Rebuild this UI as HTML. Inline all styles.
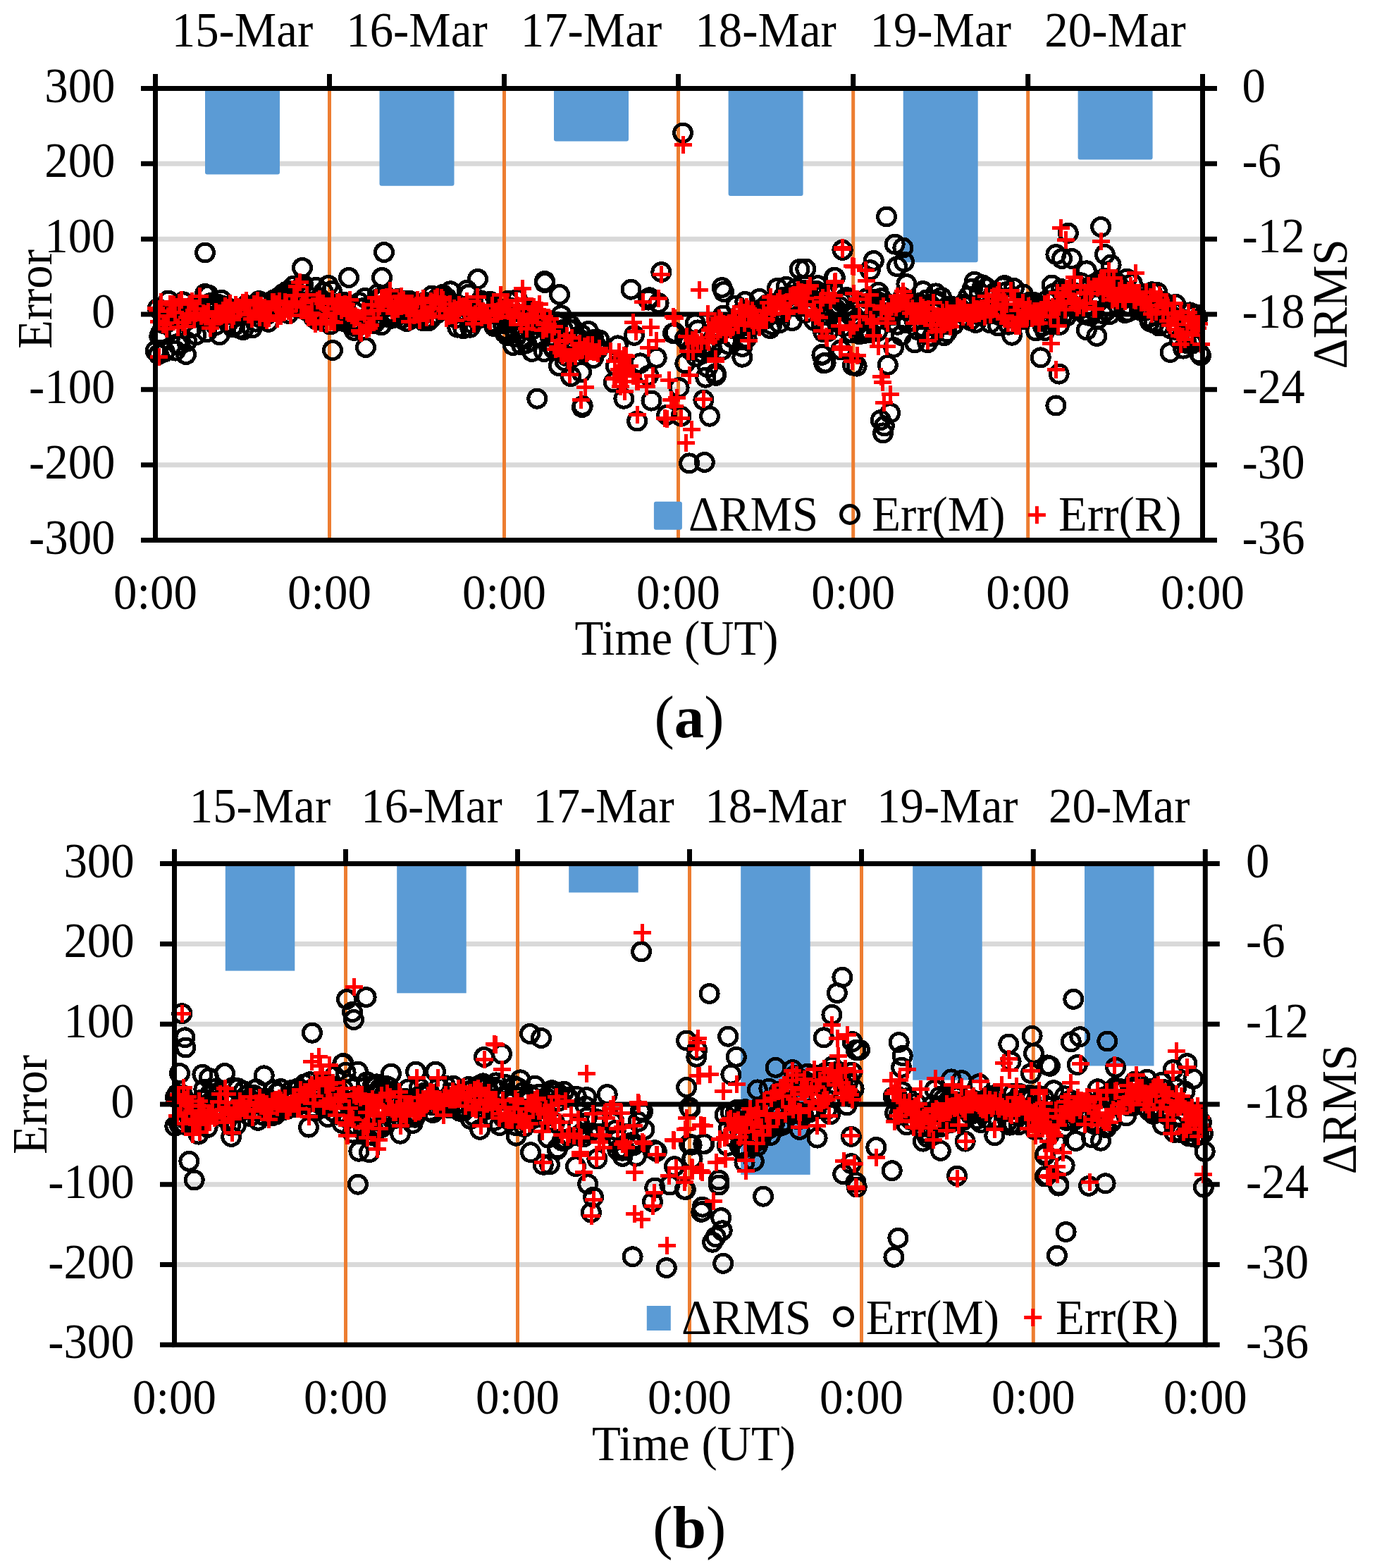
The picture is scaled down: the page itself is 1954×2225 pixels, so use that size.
<!DOCTYPE html>
<html><head><meta charset="utf-8"><title>Error and RMS charts</title>
<style>html,body{margin:0;padding:0;background:#fff;}svg{display:block;}</style></head>
<body><svg width="1954" height="2225" viewBox="0 0 1954 2225" font-family="'Liberation Serif','Times New Roman',serif" font-size="70" fill="#000">
<rect width="1954" height="2225" fill="#fff"/>
<line x1="220.5" y1="232.3" x2="1706.5" y2="232.3" stroke="#d9d9d9" stroke-width="7"/>
<line x1="220.5" y1="339.2" x2="1706.5" y2="339.2" stroke="#d9d9d9" stroke-width="7"/>
<line x1="220.5" y1="552.8" x2="1706.5" y2="552.8" stroke="#d9d9d9" stroke-width="7"/>
<line x1="220.5" y1="659.7" x2="1706.5" y2="659.7" stroke="#d9d9d9" stroke-width="7"/>
<line x1="467.5" y1="125.5" x2="467.5" y2="766.5" stroke="#ed7d31" stroke-width="5"/>
<line x1="715.5" y1="125.5" x2="715.5" y2="766.5" stroke="#ed7d31" stroke-width="5"/>
<line x1="962.5" y1="125.5" x2="962.5" y2="766.5" stroke="#ed7d31" stroke-width="5"/>
<line x1="1210.7" y1="125.5" x2="1210.7" y2="766.5" stroke="#ed7d31" stroke-width="5"/>
<line x1="1458.7" y1="125.5" x2="1458.7" y2="766.5" stroke="#ed7d31" stroke-width="5"/>
<rect x="291" y="125.5" width="106" height="122.1" fill="#5b9bd5" rx="3"/>
<rect x="538.5" y="125.5" width="106" height="138.2" fill="#5b9bd5" rx="3"/>
<rect x="786" y="125.5" width="106" height="75.1" fill="#5b9bd5" rx="3"/>
<rect x="1033.6" y="125.5" width="106" height="152.6" fill="#5b9bd5" rx="3"/>
<rect x="1281.7" y="125.5" width="106" height="246.8" fill="#5b9bd5" rx="3"/>
<rect x="1529.6" y="125.5" width="106" height="101.1" fill="#5b9bd5" rx="3"/>
<line x1="220.5" y1="446" x2="1706.5" y2="446" stroke="#000" stroke-width="7"/>
<path d="M208.1 498a12.5 12.5 0 1 0 25 0a12.5 12.5 0 1 0 -25 0M211.3 437.6a12.5 12.5 0 1 0 25 0a12.5 12.5 0 1 0 -25 0M213.8 477.3a12.5 12.5 0 1 0 25 0a12.5 12.5 0 1 0 -25 0M215.9 472.3a12.5 12.5 0 1 0 25 0a12.5 12.5 0 1 0 -25 0M219 459a12.5 12.5 0 1 0 25 0a12.5 12.5 0 1 0 -25 0M221.4 499.1a12.5 12.5 0 1 0 25 0a12.5 12.5 0 1 0 -25 0M223.5 458.4a12.5 12.5 0 1 0 25 0a12.5 12.5 0 1 0 -25 0M226.4 426.5a12.5 12.5 0 1 0 25 0a12.5 12.5 0 1 0 -25 0M229.2 451.9a12.5 12.5 0 1 0 25 0a12.5 12.5 0 1 0 -25 0M231.2 464.8a12.5 12.5 0 1 0 25 0a12.5 12.5 0 1 0 -25 0M234.3 445.9a12.5 12.5 0 1 0 25 0a12.5 12.5 0 1 0 -25 0M236.6 497.6a12.5 12.5 0 1 0 25 0a12.5 12.5 0 1 0 -25 0M239.7 489a12.5 12.5 0 1 0 25 0a12.5 12.5 0 1 0 -25 0M242.3 489.6a12.5 12.5 0 1 0 25 0a12.5 12.5 0 1 0 -25 0M245.1 444.4a12.5 12.5 0 1 0 25 0a12.5 12.5 0 1 0 -25 0M247.4 428.3a12.5 12.5 0 1 0 25 0a12.5 12.5 0 1 0 -25 0M249.8 450.6a12.5 12.5 0 1 0 25 0a12.5 12.5 0 1 0 -25 0M252.7 484.7a12.5 12.5 0 1 0 25 0a12.5 12.5 0 1 0 -25 0M255.3 440.2a12.5 12.5 0 1 0 25 0a12.5 12.5 0 1 0 -25 0M257.9 447.1a12.5 12.5 0 1 0 25 0a12.5 12.5 0 1 0 -25 0M259.8 465.1a12.5 12.5 0 1 0 25 0a12.5 12.5 0 1 0 -25 0M262.3 435a12.5 12.5 0 1 0 25 0a12.5 12.5 0 1 0 -25 0M265.7 475.3a12.5 12.5 0 1 0 25 0a12.5 12.5 0 1 0 -25 0M268 431.9a12.5 12.5 0 1 0 25 0a12.5 12.5 0 1 0 -25 0M270.6 444.3a12.5 12.5 0 1 0 25 0a12.5 12.5 0 1 0 -25 0M272.7 449.1a12.5 12.5 0 1 0 25 0a12.5 12.5 0 1 0 -25 0M275.7 444.7a12.5 12.5 0 1 0 25 0a12.5 12.5 0 1 0 -25 0M278.4 417a12.5 12.5 0 1 0 25 0a12.5 12.5 0 1 0 -25 0M281 471.3a12.5 12.5 0 1 0 25 0a12.5 12.5 0 1 0 -25 0M283.1 418.5a12.5 12.5 0 1 0 25 0a12.5 12.5 0 1 0 -25 0M285.5 430.1a12.5 12.5 0 1 0 25 0a12.5 12.5 0 1 0 -25 0M288.2 448.9a12.5 12.5 0 1 0 25 0a12.5 12.5 0 1 0 -25 0M291 431.4a12.5 12.5 0 1 0 25 0a12.5 12.5 0 1 0 -25 0M293.5 461.4a12.5 12.5 0 1 0 25 0a12.5 12.5 0 1 0 -25 0M295.8 431.5a12.5 12.5 0 1 0 25 0a12.5 12.5 0 1 0 -25 0M299 475.3a12.5 12.5 0 1 0 25 0a12.5 12.5 0 1 0 -25 0M301.7 425.8a12.5 12.5 0 1 0 25 0a12.5 12.5 0 1 0 -25 0M304.2 434.2a12.5 12.5 0 1 0 25 0a12.5 12.5 0 1 0 -25 0M307 446.9a12.5 12.5 0 1 0 25 0a12.5 12.5 0 1 0 -25 0M309 435.5a12.5 12.5 0 1 0 25 0a12.5 12.5 0 1 0 -25 0M311.3 457.9a12.5 12.5 0 1 0 25 0a12.5 12.5 0 1 0 -25 0M314.2 444a12.5 12.5 0 1 0 25 0a12.5 12.5 0 1 0 -25 0M317.3 463.9a12.5 12.5 0 1 0 25 0a12.5 12.5 0 1 0 -25 0M319.6 462.8a12.5 12.5 0 1 0 25 0a12.5 12.5 0 1 0 -25 0M322.2 449.2a12.5 12.5 0 1 0 25 0a12.5 12.5 0 1 0 -25 0M324.5 441.8a12.5 12.5 0 1 0 25 0a12.5 12.5 0 1 0 -25 0M327.3 466.1a12.5 12.5 0 1 0 25 0a12.5 12.5 0 1 0 -25 0M329.4 444.5a12.5 12.5 0 1 0 25 0a12.5 12.5 0 1 0 -25 0M332.4 468.2a12.5 12.5 0 1 0 25 0a12.5 12.5 0 1 0 -25 0M335 444.8a12.5 12.5 0 1 0 25 0a12.5 12.5 0 1 0 -25 0M337 433a12.5 12.5 0 1 0 25 0a12.5 12.5 0 1 0 -25 0M340.2 433.7a12.5 12.5 0 1 0 25 0a12.5 12.5 0 1 0 -25 0M343.1 447.2a12.5 12.5 0 1 0 25 0a12.5 12.5 0 1 0 -25 0M345.2 465.5a12.5 12.5 0 1 0 25 0a12.5 12.5 0 1 0 -25 0M347.9 436.5a12.5 12.5 0 1 0 25 0a12.5 12.5 0 1 0 -25 0M350.2 456.6a12.5 12.5 0 1 0 25 0a12.5 12.5 0 1 0 -25 0M352.5 441.8a12.5 12.5 0 1 0 25 0a12.5 12.5 0 1 0 -25 0M355.2 427a12.5 12.5 0 1 0 25 0a12.5 12.5 0 1 0 -25 0M357.7 451.5a12.5 12.5 0 1 0 25 0a12.5 12.5 0 1 0 -25 0M360.4 431.4a12.5 12.5 0 1 0 25 0a12.5 12.5 0 1 0 -25 0M363.1 442.9a12.5 12.5 0 1 0 25 0a12.5 12.5 0 1 0 -25 0M366.3 446.5a12.5 12.5 0 1 0 25 0a12.5 12.5 0 1 0 -25 0M368.4 456.9a12.5 12.5 0 1 0 25 0a12.5 12.5 0 1 0 -25 0M370.6 440.7a12.5 12.5 0 1 0 25 0a12.5 12.5 0 1 0 -25 0M373.3 436.9a12.5 12.5 0 1 0 25 0a12.5 12.5 0 1 0 -25 0M376.1 425.5a12.5 12.5 0 1 0 25 0a12.5 12.5 0 1 0 -25 0M378.9 439a12.5 12.5 0 1 0 25 0a12.5 12.5 0 1 0 -25 0M381.2 430.9a12.5 12.5 0 1 0 25 0a12.5 12.5 0 1 0 -25 0M383.5 421.7a12.5 12.5 0 1 0 25 0a12.5 12.5 0 1 0 -25 0M386.7 429.1a12.5 12.5 0 1 0 25 0a12.5 12.5 0 1 0 -25 0M389 416.8a12.5 12.5 0 1 0 25 0a12.5 12.5 0 1 0 -25 0M391.8 431.2a12.5 12.5 0 1 0 25 0a12.5 12.5 0 1 0 -25 0M394.1 413.7a12.5 12.5 0 1 0 25 0a12.5 12.5 0 1 0 -25 0M397.1 444.9a12.5 12.5 0 1 0 25 0a12.5 12.5 0 1 0 -25 0M399.3 413.4a12.5 12.5 0 1 0 25 0a12.5 12.5 0 1 0 -25 0M401.9 422.5a12.5 12.5 0 1 0 25 0a12.5 12.5 0 1 0 -25 0M404.2 405.6a12.5 12.5 0 1 0 25 0a12.5 12.5 0 1 0 -25 0M407.6 436a12.5 12.5 0 1 0 25 0a12.5 12.5 0 1 0 -25 0M409.9 427.3a12.5 12.5 0 1 0 25 0a12.5 12.5 0 1 0 -25 0M412.3 429.7a12.5 12.5 0 1 0 25 0a12.5 12.5 0 1 0 -25 0M415.2 407.4a12.5 12.5 0 1 0 25 0a12.5 12.5 0 1 0 -25 0M417.5 403.9a12.5 12.5 0 1 0 25 0a12.5 12.5 0 1 0 -25 0M420.5 440a12.5 12.5 0 1 0 25 0a12.5 12.5 0 1 0 -25 0M422.4 435.9a12.5 12.5 0 1 0 25 0a12.5 12.5 0 1 0 -25 0M425.1 420.6a12.5 12.5 0 1 0 25 0a12.5 12.5 0 1 0 -25 0M427.9 431.9a12.5 12.5 0 1 0 25 0a12.5 12.5 0 1 0 -25 0M430.2 440.6a12.5 12.5 0 1 0 25 0a12.5 12.5 0 1 0 -25 0M432.9 451.2a12.5 12.5 0 1 0 25 0a12.5 12.5 0 1 0 -25 0M435.9 407.8a12.5 12.5 0 1 0 25 0a12.5 12.5 0 1 0 -25 0M437.7 454.4a12.5 12.5 0 1 0 25 0a12.5 12.5 0 1 0 -25 0M440.9 422.9a12.5 12.5 0 1 0 25 0a12.5 12.5 0 1 0 -25 0M443.3 442.7a12.5 12.5 0 1 0 25 0a12.5 12.5 0 1 0 -25 0M446.3 414.5a12.5 12.5 0 1 0 25 0a12.5 12.5 0 1 0 -25 0M448.5 446.7a12.5 12.5 0 1 0 25 0a12.5 12.5 0 1 0 -25 0M451.4 444.7a12.5 12.5 0 1 0 25 0a12.5 12.5 0 1 0 -25 0M453.5 431.2a12.5 12.5 0 1 0 25 0a12.5 12.5 0 1 0 -25 0M456.3 460.5a12.5 12.5 0 1 0 25 0a12.5 12.5 0 1 0 -25 0M458.3 412.8a12.5 12.5 0 1 0 25 0a12.5 12.5 0 1 0 -25 0M461 438.3a12.5 12.5 0 1 0 25 0a12.5 12.5 0 1 0 -25 0M463.8 433.2a12.5 12.5 0 1 0 25 0a12.5 12.5 0 1 0 -25 0M466.7 445.2a12.5 12.5 0 1 0 25 0a12.5 12.5 0 1 0 -25 0M468.9 430.5a12.5 12.5 0 1 0 25 0a12.5 12.5 0 1 0 -25 0M471.9 447.7a12.5 12.5 0 1 0 25 0a12.5 12.5 0 1 0 -25 0M474.4 455.8a12.5 12.5 0 1 0 25 0a12.5 12.5 0 1 0 -25 0M477.3 429.1a12.5 12.5 0 1 0 25 0a12.5 12.5 0 1 0 -25 0M479.4 445.8a12.5 12.5 0 1 0 25 0a12.5 12.5 0 1 0 -25 0M482.1 452.5a12.5 12.5 0 1 0 25 0a12.5 12.5 0 1 0 -25 0M485 461a12.5 12.5 0 1 0 25 0a12.5 12.5 0 1 0 -25 0M487.5 457.5a12.5 12.5 0 1 0 25 0a12.5 12.5 0 1 0 -25 0M490 468.9a12.5 12.5 0 1 0 25 0a12.5 12.5 0 1 0 -25 0M492.5 463.6a12.5 12.5 0 1 0 25 0a12.5 12.5 0 1 0 -25 0M495.2 454.4a12.5 12.5 0 1 0 25 0a12.5 12.5 0 1 0 -25 0M497.4 429.2a12.5 12.5 0 1 0 25 0a12.5 12.5 0 1 0 -25 0M500 438.3a12.5 12.5 0 1 0 25 0a12.5 12.5 0 1 0 -25 0M502.2 437.2a12.5 12.5 0 1 0 25 0a12.5 12.5 0 1 0 -25 0M505.5 422.9a12.5 12.5 0 1 0 25 0a12.5 12.5 0 1 0 -25 0M507.8 460.1a12.5 12.5 0 1 0 25 0a12.5 12.5 0 1 0 -25 0M510.1 458.9a12.5 12.5 0 1 0 25 0a12.5 12.5 0 1 0 -25 0M512.5 446.5a12.5 12.5 0 1 0 25 0a12.5 12.5 0 1 0 -25 0M515.8 459.4a12.5 12.5 0 1 0 25 0a12.5 12.5 0 1 0 -25 0M518.3 459.1a12.5 12.5 0 1 0 25 0a12.5 12.5 0 1 0 -25 0M520.3 457.1a12.5 12.5 0 1 0 25 0a12.5 12.5 0 1 0 -25 0M523.2 417.5a12.5 12.5 0 1 0 25 0a12.5 12.5 0 1 0 -25 0M525.9 423.2a12.5 12.5 0 1 0 25 0a12.5 12.5 0 1 0 -25 0M528.5 461.4a12.5 12.5 0 1 0 25 0a12.5 12.5 0 1 0 -25 0M531.4 424.2a12.5 12.5 0 1 0 25 0a12.5 12.5 0 1 0 -25 0M533.6 419a12.5 12.5 0 1 0 25 0a12.5 12.5 0 1 0 -25 0M535.7 433.5a12.5 12.5 0 1 0 25 0a12.5 12.5 0 1 0 -25 0M538.9 450.2a12.5 12.5 0 1 0 25 0a12.5 12.5 0 1 0 -25 0M541.2 449a12.5 12.5 0 1 0 25 0a12.5 12.5 0 1 0 -25 0M544 451.7a12.5 12.5 0 1 0 25 0a12.5 12.5 0 1 0 -25 0M546.8 429.3a12.5 12.5 0 1 0 25 0a12.5 12.5 0 1 0 -25 0M548.9 450.2a12.5 12.5 0 1 0 25 0a12.5 12.5 0 1 0 -25 0M551.4 424a12.5 12.5 0 1 0 25 0a12.5 12.5 0 1 0 -25 0M553.8 427.4a12.5 12.5 0 1 0 25 0a12.5 12.5 0 1 0 -25 0M556.7 452.1a12.5 12.5 0 1 0 25 0a12.5 12.5 0 1 0 -25 0M559.3 431.7a12.5 12.5 0 1 0 25 0a12.5 12.5 0 1 0 -25 0M561.8 426.8a12.5 12.5 0 1 0 25 0a12.5 12.5 0 1 0 -25 0M564.5 456a12.5 12.5 0 1 0 25 0a12.5 12.5 0 1 0 -25 0M566.9 446.9a12.5 12.5 0 1 0 25 0a12.5 12.5 0 1 0 -25 0M569.4 427a12.5 12.5 0 1 0 25 0a12.5 12.5 0 1 0 -25 0M572.1 447.6a12.5 12.5 0 1 0 25 0a12.5 12.5 0 1 0 -25 0M575.2 451.6a12.5 12.5 0 1 0 25 0a12.5 12.5 0 1 0 -25 0M577.8 445.1a12.5 12.5 0 1 0 25 0a12.5 12.5 0 1 0 -25 0M580.4 433.4a12.5 12.5 0 1 0 25 0a12.5 12.5 0 1 0 -25 0M583 439.1a12.5 12.5 0 1 0 25 0a12.5 12.5 0 1 0 -25 0M585.5 448.1a12.5 12.5 0 1 0 25 0a12.5 12.5 0 1 0 -25 0M588.2 455.4a12.5 12.5 0 1 0 25 0a12.5 12.5 0 1 0 -25 0M590.5 429a12.5 12.5 0 1 0 25 0a12.5 12.5 0 1 0 -25 0M592.6 431.5a12.5 12.5 0 1 0 25 0a12.5 12.5 0 1 0 -25 0M595.5 455.4a12.5 12.5 0 1 0 25 0a12.5 12.5 0 1 0 -25 0M598.5 452.5a12.5 12.5 0 1 0 25 0a12.5 12.5 0 1 0 -25 0M600.5 419.5a12.5 12.5 0 1 0 25 0a12.5 12.5 0 1 0 -25 0M603.6 428.8a12.5 12.5 0 1 0 25 0a12.5 12.5 0 1 0 -25 0M605.9 445.8a12.5 12.5 0 1 0 25 0a12.5 12.5 0 1 0 -25 0M608.3 422.4a12.5 12.5 0 1 0 25 0a12.5 12.5 0 1 0 -25 0M610.6 424.6a12.5 12.5 0 1 0 25 0a12.5 12.5 0 1 0 -25 0M613.2 426.1a12.5 12.5 0 1 0 25 0a12.5 12.5 0 1 0 -25 0M615.9 417.9a12.5 12.5 0 1 0 25 0a12.5 12.5 0 1 0 -25 0M618.6 431.3a12.5 12.5 0 1 0 25 0a12.5 12.5 0 1 0 -25 0M621.4 422.8a12.5 12.5 0 1 0 25 0a12.5 12.5 0 1 0 -25 0M624.1 427.4a12.5 12.5 0 1 0 25 0a12.5 12.5 0 1 0 -25 0M626.8 413.3a12.5 12.5 0 1 0 25 0a12.5 12.5 0 1 0 -25 0M628.7 432.5a12.5 12.5 0 1 0 25 0a12.5 12.5 0 1 0 -25 0M631.5 437.6a12.5 12.5 0 1 0 25 0a12.5 12.5 0 1 0 -25 0M634.1 451.3a12.5 12.5 0 1 0 25 0a12.5 12.5 0 1 0 -25 0M636.8 464.6a12.5 12.5 0 1 0 25 0a12.5 12.5 0 1 0 -25 0M639.7 444a12.5 12.5 0 1 0 25 0a12.5 12.5 0 1 0 -25 0M642 443.1a12.5 12.5 0 1 0 25 0a12.5 12.5 0 1 0 -25 0M644.9 466.2a12.5 12.5 0 1 0 25 0a12.5 12.5 0 1 0 -25 0M647.1 435.2a12.5 12.5 0 1 0 25 0a12.5 12.5 0 1 0 -25 0M650.2 411.8a12.5 12.5 0 1 0 25 0a12.5 12.5 0 1 0 -25 0M652.4 417.8a12.5 12.5 0 1 0 25 0a12.5 12.5 0 1 0 -25 0M654.6 464.7a12.5 12.5 0 1 0 25 0a12.5 12.5 0 1 0 -25 0M657 458.6a12.5 12.5 0 1 0 25 0a12.5 12.5 0 1 0 -25 0M659.6 433.9a12.5 12.5 0 1 0 25 0a12.5 12.5 0 1 0 -25 0M663.1 452.8a12.5 12.5 0 1 0 25 0a12.5 12.5 0 1 0 -25 0M665.6 452.5a12.5 12.5 0 1 0 25 0a12.5 12.5 0 1 0 -25 0M667.8 430.9a12.5 12.5 0 1 0 25 0a12.5 12.5 0 1 0 -25 0M669.9 426.4a12.5 12.5 0 1 0 25 0a12.5 12.5 0 1 0 -25 0M673.2 430.8a12.5 12.5 0 1 0 25 0a12.5 12.5 0 1 0 -25 0M675.9 449a12.5 12.5 0 1 0 25 0a12.5 12.5 0 1 0 -25 0M677.7 429.8a12.5 12.5 0 1 0 25 0a12.5 12.5 0 1 0 -25 0M680.4 429.8a12.5 12.5 0 1 0 25 0a12.5 12.5 0 1 0 -25 0M683.1 427.7a12.5 12.5 0 1 0 25 0a12.5 12.5 0 1 0 -25 0M686.2 457.6a12.5 12.5 0 1 0 25 0a12.5 12.5 0 1 0 -25 0M688.8 463.2a12.5 12.5 0 1 0 25 0a12.5 12.5 0 1 0 -25 0M691.3 435.3a12.5 12.5 0 1 0 25 0a12.5 12.5 0 1 0 -25 0M693.4 460.5a12.5 12.5 0 1 0 25 0a12.5 12.5 0 1 0 -25 0M696 443a12.5 12.5 0 1 0 25 0a12.5 12.5 0 1 0 -25 0M699 449.1a12.5 12.5 0 1 0 25 0a12.5 12.5 0 1 0 -25 0M701.1 459.4a12.5 12.5 0 1 0 25 0a12.5 12.5 0 1 0 -25 0M703.6 472.1a12.5 12.5 0 1 0 25 0a12.5 12.5 0 1 0 -25 0M706.6 468.7a12.5 12.5 0 1 0 25 0a12.5 12.5 0 1 0 -25 0M708.7 426.6a12.5 12.5 0 1 0 25 0a12.5 12.5 0 1 0 -25 0M711.7 436.7a12.5 12.5 0 1 0 25 0a12.5 12.5 0 1 0 -25 0M714.4 464.6a12.5 12.5 0 1 0 25 0a12.5 12.5 0 1 0 -25 0M717 454.8a12.5 12.5 0 1 0 25 0a12.5 12.5 0 1 0 -25 0M719.4 478.5a12.5 12.5 0 1 0 25 0a12.5 12.5 0 1 0 -25 0M721.5 424.8a12.5 12.5 0 1 0 25 0a12.5 12.5 0 1 0 -25 0M724.2 466.3a12.5 12.5 0 1 0 25 0a12.5 12.5 0 1 0 -25 0M727.5 489.4a12.5 12.5 0 1 0 25 0a12.5 12.5 0 1 0 -25 0M729.4 454.3a12.5 12.5 0 1 0 25 0a12.5 12.5 0 1 0 -25 0M732 480.9a12.5 12.5 0 1 0 25 0a12.5 12.5 0 1 0 -25 0M734.7 486.9a12.5 12.5 0 1 0 25 0a12.5 12.5 0 1 0 -25 0M737.4 451.3a12.5 12.5 0 1 0 25 0a12.5 12.5 0 1 0 -25 0M740.2 469.4a12.5 12.5 0 1 0 25 0a12.5 12.5 0 1 0 -25 0M742.3 441.5a12.5 12.5 0 1 0 25 0a12.5 12.5 0 1 0 -25 0M745 446.2a12.5 12.5 0 1 0 25 0a12.5 12.5 0 1 0 -25 0M747.4 460.4a12.5 12.5 0 1 0 25 0a12.5 12.5 0 1 0 -25 0M750.6 478.3a12.5 12.5 0 1 0 25 0a12.5 12.5 0 1 0 -25 0M752.7 455.3a12.5 12.5 0 1 0 25 0a12.5 12.5 0 1 0 -25 0M755.2 457.4a12.5 12.5 0 1 0 25 0a12.5 12.5 0 1 0 -25 0M758 457.9a12.5 12.5 0 1 0 25 0a12.5 12.5 0 1 0 -25 0M760.3 465a12.5 12.5 0 1 0 25 0a12.5 12.5 0 1 0 -25 0M762.9 467.9a12.5 12.5 0 1 0 25 0a12.5 12.5 0 1 0 -25 0M766.2 470.6a12.5 12.5 0 1 0 25 0a12.5 12.5 0 1 0 -25 0M768.1 477.4a12.5 12.5 0 1 0 25 0a12.5 12.5 0 1 0 -25 0M770.5 490.7a12.5 12.5 0 1 0 25 0a12.5 12.5 0 1 0 -25 0M773.3 495.4a12.5 12.5 0 1 0 25 0a12.5 12.5 0 1 0 -25 0M776.3 456.5a12.5 12.5 0 1 0 25 0a12.5 12.5 0 1 0 -25 0M778.6 460a12.5 12.5 0 1 0 25 0a12.5 12.5 0 1 0 -25 0M781.3 499.2a12.5 12.5 0 1 0 25 0a12.5 12.5 0 1 0 -25 0M783.9 447.3a12.5 12.5 0 1 0 25 0a12.5 12.5 0 1 0 -25 0M786.5 467.8a12.5 12.5 0 1 0 25 0a12.5 12.5 0 1 0 -25 0M789 512.1a12.5 12.5 0 1 0 25 0a12.5 12.5 0 1 0 -25 0M791.2 505.3a12.5 12.5 0 1 0 25 0a12.5 12.5 0 1 0 -25 0M794.6 467a12.5 12.5 0 1 0 25 0a12.5 12.5 0 1 0 -25 0M797.1 461.7a12.5 12.5 0 1 0 25 0a12.5 12.5 0 1 0 -25 0M799.3 489.7a12.5 12.5 0 1 0 25 0a12.5 12.5 0 1 0 -25 0M801.5 467.8a12.5 12.5 0 1 0 25 0a12.5 12.5 0 1 0 -25 0M804.6 494.2a12.5 12.5 0 1 0 25 0a12.5 12.5 0 1 0 -25 0M807.5 479.8a12.5 12.5 0 1 0 25 0a12.5 12.5 0 1 0 -25 0M809.5 480.9a12.5 12.5 0 1 0 25 0a12.5 12.5 0 1 0 -25 0M812.3 474.7a12.5 12.5 0 1 0 25 0a12.5 12.5 0 1 0 -25 0M815.2 498.9a12.5 12.5 0 1 0 25 0a12.5 12.5 0 1 0 -25 0M817.6 493.4a12.5 12.5 0 1 0 25 0a12.5 12.5 0 1 0 -25 0M819.6 485.8a12.5 12.5 0 1 0 25 0a12.5 12.5 0 1 0 -25 0M822.8 489.2a12.5 12.5 0 1 0 25 0a12.5 12.5 0 1 0 -25 0M825.4 490.7a12.5 12.5 0 1 0 25 0a12.5 12.5 0 1 0 -25 0M827.7 483.4a12.5 12.5 0 1 0 25 0a12.5 12.5 0 1 0 -25 0M830.1 482a12.5 12.5 0 1 0 25 0a12.5 12.5 0 1 0 -25 0M833 489.7a12.5 12.5 0 1 0 25 0a12.5 12.5 0 1 0 -25 0M835.5 496.4a12.5 12.5 0 1 0 25 0a12.5 12.5 0 1 0 -25 0M838 482.4a12.5 12.5 0 1 0 25 0a12.5 12.5 0 1 0 -25 0M959.4 480.6a12.5 12.5 0 1 0 25 0a12.5 12.5 0 1 0 -25 0M964.9 487.3a12.5 12.5 0 1 0 25 0a12.5 12.5 0 1 0 -25 0M967.3 496.7a12.5 12.5 0 1 0 25 0a12.5 12.5 0 1 0 -25 0M975.2 506.3a12.5 12.5 0 1 0 25 0a12.5 12.5 0 1 0 -25 0M977.7 468.4a12.5 12.5 0 1 0 25 0a12.5 12.5 0 1 0 -25 0M985.1 501.7a12.5 12.5 0 1 0 25 0a12.5 12.5 0 1 0 -25 0M987.6 489.7a12.5 12.5 0 1 0 25 0a12.5 12.5 0 1 0 -25 0M989.8 495.6a12.5 12.5 0 1 0 25 0a12.5 12.5 0 1 0 -25 0M995.2 493a12.5 12.5 0 1 0 25 0a12.5 12.5 0 1 0 -25 0M997.7 494.1a12.5 12.5 0 1 0 25 0a12.5 12.5 0 1 0 -25 0M1002.8 469.3a12.5 12.5 0 1 0 25 0a12.5 12.5 0 1 0 -25 0M1005.5 475.2a12.5 12.5 0 1 0 25 0a12.5 12.5 0 1 0 -25 0M1008.2 457.1a12.5 12.5 0 1 0 25 0a12.5 12.5 0 1 0 -25 0M1011 468.7a12.5 12.5 0 1 0 25 0a12.5 12.5 0 1 0 -25 0M1013.5 447.6a12.5 12.5 0 1 0 25 0a12.5 12.5 0 1 0 -25 0M1015.7 462a12.5 12.5 0 1 0 25 0a12.5 12.5 0 1 0 -25 0M1018.5 462a12.5 12.5 0 1 0 25 0a12.5 12.5 0 1 0 -25 0M1021.2 488.7a12.5 12.5 0 1 0 25 0a12.5 12.5 0 1 0 -25 0M1024.2 460.3a12.5 12.5 0 1 0 25 0a12.5 12.5 0 1 0 -25 0M1026 478.9a12.5 12.5 0 1 0 25 0a12.5 12.5 0 1 0 -25 0M1028.8 466.6a12.5 12.5 0 1 0 25 0a12.5 12.5 0 1 0 -25 0M1032 433.5a12.5 12.5 0 1 0 25 0a12.5 12.5 0 1 0 -25 0M1033.9 466.7a12.5 12.5 0 1 0 25 0a12.5 12.5 0 1 0 -25 0M1036.6 454.6a12.5 12.5 0 1 0 25 0a12.5 12.5 0 1 0 -25 0M1039.5 443.7a12.5 12.5 0 1 0 25 0a12.5 12.5 0 1 0 -25 0M1042 480.8a12.5 12.5 0 1 0 25 0a12.5 12.5 0 1 0 -25 0M1044.8 427.9a12.5 12.5 0 1 0 25 0a12.5 12.5 0 1 0 -25 0M1047.1 479.6a12.5 12.5 0 1 0 25 0a12.5 12.5 0 1 0 -25 0M1049.8 462.4a12.5 12.5 0 1 0 25 0a12.5 12.5 0 1 0 -25 0M1052.1 443.3a12.5 12.5 0 1 0 25 0a12.5 12.5 0 1 0 -25 0M1054.8 458.9a12.5 12.5 0 1 0 25 0a12.5 12.5 0 1 0 -25 0M1057.6 446.5a12.5 12.5 0 1 0 25 0a12.5 12.5 0 1 0 -25 0M1060.3 443.1a12.5 12.5 0 1 0 25 0a12.5 12.5 0 1 0 -25 0M1062.9 460.3a12.5 12.5 0 1 0 25 0a12.5 12.5 0 1 0 -25 0M1065.2 423.9a12.5 12.5 0 1 0 25 0a12.5 12.5 0 1 0 -25 0M1068.1 441.7a12.5 12.5 0 1 0 25 0a12.5 12.5 0 1 0 -25 0M1070.5 437a12.5 12.5 0 1 0 25 0a12.5 12.5 0 1 0 -25 0M1073.1 453a12.5 12.5 0 1 0 25 0a12.5 12.5 0 1 0 -25 0M1075.5 432.4a12.5 12.5 0 1 0 25 0a12.5 12.5 0 1 0 -25 0M1078 448.2a12.5 12.5 0 1 0 25 0a12.5 12.5 0 1 0 -25 0M1080.4 466.1a12.5 12.5 0 1 0 25 0a12.5 12.5 0 1 0 -25 0M1083 460.8a12.5 12.5 0 1 0 25 0a12.5 12.5 0 1 0 -25 0M1086.1 444.9a12.5 12.5 0 1 0 25 0a12.5 12.5 0 1 0 -25 0M1088.2 445.2a12.5 12.5 0 1 0 25 0a12.5 12.5 0 1 0 -25 0M1090.5 408.9a12.5 12.5 0 1 0 25 0a12.5 12.5 0 1 0 -25 0M1093.5 458.4a12.5 12.5 0 1 0 25 0a12.5 12.5 0 1 0 -25 0M1096.4 445.6a12.5 12.5 0 1 0 25 0a12.5 12.5 0 1 0 -25 0M1098.7 421.8a12.5 12.5 0 1 0 25 0a12.5 12.5 0 1 0 -25 0M1101.1 425.1a12.5 12.5 0 1 0 25 0a12.5 12.5 0 1 0 -25 0M1103.3 406.8a12.5 12.5 0 1 0 25 0a12.5 12.5 0 1 0 -25 0M1105.9 428.1a12.5 12.5 0 1 0 25 0a12.5 12.5 0 1 0 -25 0M1109.3 418.6a12.5 12.5 0 1 0 25 0a12.5 12.5 0 1 0 -25 0M1111.6 455.1a12.5 12.5 0 1 0 25 0a12.5 12.5 0 1 0 -25 0M1114.2 433.1a12.5 12.5 0 1 0 25 0a12.5 12.5 0 1 0 -25 0M1117 410.1a12.5 12.5 0 1 0 25 0a12.5 12.5 0 1 0 -25 0M1119.2 433.5a12.5 12.5 0 1 0 25 0a12.5 12.5 0 1 0 -25 0M1121.9 417.1a12.5 12.5 0 1 0 25 0a12.5 12.5 0 1 0 -25 0M1124.9 415.2a12.5 12.5 0 1 0 25 0a12.5 12.5 0 1 0 -25 0M1127.3 411.9a12.5 12.5 0 1 0 25 0a12.5 12.5 0 1 0 -25 0M1129.6 444a12.5 12.5 0 1 0 25 0a12.5 12.5 0 1 0 -25 0M1132.2 415.8a12.5 12.5 0 1 0 25 0a12.5 12.5 0 1 0 -25 0M1134.6 432.3a12.5 12.5 0 1 0 25 0a12.5 12.5 0 1 0 -25 0M1137 430.4a12.5 12.5 0 1 0 25 0a12.5 12.5 0 1 0 -25 0M1140.3 414.7a12.5 12.5 0 1 0 25 0a12.5 12.5 0 1 0 -25 0M1142.8 455a12.5 12.5 0 1 0 25 0a12.5 12.5 0 1 0 -25 0M1145.2 412.5a12.5 12.5 0 1 0 25 0a12.5 12.5 0 1 0 -25 0M1147.9 405.1a12.5 12.5 0 1 0 25 0a12.5 12.5 0 1 0 -25 0M1150.1 418.1a12.5 12.5 0 1 0 25 0a12.5 12.5 0 1 0 -25 0M1153.2 459.4a12.5 12.5 0 1 0 25 0a12.5 12.5 0 1 0 -25 0M1155.3 426.7a12.5 12.5 0 1 0 25 0a12.5 12.5 0 1 0 -25 0M1157.6 415.9a12.5 12.5 0 1 0 25 0a12.5 12.5 0 1 0 -25 0M1160.5 460a12.5 12.5 0 1 0 25 0a12.5 12.5 0 1 0 -25 0M1162.7 470.2a12.5 12.5 0 1 0 25 0a12.5 12.5 0 1 0 -25 0M1166 440.6a12.5 12.5 0 1 0 25 0a12.5 12.5 0 1 0 -25 0M1168 443.8a12.5 12.5 0 1 0 25 0a12.5 12.5 0 1 0 -25 0M1170.5 413.4a12.5 12.5 0 1 0 25 0a12.5 12.5 0 1 0 -25 0M1173.5 438.1a12.5 12.5 0 1 0 25 0a12.5 12.5 0 1 0 -25 0M1175.5 441.5a12.5 12.5 0 1 0 25 0a12.5 12.5 0 1 0 -25 0M1178.2 434.4a12.5 12.5 0 1 0 25 0a12.5 12.5 0 1 0 -25 0M1181.3 428.4a12.5 12.5 0 1 0 25 0a12.5 12.5 0 1 0 -25 0M1184.1 463.3a12.5 12.5 0 1 0 25 0a12.5 12.5 0 1 0 -25 0M1185.8 424.3a12.5 12.5 0 1 0 25 0a12.5 12.5 0 1 0 -25 0M1189.2 422.1a12.5 12.5 0 1 0 25 0a12.5 12.5 0 1 0 -25 0M1192 445.3a12.5 12.5 0 1 0 25 0a12.5 12.5 0 1 0 -25 0M1193.9 472.1a12.5 12.5 0 1 0 25 0a12.5 12.5 0 1 0 -25 0M1196.3 472.4a12.5 12.5 0 1 0 25 0a12.5 12.5 0 1 0 -25 0M1198.7 448.2a12.5 12.5 0 1 0 25 0a12.5 12.5 0 1 0 -25 0M1202.2 453.3a12.5 12.5 0 1 0 25 0a12.5 12.5 0 1 0 -25 0M1204.6 460.3a12.5 12.5 0 1 0 25 0a12.5 12.5 0 1 0 -25 0M1206.9 474.2a12.5 12.5 0 1 0 25 0a12.5 12.5 0 1 0 -25 0M1209.7 432.5a12.5 12.5 0 1 0 25 0a12.5 12.5 0 1 0 -25 0M1212.4 473.4a12.5 12.5 0 1 0 25 0a12.5 12.5 0 1 0 -25 0M1215 469.6a12.5 12.5 0 1 0 25 0a12.5 12.5 0 1 0 -25 0M1217.3 423.5a12.5 12.5 0 1 0 25 0a12.5 12.5 0 1 0 -25 0M1219.4 468.8a12.5 12.5 0 1 0 25 0a12.5 12.5 0 1 0 -25 0M1222.7 472.2a12.5 12.5 0 1 0 25 0a12.5 12.5 0 1 0 -25 0M1224.6 427.8a12.5 12.5 0 1 0 25 0a12.5 12.5 0 1 0 -25 0M1227.5 425a12.5 12.5 0 1 0 25 0a12.5 12.5 0 1 0 -25 0M1230 454.9a12.5 12.5 0 1 0 25 0a12.5 12.5 0 1 0 -25 0M1232.6 470.3a12.5 12.5 0 1 0 25 0a12.5 12.5 0 1 0 -25 0M1235.5 429a12.5 12.5 0 1 0 25 0a12.5 12.5 0 1 0 -25 0M1237.8 423a12.5 12.5 0 1 0 25 0a12.5 12.5 0 1 0 -25 0M1240.2 443.1a12.5 12.5 0 1 0 25 0a12.5 12.5 0 1 0 -25 0M1243.5 436.8a12.5 12.5 0 1 0 25 0a12.5 12.5 0 1 0 -25 0M1245.9 430.3a12.5 12.5 0 1 0 25 0a12.5 12.5 0 1 0 -25 0M1248.4 434.6a12.5 12.5 0 1 0 25 0a12.5 12.5 0 1 0 -25 0M1250.6 456.9a12.5 12.5 0 1 0 25 0a12.5 12.5 0 1 0 -25 0M1253.4 447.3a12.5 12.5 0 1 0 25 0a12.5 12.5 0 1 0 -25 0M1255.7 441.9a12.5 12.5 0 1 0 25 0a12.5 12.5 0 1 0 -25 0M1258.6 437.7a12.5 12.5 0 1 0 25 0a12.5 12.5 0 1 0 -25 0M1261.2 460.7a12.5 12.5 0 1 0 25 0a12.5 12.5 0 1 0 -25 0M1263.4 435.4a12.5 12.5 0 1 0 25 0a12.5 12.5 0 1 0 -25 0M1266.6 476.1a12.5 12.5 0 1 0 25 0a12.5 12.5 0 1 0 -25 0M1268.5 422.1a12.5 12.5 0 1 0 25 0a12.5 12.5 0 1 0 -25 0M1271 431.8a12.5 12.5 0 1 0 25 0a12.5 12.5 0 1 0 -25 0M1274.4 440.7a12.5 12.5 0 1 0 25 0a12.5 12.5 0 1 0 -25 0M1276.9 426a12.5 12.5 0 1 0 25 0a12.5 12.5 0 1 0 -25 0M1278.9 439a12.5 12.5 0 1 0 25 0a12.5 12.5 0 1 0 -25 0M1281.5 432.6a12.5 12.5 0 1 0 25 0a12.5 12.5 0 1 0 -25 0M1284.7 431.2a12.5 12.5 0 1 0 25 0a12.5 12.5 0 1 0 -25 0M1286.9 436.6a12.5 12.5 0 1 0 25 0a12.5 12.5 0 1 0 -25 0M1290 468.3a12.5 12.5 0 1 0 25 0a12.5 12.5 0 1 0 -25 0M1291.9 430.2a12.5 12.5 0 1 0 25 0a12.5 12.5 0 1 0 -25 0M1294.8 453.3a12.5 12.5 0 1 0 25 0a12.5 12.5 0 1 0 -25 0M1296.8 438.9a12.5 12.5 0 1 0 25 0a12.5 12.5 0 1 0 -25 0M1299.8 473.4a12.5 12.5 0 1 0 25 0a12.5 12.5 0 1 0 -25 0M1302.4 425.4a12.5 12.5 0 1 0 25 0a12.5 12.5 0 1 0 -25 0M1304.7 447.3a12.5 12.5 0 1 0 25 0a12.5 12.5 0 1 0 -25 0M1307.8 432.6a12.5 12.5 0 1 0 25 0a12.5 12.5 0 1 0 -25 0M1310.6 477.4a12.5 12.5 0 1 0 25 0a12.5 12.5 0 1 0 -25 0M1313.1 472a12.5 12.5 0 1 0 25 0a12.5 12.5 0 1 0 -25 0M1315.6 428.9a12.5 12.5 0 1 0 25 0a12.5 12.5 0 1 0 -25 0M1318.1 427.5a12.5 12.5 0 1 0 25 0a12.5 12.5 0 1 0 -25 0M1320.8 459.2a12.5 12.5 0 1 0 25 0a12.5 12.5 0 1 0 -25 0M1323.5 421.9a12.5 12.5 0 1 0 25 0a12.5 12.5 0 1 0 -25 0M1326.1 450.7a12.5 12.5 0 1 0 25 0a12.5 12.5 0 1 0 -25 0M1328.6 460.4a12.5 12.5 0 1 0 25 0a12.5 12.5 0 1 0 -25 0M1331.1 471.3a12.5 12.5 0 1 0 25 0a12.5 12.5 0 1 0 -25 0M1333.2 447.3a12.5 12.5 0 1 0 25 0a12.5 12.5 0 1 0 -25 0M1336.1 434.3a12.5 12.5 0 1 0 25 0a12.5 12.5 0 1 0 -25 0M1338.1 441.4a12.5 12.5 0 1 0 25 0a12.5 12.5 0 1 0 -25 0M1340.9 460.7a12.5 12.5 0 1 0 25 0a12.5 12.5 0 1 0 -25 0M1343.8 435.5a12.5 12.5 0 1 0 25 0a12.5 12.5 0 1 0 -25 0M1345.8 443.1a12.5 12.5 0 1 0 25 0a12.5 12.5 0 1 0 -25 0M1348.8 436.9a12.5 12.5 0 1 0 25 0a12.5 12.5 0 1 0 -25 0M1351 451.6a12.5 12.5 0 1 0 25 0a12.5 12.5 0 1 0 -25 0M1353.7 432.1a12.5 12.5 0 1 0 25 0a12.5 12.5 0 1 0 -25 0M1356.2 434.1a12.5 12.5 0 1 0 25 0a12.5 12.5 0 1 0 -25 0M1359.3 449.4a12.5 12.5 0 1 0 25 0a12.5 12.5 0 1 0 -25 0M1361.7 420.6a12.5 12.5 0 1 0 25 0a12.5 12.5 0 1 0 -25 0M1364.4 454.8a12.5 12.5 0 1 0 25 0a12.5 12.5 0 1 0 -25 0M1367.4 409.7a12.5 12.5 0 1 0 25 0a12.5 12.5 0 1 0 -25 0M1369.5 443a12.5 12.5 0 1 0 25 0a12.5 12.5 0 1 0 -25 0M1372.2 457.9a12.5 12.5 0 1 0 25 0a12.5 12.5 0 1 0 -25 0M1374.2 437.4a12.5 12.5 0 1 0 25 0a12.5 12.5 0 1 0 -25 0M1377.6 415.4a12.5 12.5 0 1 0 25 0a12.5 12.5 0 1 0 -25 0M1379.4 448.1a12.5 12.5 0 1 0 25 0a12.5 12.5 0 1 0 -25 0M1381.9 404.4a12.5 12.5 0 1 0 25 0a12.5 12.5 0 1 0 -25 0M1385.4 438a12.5 12.5 0 1 0 25 0a12.5 12.5 0 1 0 -25 0M1387.7 408.4a12.5 12.5 0 1 0 25 0a12.5 12.5 0 1 0 -25 0M1389.9 443.2a12.5 12.5 0 1 0 25 0a12.5 12.5 0 1 0 -25 0M1392.9 458.5a12.5 12.5 0 1 0 25 0a12.5 12.5 0 1 0 -25 0M1395.1 436.5a12.5 12.5 0 1 0 25 0a12.5 12.5 0 1 0 -25 0M1397.6 416.1a12.5 12.5 0 1 0 25 0a12.5 12.5 0 1 0 -25 0M1400.1 445.6a12.5 12.5 0 1 0 25 0a12.5 12.5 0 1 0 -25 0M1403.5 462.5a12.5 12.5 0 1 0 25 0a12.5 12.5 0 1 0 -25 0M1405.4 440.3a12.5 12.5 0 1 0 25 0a12.5 12.5 0 1 0 -25 0M1407.9 448.6a12.5 12.5 0 1 0 25 0a12.5 12.5 0 1 0 -25 0M1410.5 407.3a12.5 12.5 0 1 0 25 0a12.5 12.5 0 1 0 -25 0M1413 405a12.5 12.5 0 1 0 25 0a12.5 12.5 0 1 0 -25 0M1415.5 414.2a12.5 12.5 0 1 0 25 0a12.5 12.5 0 1 0 -25 0M1418.7 460.7a12.5 12.5 0 1 0 25 0a12.5 12.5 0 1 0 -25 0M1421.6 422.1a12.5 12.5 0 1 0 25 0a12.5 12.5 0 1 0 -25 0M1423.5 475.7a12.5 12.5 0 1 0 25 0a12.5 12.5 0 1 0 -25 0M1426.4 409a12.5 12.5 0 1 0 25 0a12.5 12.5 0 1 0 -25 0M1429.3 448.3a12.5 12.5 0 1 0 25 0a12.5 12.5 0 1 0 -25 0M1431.3 450.3a12.5 12.5 0 1 0 25 0a12.5 12.5 0 1 0 -25 0M1434 452.6a12.5 12.5 0 1 0 25 0a12.5 12.5 0 1 0 -25 0M1436.7 453.6a12.5 12.5 0 1 0 25 0a12.5 12.5 0 1 0 -25 0M1439.3 417.4a12.5 12.5 0 1 0 25 0a12.5 12.5 0 1 0 -25 0M1441.4 444a12.5 12.5 0 1 0 25 0a12.5 12.5 0 1 0 -25 0M1444.3 438.7a12.5 12.5 0 1 0 25 0a12.5 12.5 0 1 0 -25 0M1446.7 429.7a12.5 12.5 0 1 0 25 0a12.5 12.5 0 1 0 -25 0M1449.5 428.4a12.5 12.5 0 1 0 25 0a12.5 12.5 0 1 0 -25 0M1452.5 441.8a12.5 12.5 0 1 0 25 0a12.5 12.5 0 1 0 -25 0M1454.4 428.9a12.5 12.5 0 1 0 25 0a12.5 12.5 0 1 0 -25 0M1457.5 469.4a12.5 12.5 0 1 0 25 0a12.5 12.5 0 1 0 -25 0M1459.3 439.2a12.5 12.5 0 1 0 25 0a12.5 12.5 0 1 0 -25 0M1462.4 433.2a12.5 12.5 0 1 0 25 0a12.5 12.5 0 1 0 -25 0M1465.4 456a12.5 12.5 0 1 0 25 0a12.5 12.5 0 1 0 -25 0M1467.2 462.6a12.5 12.5 0 1 0 25 0a12.5 12.5 0 1 0 -25 0M1470.4 469.2a12.5 12.5 0 1 0 25 0a12.5 12.5 0 1 0 -25 0M1472.7 426.4a12.5 12.5 0 1 0 25 0a12.5 12.5 0 1 0 -25 0M1475.6 448a12.5 12.5 0 1 0 25 0a12.5 12.5 0 1 0 -25 0M1477.7 460.1a12.5 12.5 0 1 0 25 0a12.5 12.5 0 1 0 -25 0M1480.6 455a12.5 12.5 0 1 0 25 0a12.5 12.5 0 1 0 -25 0M1482.6 416.7a12.5 12.5 0 1 0 25 0a12.5 12.5 0 1 0 -25 0M1485.6 447.3a12.5 12.5 0 1 0 25 0a12.5 12.5 0 1 0 -25 0M1488.5 445.1a12.5 12.5 0 1 0 25 0a12.5 12.5 0 1 0 -25 0M1490.6 461.2a12.5 12.5 0 1 0 25 0a12.5 12.5 0 1 0 -25 0M1493.1 409.9a12.5 12.5 0 1 0 25 0a12.5 12.5 0 1 0 -25 0M1495.6 446.5a12.5 12.5 0 1 0 25 0a12.5 12.5 0 1 0 -25 0M1498.8 412.4a12.5 12.5 0 1 0 25 0a12.5 12.5 0 1 0 -25 0M1500.9 448.7a12.5 12.5 0 1 0 25 0a12.5 12.5 0 1 0 -25 0M1503.5 433.6a12.5 12.5 0 1 0 25 0a12.5 12.5 0 1 0 -25 0M1506.6 430.4a12.5 12.5 0 1 0 25 0a12.5 12.5 0 1 0 -25 0M1509 422.3a12.5 12.5 0 1 0 25 0a12.5 12.5 0 1 0 -25 0M1511.4 415.4a12.5 12.5 0 1 0 25 0a12.5 12.5 0 1 0 -25 0M1514.1 422.7a12.5 12.5 0 1 0 25 0a12.5 12.5 0 1 0 -25 0M1516.9 440.6a12.5 12.5 0 1 0 25 0a12.5 12.5 0 1 0 -25 0M1519.5 422.6a12.5 12.5 0 1 0 25 0a12.5 12.5 0 1 0 -25 0M1521.7 401.3a12.5 12.5 0 1 0 25 0a12.5 12.5 0 1 0 -25 0M1524.1 423.5a12.5 12.5 0 1 0 25 0a12.5 12.5 0 1 0 -25 0M1527.4 445.9a12.5 12.5 0 1 0 25 0a12.5 12.5 0 1 0 -25 0M1529.8 446.9a12.5 12.5 0 1 0 25 0a12.5 12.5 0 1 0 -25 0M1532.4 410.1a12.5 12.5 0 1 0 25 0a12.5 12.5 0 1 0 -25 0M1534.8 448.1a12.5 12.5 0 1 0 25 0a12.5 12.5 0 1 0 -25 0M1537.4 423.9a12.5 12.5 0 1 0 25 0a12.5 12.5 0 1 0 -25 0M1539.9 440.8a12.5 12.5 0 1 0 25 0a12.5 12.5 0 1 0 -25 0M1542.7 401.5a12.5 12.5 0 1 0 25 0a12.5 12.5 0 1 0 -25 0M1545.2 452.9a12.5 12.5 0 1 0 25 0a12.5 12.5 0 1 0 -25 0M1547.4 407.4a12.5 12.5 0 1 0 25 0a12.5 12.5 0 1 0 -25 0M1550.2 400.7a12.5 12.5 0 1 0 25 0a12.5 12.5 0 1 0 -25 0M1552.5 445.2a12.5 12.5 0 1 0 25 0a12.5 12.5 0 1 0 -25 0M1555 394.5a12.5 12.5 0 1 0 25 0a12.5 12.5 0 1 0 -25 0M1557.6 440.8a12.5 12.5 0 1 0 25 0a12.5 12.5 0 1 0 -25 0M1560.4 420.3a12.5 12.5 0 1 0 25 0a12.5 12.5 0 1 0 -25 0M1562.5 446a12.5 12.5 0 1 0 25 0a12.5 12.5 0 1 0 -25 0M1565.7 414.7a12.5 12.5 0 1 0 25 0a12.5 12.5 0 1 0 -25 0M1567.8 421.4a12.5 12.5 0 1 0 25 0a12.5 12.5 0 1 0 -25 0M1570.4 417.4a12.5 12.5 0 1 0 25 0a12.5 12.5 0 1 0 -25 0M1573 401.5a12.5 12.5 0 1 0 25 0a12.5 12.5 0 1 0 -25 0M1575.6 421.6a12.5 12.5 0 1 0 25 0a12.5 12.5 0 1 0 -25 0M1578.6 410.1a12.5 12.5 0 1 0 25 0a12.5 12.5 0 1 0 -25 0M1581 424.6a12.5 12.5 0 1 0 25 0a12.5 12.5 0 1 0 -25 0M1583.8 444a12.5 12.5 0 1 0 25 0a12.5 12.5 0 1 0 -25 0M1586.3 395.6a12.5 12.5 0 1 0 25 0a12.5 12.5 0 1 0 -25 0M1588.4 442.3a12.5 12.5 0 1 0 25 0a12.5 12.5 0 1 0 -25 0M1591.5 434.2a12.5 12.5 0 1 0 25 0a12.5 12.5 0 1 0 -25 0M1594.2 402.2a12.5 12.5 0 1 0 25 0a12.5 12.5 0 1 0 -25 0M1596.7 418.8a12.5 12.5 0 1 0 25 0a12.5 12.5 0 1 0 -25 0M1598.9 425.8a12.5 12.5 0 1 0 25 0a12.5 12.5 0 1 0 -25 0M1601.5 423.8a12.5 12.5 0 1 0 25 0a12.5 12.5 0 1 0 -25 0M1604.5 440a12.5 12.5 0 1 0 25 0a12.5 12.5 0 1 0 -25 0M1607.1 434.4a12.5 12.5 0 1 0 25 0a12.5 12.5 0 1 0 -25 0M1609.8 417.1a12.5 12.5 0 1 0 25 0a12.5 12.5 0 1 0 -25 0M1612.4 440.9a12.5 12.5 0 1 0 25 0a12.5 12.5 0 1 0 -25 0M1614.7 423.8a12.5 12.5 0 1 0 25 0a12.5 12.5 0 1 0 -25 0M1617.4 450.3a12.5 12.5 0 1 0 25 0a12.5 12.5 0 1 0 -25 0M1619.3 456.3a12.5 12.5 0 1 0 25 0a12.5 12.5 0 1 0 -25 0M1622.1 414.3a12.5 12.5 0 1 0 25 0a12.5 12.5 0 1 0 -25 0M1625.3 458.7a12.5 12.5 0 1 0 25 0a12.5 12.5 0 1 0 -25 0M1627.3 427.3a12.5 12.5 0 1 0 25 0a12.5 12.5 0 1 0 -25 0M1629.9 415.2a12.5 12.5 0 1 0 25 0a12.5 12.5 0 1 0 -25 0M1632.4 462.5a12.5 12.5 0 1 0 25 0a12.5 12.5 0 1 0 -25 0M1635.5 438.8a12.5 12.5 0 1 0 25 0a12.5 12.5 0 1 0 -25 0M1637.8 428.1a12.5 12.5 0 1 0 25 0a12.5 12.5 0 1 0 -25 0M1640.3 448.7a12.5 12.5 0 1 0 25 0a12.5 12.5 0 1 0 -25 0M1643.5 439.9a12.5 12.5 0 1 0 25 0a12.5 12.5 0 1 0 -25 0M1645.5 450a12.5 12.5 0 1 0 25 0a12.5 12.5 0 1 0 -25 0M1647.7 466.1a12.5 12.5 0 1 0 25 0a12.5 12.5 0 1 0 -25 0M1651.1 448.9a12.5 12.5 0 1 0 25 0a12.5 12.5 0 1 0 -25 0M1653.6 443.2a12.5 12.5 0 1 0 25 0a12.5 12.5 0 1 0 -25 0M1655.9 431.8a12.5 12.5 0 1 0 25 0a12.5 12.5 0 1 0 -25 0M1658.2 468.5a12.5 12.5 0 1 0 25 0a12.5 12.5 0 1 0 -25 0M1661.4 482.1a12.5 12.5 0 1 0 25 0a12.5 12.5 0 1 0 -25 0M1663.9 452.8a12.5 12.5 0 1 0 25 0a12.5 12.5 0 1 0 -25 0M1666.5 494.6a12.5 12.5 0 1 0 25 0a12.5 12.5 0 1 0 -25 0M1668.9 463.1a12.5 12.5 0 1 0 25 0a12.5 12.5 0 1 0 -25 0M1671.2 486.9a12.5 12.5 0 1 0 25 0a12.5 12.5 0 1 0 -25 0M1674.3 457.4a12.5 12.5 0 1 0 25 0a12.5 12.5 0 1 0 -25 0M1676.2 443.4a12.5 12.5 0 1 0 25 0a12.5 12.5 0 1 0 -25 0M1679.4 487.6a12.5 12.5 0 1 0 25 0a12.5 12.5 0 1 0 -25 0M1681.8 483.3a12.5 12.5 0 1 0 25 0a12.5 12.5 0 1 0 -25 0M1684.2 446.3a12.5 12.5 0 1 0 25 0a12.5 12.5 0 1 0 -25 0M1686.6 452.4a12.5 12.5 0 1 0 25 0a12.5 12.5 0 1 0 -25 0M1689.6 501.5a12.5 12.5 0 1 0 25 0a12.5 12.5 0 1 0 -25 0M956.5 188.5a12.5 12.5 0 1 0 25 0a12.5 12.5 0 1 0 -25 0M278.5 358.5a12.5 12.5 0 1 0 25 0a12.5 12.5 0 1 0 -25 0M532.5 358a12.5 12.5 0 1 0 25 0a12.5 12.5 0 1 0 -25 0M416.5 380a12.5 12.5 0 1 0 25 0a12.5 12.5 0 1 0 -25 0M459.5 497a12.5 12.5 0 1 0 25 0a12.5 12.5 0 1 0 -25 0M506.5 493a12.5 12.5 0 1 0 25 0a12.5 12.5 0 1 0 -25 0M251.5 503a12.5 12.5 0 1 0 25 0a12.5 12.5 0 1 0 -25 0M212.5 503a12.5 12.5 0 1 0 25 0a12.5 12.5 0 1 0 -25 0M665.5 396a12.5 12.5 0 1 0 25 0a12.5 12.5 0 1 0 -25 0M482.5 394a12.5 12.5 0 1 0 25 0a12.5 12.5 0 1 0 -25 0M529.5 394a12.5 12.5 0 1 0 25 0a12.5 12.5 0 1 0 -25 0M453.5 405a12.5 12.5 0 1 0 25 0a12.5 12.5 0 1 0 -25 0M760.5 399a12.5 12.5 0 1 0 25 0a12.5 12.5 0 1 0 -25 0M760.5 401a12.5 12.5 0 1 0 25 0a12.5 12.5 0 1 0 -25 0M781.5 418a12.5 12.5 0 1 0 25 0a12.5 12.5 0 1 0 -25 0M749.8 565.7a12.5 12.5 0 1 0 25 0a12.5 12.5 0 1 0 -25 0M814.2 575.8a12.5 12.5 0 1 0 25 0a12.5 12.5 0 1 0 -25 0M813.5 578a12.5 12.5 0 1 0 25 0a12.5 12.5 0 1 0 -25 0M715.5 490a12.5 12.5 0 1 0 25 0a12.5 12.5 0 1 0 -25 0M742.5 499a12.5 12.5 0 1 0 25 0a12.5 12.5 0 1 0 -25 0M759.5 499a12.5 12.5 0 1 0 25 0a12.5 12.5 0 1 0 -25 0M780.5 519a12.5 12.5 0 1 0 25 0a12.5 12.5 0 1 0 -25 0M797.5 534a12.5 12.5 0 1 0 25 0a12.5 12.5 0 1 0 -25 0M812.5 528a12.5 12.5 0 1 0 25 0a12.5 12.5 0 1 0 -25 0M822.5 470a12.5 12.5 0 1 0 25 0a12.5 12.5 0 1 0 -25 0M829.5 508a12.5 12.5 0 1 0 25 0a12.5 12.5 0 1 0 -25 0M707.5 476a12.5 12.5 0 1 0 25 0a12.5 12.5 0 1 0 -25 0M883 410.7a12.5 12.5 0 1 0 25 0a12.5 12.5 0 1 0 -25 0M925.8 386a12.5 12.5 0 1 0 25 0a12.5 12.5 0 1 0 -25 0M909.1 422.3a12.5 12.5 0 1 0 25 0a12.5 12.5 0 1 0 -25 0M942.5 473a12.5 12.5 0 1 0 25 0a12.5 12.5 0 1 0 -25 0M864.2 490.4a12.5 12.5 0 1 0 25 0a12.5 12.5 0 1 0 -25 0M861.3 519.3a12.5 12.5 0 1 0 25 0a12.5 12.5 0 1 0 -25 0M858.4 542.5a12.5 12.5 0 1 0 25 0a12.5 12.5 0 1 0 -25 0M872.9 565.7a12.5 12.5 0 1 0 25 0a12.5 12.5 0 1 0 -25 0M891.7 597.5a12.5 12.5 0 1 0 25 0a12.5 12.5 0 1 0 -25 0M912 568.6a12.5 12.5 0 1 0 25 0a12.5 12.5 0 1 0 -25 0M919.2 507.7a12.5 12.5 0 1 0 25 0a12.5 12.5 0 1 0 -25 0M933.7 588.9a12.5 12.5 0 1 0 25 0a12.5 12.5 0 1 0 -25 0M887.4 475.9a12.5 12.5 0 1 0 25 0a12.5 12.5 0 1 0 -25 0M907.5 425.6a12.5 12.5 0 1 0 25 0a12.5 12.5 0 1 0 -25 0M922.1 430a12.5 12.5 0 1 0 25 0a12.5 12.5 0 1 0 -25 0M945.3 472a12.5 12.5 0 1 0 25 0a12.5 12.5 0 1 0 -25 0M974.3 459a12.5 12.5 0 1 0 25 0a12.5 12.5 0 1 0 -25 0M896.1 515.4a12.5 12.5 0 1 0 25 0a12.5 12.5 0 1 0 -25 0M907.7 532.8a12.5 12.5 0 1 0 25 0a12.5 12.5 0 1 0 -25 0M959.8 515.4a12.5 12.5 0 1 0 25 0a12.5 12.5 0 1 0 -25 0M994.5 590.7a12.5 12.5 0 1 0 25 0a12.5 12.5 0 1 0 -25 0M985.9 567.5a12.5 12.5 0 1 0 25 0a12.5 12.5 0 1 0 -25 0M988.8 535.7a12.5 12.5 0 1 0 25 0a12.5 12.5 0 1 0 -25 0M1003.3 529.9a12.5 12.5 0 1 0 25 0a12.5 12.5 0 1 0 -25 0M977.2 492.2a12.5 12.5 0 1 0 25 0a12.5 12.5 0 1 0 -25 0M965.6 657.4a12.5 12.5 0 1 0 25 0a12.5 12.5 0 1 0 -25 0M987.3 655.9a12.5 12.5 0 1 0 25 0a12.5 12.5 0 1 0 -25 0M951.1 550.2a12.5 12.5 0 1 0 25 0a12.5 12.5 0 1 0 -25 0M954 590.7a12.5 12.5 0 1 0 25 0a12.5 12.5 0 1 0 -25 0M1012 408a12.5 12.5 0 1 0 25 0a12.5 12.5 0 1 0 -25 0M1014.5 414a12.5 12.5 0 1 0 25 0a12.5 12.5 0 1 0 -25 0M1122 382a12.5 12.5 0 1 0 25 0a12.5 12.5 0 1 0 -25 0M1182.9 354.6a12.5 12.5 0 1 0 25 0a12.5 12.5 0 1 0 -25 0M1171.3 393.7a12.5 12.5 0 1 0 25 0a12.5 12.5 0 1 0 -25 0M1040.9 506.7a12.5 12.5 0 1 0 25 0a12.5 12.5 0 1 0 -25 0M1040.9 492a12.5 12.5 0 1 0 25 0a12.5 12.5 0 1 0 -25 0M1012 496.6a12.5 12.5 0 1 0 25 0a12.5 12.5 0 1 0 -25 0M1153.9 503.8a12.5 12.5 0 1 0 25 0a12.5 12.5 0 1 0 -25 0M1156.8 515.4a12.5 12.5 0 1 0 25 0a12.5 12.5 0 1 0 -25 0M1197.4 518.3a12.5 12.5 0 1 0 25 0a12.5 12.5 0 1 0 -25 0M991.7 521.2a12.5 12.5 0 1 0 25 0a12.5 12.5 0 1 0 -25 0M1003.3 532.8a12.5 12.5 0 1 0 25 0a12.5 12.5 0 1 0 -25 0M1245.6 307.5a12.5 12.5 0 1 0 25 0a12.5 12.5 0 1 0 -25 0M1257.2 346.6a12.5 12.5 0 1 0 25 0a12.5 12.5 0 1 0 -25 0M1268.9 351.6a12.5 12.5 0 1 0 25 0a12.5 12.5 0 1 0 -25 0M1270.5 371.5a12.5 12.5 0 1 0 25 0a12.5 12.5 0 1 0 -25 0M1260.5 378.2a12.5 12.5 0 1 0 25 0a12.5 12.5 0 1 0 -25 0M1227.3 369.9a12.5 12.5 0 1 0 25 0a12.5 12.5 0 1 0 -25 0M1222.3 383.2a12.5 12.5 0 1 0 25 0a12.5 12.5 0 1 0 -25 0M1183.2 354.9a12.5 12.5 0 1 0 25 0a12.5 12.5 0 1 0 -25 0M1172.4 394a12.5 12.5 0 1 0 25 0a12.5 12.5 0 1 0 -25 0M1130.8 381.5a12.5 12.5 0 1 0 25 0a12.5 12.5 0 1 0 -25 0M1234 414.8a12.5 12.5 0 1 0 25 0a12.5 12.5 0 1 0 -25 0M1273.9 403.1a12.5 12.5 0 1 0 25 0a12.5 12.5 0 1 0 -25 0M1297.2 413.1a12.5 12.5 0 1 0 25 0a12.5 12.5 0 1 0 -25 0M1315.5 416.4a12.5 12.5 0 1 0 25 0a12.5 12.5 0 1 0 -25 0M1370.3 399.8a12.5 12.5 0 1 0 25 0a12.5 12.5 0 1 0 -25 0M1255.6 493a12.5 12.5 0 1 0 25 0a12.5 12.5 0 1 0 -25 0M1247.3 517.9a12.5 12.5 0 1 0 25 0a12.5 12.5 0 1 0 -25 0M1203.2 519.6a12.5 12.5 0 1 0 25 0a12.5 12.5 0 1 0 -25 0M1154.1 502.9a12.5 12.5 0 1 0 25 0a12.5 12.5 0 1 0 -25 0M1159.1 514.6a12.5 12.5 0 1 0 25 0a12.5 12.5 0 1 0 -25 0M1155.8 471.3a12.5 12.5 0 1 0 25 0a12.5 12.5 0 1 0 -25 0M1180.7 496.3a12.5 12.5 0 1 0 25 0a12.5 12.5 0 1 0 -25 0M1285.5 486.3a12.5 12.5 0 1 0 25 0a12.5 12.5 0 1 0 -25 0M1303.8 486.3a12.5 12.5 0 1 0 25 0a12.5 12.5 0 1 0 -25 0M1327.1 476.3a12.5 12.5 0 1 0 25 0a12.5 12.5 0 1 0 -25 0M1250.6 586.1a12.5 12.5 0 1 0 25 0a12.5 12.5 0 1 0 -25 0M1237.3 596.1a12.5 12.5 0 1 0 25 0a12.5 12.5 0 1 0 -25 0M1242.3 604.4a12.5 12.5 0 1 0 25 0a12.5 12.5 0 1 0 -25 0M1240.6 614.4a12.5 12.5 0 1 0 25 0a12.5 12.5 0 1 0 -25 0M1273.9 458a12.5 12.5 0 1 0 25 0a12.5 12.5 0 1 0 -25 0M1464.2 507.4a12.5 12.5 0 1 0 25 0a12.5 12.5 0 1 0 -25 0M1490.2 530.6a12.5 12.5 0 1 0 25 0a12.5 12.5 0 1 0 -25 0M1485.9 575.5a12.5 12.5 0 1 0 25 0a12.5 12.5 0 1 0 -25 0M1503.3 330.7a12.5 12.5 0 1 0 25 0a12.5 12.5 0 1 0 -25 0M1549.6 322a12.5 12.5 0 1 0 25 0a12.5 12.5 0 1 0 -25 0M1485.9 361a12.5 12.5 0 1 0 25 0a12.5 12.5 0 1 0 -25 0M1494.5 367a12.5 12.5 0 1 0 25 0a12.5 12.5 0 1 0 -25 0M1508.5 367a12.5 12.5 0 1 0 25 0a12.5 12.5 0 1 0 -25 0M1529.3 384.3a12.5 12.5 0 1 0 25 0a12.5 12.5 0 1 0 -25 0M1555.4 361a12.5 12.5 0 1 0 25 0a12.5 12.5 0 1 0 -25 0M1564.1 375.6a12.5 12.5 0 1 0 25 0a12.5 12.5 0 1 0 -25 0M1480.1 404.6a12.5 12.5 0 1 0 25 0a12.5 12.5 0 1 0 -25 0M1543.8 477a12.5 12.5 0 1 0 25 0a12.5 12.5 0 1 0 -25 0M1529.3 468.3a12.5 12.5 0 1 0 25 0a12.5 12.5 0 1 0 -25 0M1648.1 500a12.5 12.5 0 1 0 25 0a12.5 12.5 0 1 0 -25 0M1691.5 504.5a12.5 12.5 0 1 0 25 0a12.5 12.5 0 1 0 -25 0" fill="none" stroke="#000" stroke-width="5" shape-rendering="crispEdges"/>
<path d="M208.8 437.4h25M221.3 424.9v25M211 441.1h25M223.5 428.6v25M213.3 456.8h25M225.8 444.3v25M216.2 428.8h25M228.7 416.3v25M218.8 460.7h25M231.3 448.2v25M221.8 458.3h25M234.3 445.8v25M223.5 466.4h25M236 453.9v25M226.4 448.3h25M238.9 435.8v25M228.7 431.7h25M241.2 419.2v25M231.7 431.8h25M244.2 419.3v25M234 432.2h25M246.5 419.7v25M236.4 443.9h25M248.9 431.4v25M239.6 464h25M252.1 451.5v25M242.4 429.1h25M254.9 416.6v25M244.8 425.4h25M257.3 412.9v25M247.1 457h25M259.6 444.5v25M249.6 463.2h25M262.1 450.7v25M252.7 450h25M265.2 437.5v25M254.5 445.5h25M267 433v25M257.4 431.4h25M269.9 418.9v25M260.3 427.6h25M272.8 415.1v25M262.6 453.8h25M275.1 441.3v25M265.3 444.9h25M277.8 432.4v25M267.4 438.7h25M279.9 426.2v25M270.9 420.3h25M283.4 407.8v25M272.7 448.9h25M285.2 436.4v25M275.9 444.3h25M288.4 431.8v25M277.9 446.3h25M290.4 433.8v25M280.8 445.1h25M293.3 432.6v25M283.4 442.7h25M295.9 430.2v25M286.2 465.7h25M298.7 453.2v25M288.7 459.2h25M301.2 446.7v25M291.1 458.5h25M303.6 446v25M294 442.1h25M306.5 429.6v25M296.2 448.2h25M308.7 435.7v25M298.6 444.9h25M311.1 432.4v25M301.5 447.1h25M314 434.6v25M303.7 444.2h25M316.2 431.7v25M306.9 434.2h25M319.4 421.7v25M309.4 456.4h25M321.9 443.9v25M311.9 436.7h25M324.4 424.2v25M313.8 430.4h25M326.3 417.9v25M316.5 453.1h25M329 440.6v25M319 448.1h25M331.5 435.6v25M321.7 432.2h25M334.2 419.7v25M324.6 435.6h25M337.1 423.1v25M326.7 436.8h25M339.2 424.3v25M329.4 438.5h25M341.9 426v25M332.4 429.5h25M344.9 417v25M335.2 432.3h25M347.7 419.8v25M337.1 426.4h25M349.6 413.9v25M340.3 446.8h25M352.8 434.3v25M342.4 445h25M354.9 432.5v25M345.3 452.9h25M357.8 440.4v25M347.7 431.2h25M360.2 418.7v25M350.5 441.2h25M363 428.7v25M353.4 426h25M365.9 413.5v25M355.9 450.3h25M368.4 437.8v25M358.4 433.1h25M370.9 420.6v25M360.2 436.4h25M372.7 423.9v25M363.6 451.2h25M376.1 438.7v25M365.6 454.2h25M378.1 441.7v25M368.7 451.4h25M381.2 438.9v25M370.9 439.3h25M383.4 426.8v25M373.6 428.7h25M386.1 416.2v25M376.4 428.1h25M388.9 415.6v25M378.6 431.6h25M391.1 419.1v25M380.9 452.8h25M393.4 440.3v25M384.4 427.7h25M396.9 415.2v25M386.2 448.7h25M398.7 436.2v25M389.5 443.1h25M402 430.6v25M391.9 428.3h25M404.4 415.8v25M394 432.4h25M406.5 419.9v25M396.5 441h25M409 428.5v25M399.7 447.5h25M412.2 435v25M401.9 432.7h25M414.4 420.2v25M404.9 419.7h25M417.4 407.2v25M407.5 430.3h25M420 417.8v25M409.3 406.8h25M421.8 394.3v25M412.7 400.3h25M425.2 387.8v25M414.7 435.6h25M427.2 423.1v25M417.4 428.8h25M429.9 416.3v25M419.6 429.4h25M432.1 416.9v25M422.7 418.3h25M435.2 405.8v25M425 450.7h25M437.5 438.2v25M427.3 447h25M439.8 434.5v25M430 444.7h25M442.5 432.2v25M432.7 455.4h25M445.2 442.9v25M435.2 459.5h25M447.7 447v25M438.4 426.7h25M450.9 414.2v25M440.6 424.1h25M453.1 411.6v25M443.1 458.8h25M455.6 446.3v25M445.5 430.1h25M458 417.6v25M448 446.1h25M460.5 433.6v25M451.1 459.3h25M463.6 446.8v25M453.2 438h25M465.7 425.5v25M456.6 456.5h25M469.1 444v25M458.9 424.2h25M471.4 411.7v25M461.5 457.4h25M474 444.9v25M464 444.1h25M476.5 431.6v25M466.1 429.8h25M478.6 417.3v25M469 428h25M481.5 415.5v25M472.1 440.8h25M484.6 428.3v25M474.1 432.3h25M486.6 419.8v25M477.2 431.4h25M489.7 418.9v25M479.4 432.6h25M491.9 420.1v25M481.7 444.5h25M494.2 432v25M484.1 425.8h25M496.6 413.3v25M486.7 447.1h25M499.2 434.6v25M490 452.1h25M502.5 439.6v25M492 448.6h25M504.5 436.1v25M494.5 450.7h25M507 438.2v25M497.7 469.4h25M510.2 456.9v25M499.9 472.6h25M512.4 460.1v25M503 441h25M515.5 428.5v25M504.8 445.8h25M517.3 433.3v25M507.6 467.6h25M520.1 455.1v25M510.8 465.4h25M523.3 452.9v25M513.1 461h25M525.6 448.5v25M515.2 432.1h25M527.7 419.6v25M517.9 451.8h25M530.4 439.3v25M521 422.7h25M533.5 410.2v25M523.6 440.8h25M536.1 428.3v25M525.7 434.6h25M538.2 422.1v25M528.6 423.9h25M541.1 411.4v25M530.6 428.6h25M543.1 416.1v25M533.2 424.9h25M545.7 412.4v25M536.1 421.5h25M548.6 409v25M538.5 428.4h25M551 415.9v25M541.3 412.6h25M553.8 400.1v25M544.1 440.1h25M556.6 427.6v25M546.5 444h25M559 431.5v25M549 434.4h25M561.5 421.9v25M552.1 438.3h25M564.6 425.8v25M553.8 427.8h25M566.3 415.3v25M557.2 420.8h25M569.7 408.3v25M559.8 425h25M572.3 412.5v25M562.3 431.6h25M574.8 419.1v25M564.8 434.5h25M577.3 422v25M567.5 443.3h25M580 430.8v25M569.4 456.1h25M581.9 443.6v25M572.3 430.1h25M584.8 417.6v25M575 447.8h25M587.5 435.3v25M577.5 445.8h25M590 433.3v25M579.6 425.4h25M592.1 412.9v25M582.7 454.3h25M595.2 441.8v25M585.6 428.1h25M598.1 415.6v25M588.1 423h25M600.6 410.5v25M590.3 441.2h25M602.8 428.7v25M592.8 450.2h25M605.3 437.7v25M595.2 445.3h25M607.7 432.8v25M598.5 427.6h25M611 415.1v25M600.8 449.9h25M613.3 437.4v25M603 429.5h25M615.5 417v25M605.3 423.3h25M617.8 410.8v25M607.9 421h25M620.4 408.5v25M611.3 437.2h25M623.8 424.7v25M613.6 422.4h25M626.1 409.9v25M615.9 425.3h25M628.4 412.8v25M619 440.7h25M631.5 428.2v25M621.3 451.8h25M633.8 439.3v25M624 448h25M636.5 435.5v25M626.1 431h25M638.6 418.5v25M629.3 447.2h25M641.8 434.7v25M631.9 437.9h25M644.4 425.4v25M634.2 454.4h25M646.7 441.9v25M636.8 439.8h25M649.3 427.3v25M638.9 432.2h25M651.4 419.7v25M641.7 435.9h25M654.2 423.4v25M644.7 434.7h25M657.2 422.2v25M647 438.6h25M659.5 426.1v25M649.5 427.9h25M662 415.4v25M652.6 443.2h25M665.1 430.7v25M654.8 440.2h25M667.3 427.7v25M657.7 452.9h25M670.2 440.4v25M659.7 459.1h25M672.2 446.6v25M662.4 445.2h25M674.9 432.7v25M665.1 421.5h25M677.6 409v25M667.8 437.3h25M680.3 424.8v25M670.6 450.4h25M683.1 437.9v25M673 441.3h25M685.5 428.8v25M675.4 447.7h25M687.9 435.2v25M678.5 447.2h25M691 434.7v25M680.9 453.5h25M693.4 441v25M683.1 455.1h25M695.6 442.6v25M686.2 433.4h25M698.7 420.9v25M688.7 444.6h25M701.2 432.1v25M690.5 442h25M703 429.5v25M693.5 442.6h25M706 430.1v25M695.6 436.9h25M708.1 424.4v25M698.9 441.7h25M711.4 429.2v25M701.4 438.1h25M713.9 425.6v25M704.2 431.9h25M716.7 419.4v25M706.8 433.2h25M719.3 420.7v25M709 441.8h25M721.5 429.3v25M711.8 450.1h25M724.3 437.6v25M713.9 449.7h25M726.4 437.2v25M716.8 445.7h25M729.3 433.2v25M719.7 426.3h25M732.2 413.8v25M722.4 433.1h25M734.9 420.6v25M724 450.9h25M736.5 438.4v25M726.9 460.6h25M739.4 448.1v25M729.9 437.6h25M742.4 425.1v25M731.9 424.9h25M744.4 412.4v25M735.2 466.5h25M747.7 454v25M737.2 455.2h25M749.7 442.7v25M739.6 446.3h25M752.1 433.8v25M742.8 457h25M755.3 444.5v25M745.4 435.1h25M757.9 422.6v25M747.6 439.8h25M760.1 427.3v25M750 450.1h25M762.5 437.6v25M753.3 431.2h25M765.8 418.7v25M755.7 440.2h25M768.2 427.7v25M758.2 468.9h25M770.7 456.4v25M760.2 449h25M772.7 436.5v25M763.1 466.3h25M775.6 453.8v25M765.4 460.8h25M777.9 448.3v25M768.3 452.4h25M780.8 439.9v25M771.2 470.9h25M783.7 458.4v25M773.9 463.1h25M786.4 450.6v25M776.4 495.5h25M788.9 483v25M778.6 492.7h25M791.1 480.2v25M781.2 483.7h25M793.7 471.2v25M783.5 500h25M796 487.5v25M786.1 504.7h25M798.6 492.2v25M788.9 496.9h25M801.4 484.4v25M791.9 476.6h25M804.4 464.1v25M793.7 511.3h25M806.2 498.8v25M796.5 507.8h25M809 495.3v25M798.8 479.8h25M811.3 467.3v25M802.1 499.2h25M814.6 486.7v25M804.4 505.7h25M816.9 493.2v25M807.2 498.5h25M819.7 486v25M810.1 487.4h25M822.6 474.9v25M812.3 497h25M824.8 484.5v25M814.4 496.1h25M826.9 483.6v25M817.1 491.8h25M829.6 479.3v25M820.1 501.9h25M832.6 489.4v25M822.8 498.4h25M835.3 485.9v25M825.6 498.9h25M838.1 486.4v25M828.1 489.9h25M840.6 477.4v25M829.9 499.9h25M842.4 487.4v25M832.7 499.1h25M845.2 486.6v25M835.5 501.1h25M848 488.6v25M837.9 494.3h25M850.4 481.8v25M961.5 477.5h25M974 465v25M964 498.5h25M976.5 486v25M969.9 482.2h25M982.4 469.7v25M974.5 479.5h25M987 467v25M977.2 486.1h25M989.7 473.6v25M982.7 484.8h25M995.2 472.3v25M990.6 483.9h25M1003.1 471.4v25M992.5 485.5h25M1005 473v25M995 468.9h25M1007.5 456.4v25M997.5 465.9h25M1010 453.4v25M1000.4 477.5h25M1012.9 465v25M1003 460.1h25M1015.5 447.6v25M1005.7 470.6h25M1018.2 458.1v25M1008.1 451.7h25M1020.6 439.2v25M1011.4 455.6h25M1023.9 443.1v25M1013.9 459.3h25M1026.4 446.8v25M1016.5 474.6h25M1029 462.1v25M1018.3 472.7h25M1030.8 460.2v25M1021.7 458.1h25M1034.2 445.6v25M1024 467h25M1036.5 454.5v25M1026.5 450h25M1039 437.5v25M1029.4 450.9h25M1041.9 438.4v25M1031.2 455.7h25M1043.7 443.2v25M1034.5 461.6h25M1047 449.1v25M1036.9 441.1h25M1049.4 428.6v25M1039.3 435.4h25M1051.8 422.9v25M1041.6 443.7h25M1054.1 431.2v25M1044 458h25M1056.5 445.5v25M1047.1 435.3h25M1059.6 422.8v25M1049.1 438.9h25M1061.6 426.4v25M1052.4 445.4h25M1064.9 432.9v25M1054.8 440.7h25M1067.3 428.2v25M1057.2 462.7h25M1069.7 450.2v25M1060.3 453.8h25M1072.8 441.3v25M1062.8 457.4h25M1075.3 444.9v25M1064.8 464.1h25M1077.3 451.6v25M1067.7 452.8h25M1080.2 440.3v25M1070.6 441.1h25M1083.1 428.6v25M1072.3 452.2h25M1084.8 439.7v25M1075.1 453.1h25M1087.6 440.6v25M1077.5 429.8h25M1090 417.3v25M1080.9 421.5h25M1093.4 409v25M1083.2 445.4h25M1095.7 432.9v25M1085.7 437.3h25M1098.2 424.8v25M1088.7 435h25M1101.2 422.5v25M1090.7 428.5h25M1103.2 416v25M1093.5 423.2h25M1106 410.7v25M1095.7 432h25M1108.2 419.5v25M1098.8 434.3h25M1111.3 421.8v25M1101.1 430.4h25M1113.6 417.9v25M1103.9 444.1h25M1116.4 431.6v25M1106.7 441.5h25M1119.2 429v25M1109.2 420.3h25M1121.7 407.8v25M1111.5 419.8h25M1124 407.3v25M1113.7 418.2h25M1126.2 405.7v25M1116.2 418.9h25M1128.7 406.4v25M1119.6 411.5h25M1132.1 399v25M1122.3 428.1h25M1134.8 415.6v25M1124.6 414.8h25M1137.1 402.3v25M1127.3 432h25M1139.8 419.5v25M1129.6 423.7h25M1142.1 411.2v25M1131.7 443h25M1144.2 430.5v25M1134.4 409.3h25M1146.9 396.8v25M1137.3 405.1h25M1149.8 392.6v25M1140.1 443.5h25M1152.6 431v25M1142.6 440.2h25M1155.1 427.7v25M1145.1 448.3h25M1157.6 435.8v25M1150.3 450.3h25M1162.8 437.8v25M1152.4 428.2h25M1164.9 415.7v25M1155.3 422.7h25M1167.8 410.2v25M1163.3 416.8h25M1175.8 404.3v25M1166.1 426.6h25M1178.6 414.1v25M1171.2 419h25M1183.7 406.5v25M1178.6 462.4h25M1191.1 449.9v25M1194.1 467.6h25M1206.6 455.1v25M1199 462.9h25M1211.5 450.4v25M1204.4 424.5h25M1216.9 412v25M1217.1 433.7h25M1229.6 421.2v25M1222.8 453.3h25M1235.3 440.8v25M1237.6 438.3h25M1250.1 425.8v25M1240.5 434.9h25M1253 422.4v25M1245.4 452.9h25M1257.9 440.4v25M1250.3 441.3h25M1262.8 428.8v25M1253 435.7h25M1265.5 423.2v25M1256.5 431.4h25M1269 418.9v25M1258.6 436.1h25M1271.1 423.6v25M1260.8 420.3h25M1273.3 407.8v25M1263.9 430.4h25M1276.4 417.9v25M1266.5 419h25M1279 406.5v25M1268.6 421.5h25M1281.1 409v25M1271.1 419.9h25M1283.6 407.4v25M1274.2 438h25M1286.7 425.5v25M1276.4 431.2h25M1288.9 418.7v25M1279.6 444.4h25M1292.1 431.9v25M1281.9 437.7h25M1294.4 425.2v25M1284.7 458.9h25M1297.2 446.4v25M1287.1 441.1h25M1299.6 428.6v25M1289.6 446.4h25M1302.1 433.9v25M1292.2 441.9h25M1304.7 429.4v25M1294.7 448.3h25M1307.2 435.8v25M1297.2 436.4h25M1309.7 423.9v25M1299.6 450.8h25M1312.1 438.3v25M1302.3 451.5h25M1314.8 439v25M1305.2 438.2h25M1317.7 425.7v25M1307.9 454.5h25M1320.4 442v25M1309.7 461.7h25M1322.2 449.2v25M1312.4 449.3h25M1324.9 436.8v25M1315.7 470.3h25M1328.2 457.8v25M1318.2 448.8h25M1330.7 436.3v25M1320.1 451.9h25M1332.6 439.4v25M1323 467.2h25M1335.5 454.7v25M1325.4 443.7h25M1337.9 431.2v25M1328.3 459.8h25M1340.8 447.3v25M1331.2 439.2h25M1343.7 426.7v25M1333.4 457.3h25M1345.9 444.8v25M1336.2 463.5h25M1348.7 451v25M1339 454.4h25M1351.5 441.9v25M1340.7 448.1h25M1353.2 435.6v25M1343.9 449.1h25M1356.4 436.6v25M1345.9 434.2h25M1358.4 421.7v25M1348.7 436.6h25M1361.2 424.1v25M1351.8 438.9h25M1364.3 426.4v25M1354.3 449.2h25M1366.8 436.7v25M1356.3 435.1h25M1368.8 422.6v25M1358.8 443.7h25M1371.3 431.2v25M1361.6 449.3h25M1374.1 436.8v25M1364.5 451.5h25M1377 439v25M1366.5 454.3h25M1379 441.8v25M1369.3 433.9h25M1381.8 421.4v25M1372.3 445.9h25M1384.8 433.4v25M1374.2 438.3h25M1386.7 425.8v25M1376.9 439.5h25M1389.4 427v25M1379.7 438.7h25M1392.2 426.2v25M1381.9 441.7h25M1394.4 429.2v25M1385.3 449.6h25M1397.8 437.1v25M1387.2 420.6h25M1399.7 408.1v25M1390.3 427.2h25M1402.8 414.7v25M1392.7 446.7h25M1405.2 434.2v25M1395.5 434.2h25M1408 421.7v25M1397.9 420.9h25M1410.4 408.4v25M1400.8 438.3h25M1413.3 425.8v25M1402.6 418.5h25M1415.1 406v25M1405.3 412.3h25M1417.8 399.8v25M1408.5 448.8h25M1421 436.3v25M1411.3 425h25M1423.8 412.5v25M1412.9 452.9h25M1425.4 440.4v25M1416.2 431.2h25M1428.7 418.7v25M1418.4 458.3h25M1430.9 445.8v25M1421.6 412.6h25M1434.1 400.1v25M1423.5 458.9h25M1436 446.4v25M1426.7 425.9h25M1439.2 413.4v25M1428.9 462.4h25M1441.4 449.9v25M1431.7 440.8h25M1444.2 428.3v25M1434.2 462h25M1446.7 449.5v25M1436.6 450.6h25M1449.1 438.1v25M1438.8 429.8h25M1451.3 417.3v25M1441.8 449.7h25M1454.3 437.2v25M1444.8 450.5h25M1457.3 438v25M1447.4 434.1h25M1459.9 421.6v25M1449.4 438.7h25M1461.9 426.2v25M1452.3 451.3h25M1464.8 438.8v25M1454.6 441.8h25M1467.1 429.3v25M1456.9 449.9h25M1469.4 437.4v25M1459.5 445.1h25M1472 432.6v25M1462 458.7h25M1474.5 446.2v25M1465.2 448.6h25M1477.7 436.1v25M1467.4 449.1h25M1479.9 436.6v25M1470 431.7h25M1482.5 419.2v25M1472.3 435.1h25M1484.8 422.6v25M1475 429.1h25M1487.5 416.6v25M1477.6 449.4h25M1490.1 436.9v25M1480.5 435.2h25M1493 422.7v25M1482.7 437.1h25M1495.2 424.6v25M1485.9 437.3h25M1498.4 424.8v25M1488.1 415.7h25M1500.6 403.2v25M1490.4 435h25M1502.9 422.5v25M1493.1 427.8h25M1505.6 415.3v25M1496.1 420h25M1508.6 407.5v25M1498.8 439.8h25M1511.3 427.3v25M1500.9 409.6h25M1513.4 397.1v25M1504 418.9h25M1516.5 406.4v25M1506 405h25M1518.5 392.5v25M1508.9 428.7h25M1521.4 416.2v25M1511 427.2h25M1523.5 414.7v25M1514.3 430.8h25M1526.8 418.3v25M1516.2 436.7h25M1528.7 424.2v25M1518.9 433.3h25M1531.4 420.8v25M1521.3 407.3h25M1533.8 394.8v25M1524.6 436.9h25M1537.1 424.4v25M1526.5 415.5h25M1539 403v25M1529 430.2h25M1541.5 417.7v25M1532.3 405h25M1544.8 392.5v25M1534.7 416.6h25M1547.2 404.1v25M1537.4 410.7h25M1549.9 398.2v25M1540.1 438h25M1552.6 425.5v25M1542.3 438.8h25M1554.8 426.3v25M1545.3 408h25M1557.8 395.5v25M1547.5 401h25M1560 388.5v25M1550.4 396.5h25M1562.9 384v25M1553.1 416.1h25M1565.6 403.6v25M1554.8 396.7h25M1567.3 384.2v25M1558.3 409.2h25M1570.8 396.7v25M1560.4 415.1h25M1572.9 402.6v25M1562.9 411.1h25M1575.4 398.6v25M1565.9 425.2h25M1578.4 412.7v25M1568.1 394.3h25M1580.6 381.8v25M1570.4 423.8h25M1582.9 411.3v25M1572.9 426.6h25M1585.4 414.1v25M1576.2 412.5h25M1588.7 400v25M1578.8 409.5h25M1591.3 397v25M1581 424.8h25M1593.5 412.3v25M1584.1 427h25M1596.6 414.5v25M1586.2 416.2h25M1598.7 403.7v25M1588.6 412.9h25M1601.1 400.4v25M1591.7 405.5h25M1604.2 393v25M1594.2 410h25M1606.7 397.5v25M1597 425.2h25M1609.5 412.7v25M1598.7 426.9h25M1611.2 414.4v25M1602.1 421.8h25M1614.6 409.3v25M1604.3 415.9h25M1616.8 403.4v25M1606.8 426.1h25M1619.3 413.6v25M1609.4 427.2h25M1621.9 414.7v25M1611.5 424.2h25M1624 411.7v25M1614.3 414.5h25M1626.8 402v25M1616.8 439.3h25M1629.3 426.8v25M1620.1 421.6h25M1632.6 409.1v25M1622.4 445.3h25M1634.9 432.8v25M1625.1 414.2h25M1637.6 401.7v25M1628 442h25M1640.5 429.5v25M1630.2 433.9h25M1642.7 421.4v25M1633.1 418.3h25M1645.6 405.8v25M1635 426.1h25M1647.5 413.6v25M1637.5 444.4h25M1650 431.9v25M1640.6 430.1h25M1653.1 417.6v25M1643.5 433.1h25M1656 420.6v25M1645.4 455.2h25M1657.9 442.7v25M1647.8 461.7h25M1660.3 449.2v25M1651 445h25M1663.5 432.5v25M1653.5 430.3h25M1666 417.8v25M1656 467.7h25M1668.5 455.2v25M1658.4 460.8h25M1670.9 448.3v25M1660.7 476.4h25M1673.2 463.9v25M1663.2 442.3h25M1675.7 429.8v25M1665.8 450.1h25M1678.3 437.6v25M1669.2 481h25M1681.7 468.5v25M1671.8 471.7h25M1684.3 459.2v25M1673.5 443.9h25M1686 431.4v25M1676 455.1h25M1688.5 442.6v25M1679.4 475.7h25M1691.9 463.2v25M1681.4 449.9h25M1693.9 437.4v25M1684.1 460.5h25M1696.6 448v25M1686.5 465.3h25M1699 452.8v25M1689.2 459.6h25M1701.7 447.1v25M957 205.5h25M969.5 193v25M212.5 506h25M225 493.5v25M728.8 409.2h25M741.3 396.7v25M698.4 418h25M710.9 405.5v25M817.9 549.7h25M830.4 537.2v25M812.1 567.1h25M824.6 554.6v25M796.1 531h25M808.6 518.5v25M822.2 489h25M834.7 476.5v25M788.9 484.6h25M801.4 472.1v25M925.8 389.7h25M938.3 377.2v25M900.4 428h25M912.9 415.5v25M922.1 423.7h25M934.6 411.2v25M885.9 457h25M898.4 444.5v25M890.3 470h25M902.8 457.5v25M910.5 464.3h25M923 451.8v25M919.2 483h25M931.7 470.5v25M907.7 493.3h25M920.2 480.8v25M865.7 499h25M878.2 486.5v25M872.9 504.8h25M885.4 492.3v25M870 519.3h25M882.5 506.8v25M861.3 536.7h25M873.8 524.2v25M872.9 541h25M885.4 528.5v25M874.4 555.5h25M886.9 543v25M875.8 533.8h25M888.3 521.3v25M913.5 533.8h25M926 521.3v25M893.2 541h25M905.7 528.5v25M904.8 548.3h25M917.3 535.8v25M891.7 588.9h25M904.2 576.4v25M933.7 594.6h25M946.2 582.1v25M936.6 539.6h25M949.1 527.1v25M939.5 567.1h25M952 554.6v25M942.5 449.8h25M955 437.3v25M945.3 451.7h25M957.8 439.2v25M948.2 564.6h25M960.7 552.1v25M945.3 576.2h25M957.8 563.7v25M930.8 593.6h25M943.3 581.1v25M954 593.6h25M966.5 581.1v25M968.5 609.5h25M981 597v25M961.3 628.4h25M973.8 615.9v25M965.6 532.8h25M978.1 520.3v25M985.9 566.1h25M998.4 553.6v25M1003.3 512.5h25M1015.8 500v25M971.4 498h25M983.9 485.5v25M980.1 411.1h25M992.6 398.6v25M991.7 445.9h25M1004.2 433.4v25M1197.4 377.8h25M1209.9 365.3v25M1172.7 399.5h25M1185.2 387v25M1182.9 353.2h25M1195.4 340.7v25M1159.7 477.7h25M1172.2 465.2v25M1180 495.1h25M1192.5 482.6v25M1194.5 503.8h25M1207 491.3v25M1197.4 512.5h25M1209.9 500v25M1003.3 509.6h25M1015.8 497.1v25M1049.5 483.5h25M1062 471v25M1183.2 351.6h25M1195.7 339.1v25M1199 378.2h25M1211.5 365.7v25M1215.7 383.2h25M1228.2 370.7v25M1217.3 398.1h25M1229.8 385.6v25M1172.4 400.6h25M1184.9 388.1v25M1199 416.4h25M1211.5 403.9v25M1222.3 418.1h25M1234.8 405.6v25M1207.3 449.7h25M1219.8 437.2v25M1227.3 458h25M1239.8 445.5v25M1247.3 458h25M1259.8 445.5v25M1227.3 476.3h25M1239.8 463.8v25M1234 491.3h25M1246.5 478.8v25M1245.6 491.3h25M1258.1 478.8v25M1204 504.6h25M1216.5 492.1v25M1180.7 492.9h25M1193.2 480.4v25M1160.8 479.6h25M1173.3 467.1v25M1154.1 469.7h25M1166.6 457.2v25M1238.1 534.5h25M1250.6 522v25M1239.8 542.8h25M1252.3 530.3v25M1250.6 559.5h25M1263.1 547v25M1242.3 571.1h25M1254.8 558.6v25M1268.9 413.1h25M1281.4 400.6v25M1303.8 483h25M1316.3 470.5v25M1293.8 433.1h25M1306.3 420.6v25M1312.1 429.7h25M1324.6 417.2v25M1485.9 524.8h25M1498.4 512.3v25M1478.6 487h25M1491.1 474.5v25M1488.8 462.5h25M1501.3 450v25M1493.1 323.5h25M1505.6 311v25M1500.4 340.8h25M1512.9 328.3v25M1549.6 342.3h25M1562.1 329.8v25M1561.2 384.3h25M1573.7 371.8v25M1598.9 387.2h25M1611.4 374.7v25M1512 393h25M1524.5 380.5v25M1662.5 488.6h25M1675 476.1v25M1691.5 488.6h25M1704 476.1v25M853.5 498h25M866 485.5v25M859.5 512h25M872 499.5v25M865.5 524h25M878 511.5v25M872.5 533h25M885 520.5v25M858.5 537h25M871 524.5v25M867.5 548h25M880 535.5v25M880.5 519h25M893 506.5v25M885.5 533h25M898 520.5v25M890.5 541h25M903 528.5v25M875.5 505h25M888 492.5v25" fill="none" stroke="#ff0000" stroke-width="5" shape-rendering="crispEdges"/>
<rect x="220.5" y="125.5" width="1486" height="641" fill="none" stroke="#000" stroke-width="7"/>
<path d="M200 125.5H220.5M1706.5 125.5H1727M200 232.3H220.5M1706.5 232.3H1727M200 339.2H220.5M1706.5 339.2H1727M200 446H220.5M1706.5 446H1727M200 552.8H220.5M1706.5 552.8H1727M200 659.7H220.5M1706.5 659.7H1727M200 766.5H220.5M1706.5 766.5H1727M220.5 105V125.5M467.5 105V125.5M715.5 105V125.5M962.5 105V125.5M1210.7 105V125.5M1458.7 105V125.5M1706.5 105V125.5" stroke="#000" stroke-width="7" fill="none"/>
<rect x="927.9" y="711.7" width="40" height="40" fill="#5b9bd5" rx="3"/>
<circle cx="1206" cy="730" r="12.5" fill="none" stroke="#000" stroke-width="5"/>
<path d="M1458.9 730.7h25M1471.4 718.2v25" stroke="#ff0000" stroke-width="5"/>
<g><text transform="translate(344 66) scale(0.955 1)" text-anchor="middle">15-Mar</text>
<text transform="translate(591.5 66) scale(0.955 1)" text-anchor="middle">16-Mar</text>
<text transform="translate(839 66) scale(0.955 1)" text-anchor="middle">17-Mar</text>
<text transform="translate(1086.6 66) scale(0.955 1)" text-anchor="middle">18-Mar</text>
<text transform="translate(1334.7 66) scale(0.955 1)" text-anchor="middle">19-Mar</text>
<text transform="translate(1582.6 66) scale(0.955 1)" text-anchor="middle">20-Mar</text>
<text transform="translate(163.5 144.5) scale(0.955 1)" text-anchor="end">300</text>
<text transform="translate(1762.5 144.5) scale(0.955 1)">0</text>
<text transform="translate(163.5 251.3) scale(0.955 1)" text-anchor="end">200</text>
<text transform="translate(1762.5 251.3) scale(0.955 1)">-6</text>
<text transform="translate(163.5 358.2) scale(0.955 1)" text-anchor="end">100</text>
<text transform="translate(1762.5 358.2) scale(0.955 1)">-12</text>
<text transform="translate(163.5 465) scale(0.955 1)" text-anchor="end">0</text>
<text transform="translate(1762.5 465) scale(0.955 1)">-18</text>
<text transform="translate(163.5 571.8) scale(0.955 1)" text-anchor="end">-100</text>
<text transform="translate(1762.5 571.8) scale(0.955 1)">-24</text>
<text transform="translate(163.5 678.7) scale(0.955 1)" text-anchor="end">-200</text>
<text transform="translate(1762.5 678.7) scale(0.955 1)">-30</text>
<text transform="translate(163.5 785.5) scale(0.955 1)" text-anchor="end">-300</text>
<text transform="translate(1762.5 785.5) scale(0.955 1)">-36</text>
<text transform="translate(220.5 864) scale(0.955 1)" text-anchor="middle">0:00</text>
<text transform="translate(467.5 864) scale(0.955 1)" text-anchor="middle">0:00</text>
<text transform="translate(715.5 864) scale(0.955 1)" text-anchor="middle">0:00</text>
<text transform="translate(962.5 864) scale(0.955 1)" text-anchor="middle">0:00</text>
<text transform="translate(1210.7 864) scale(0.955 1)" text-anchor="middle">0:00</text>
<text transform="translate(1458.7 864) scale(0.955 1)" text-anchor="middle">0:00</text>
<text transform="translate(1706.5 864) scale(0.955 1)" text-anchor="middle">0:00</text>
<text transform="translate(960 929.3) scale(0.955 1)" text-anchor="middle">Time (UT)</text>
<text transform="translate(72.7 424.5) rotate(-90) scale(0.955 1)" text-anchor="middle">Error</text>
<text transform="translate(1910.7 431.4) rotate(-90) scale(0.955 1)" text-anchor="middle">&#916;RMS</text>
<text transform="translate(977 753) scale(0.955 1)">&#916;RMS</text>
<text transform="translate(1237.2 753) scale(0.955 1)">Err(M)</text>
<text transform="translate(1502.1 753) scale(0.955 1)">Err(R)</text>
<text x="978" y="1046" text-anchor="middle" font-size="85">(<tspan font-weight="bold">a</tspan>)</text></g>
<line x1="247.5" y1="1339.4" x2="1710.3" y2="1339.4" stroke="#d9d9d9" stroke-width="7"/>
<line x1="247.5" y1="1453.2" x2="1710.3" y2="1453.2" stroke="#d9d9d9" stroke-width="7"/>
<line x1="247.5" y1="1680.7" x2="1710.3" y2="1680.7" stroke="#d9d9d9" stroke-width="7"/>
<line x1="247.5" y1="1794.5" x2="1710.3" y2="1794.5" stroke="#d9d9d9" stroke-width="7"/>
<line x1="490.5" y1="1225.6" x2="490.5" y2="1908.3" stroke="#ed7d31" stroke-width="5"/>
<line x1="734.5" y1="1225.6" x2="734.5" y2="1908.3" stroke="#ed7d31" stroke-width="5"/>
<line x1="978.5" y1="1225.6" x2="978.5" y2="1908.3" stroke="#ed7d31" stroke-width="5"/>
<line x1="1222.5" y1="1225.6" x2="1222.5" y2="1908.3" stroke="#ed7d31" stroke-width="5"/>
<line x1="1466.3" y1="1225.6" x2="1466.3" y2="1908.3" stroke="#ed7d31" stroke-width="5"/>
<rect x="319.8" y="1225.6" width="98.5" height="152" fill="#5b9bd5" rx="0"/>
<rect x="563.2" y="1225.6" width="98.5" height="183.7" fill="#5b9bd5" rx="0"/>
<rect x="807.2" y="1225.6" width="98.5" height="40.9" fill="#5b9bd5" rx="0"/>
<rect x="1051.2" y="1225.6" width="98.5" height="441.3" fill="#5b9bd5" rx="0"/>
<rect x="1295.2" y="1225.6" width="98.5" height="307" fill="#5b9bd5" rx="0"/>
<rect x="1539" y="1225.6" width="98.5" height="286.9" fill="#5b9bd5" rx="0"/>
<line x1="247.5" y1="1566.9" x2="1710.3" y2="1566.9" stroke="#000" stroke-width="7"/>
<path d="M236.4 1557.2a12.5 12.5 0 1 0 25 0a12.5 12.5 0 1 0 -25 0M238.9 1552.7a12.5 12.5 0 1 0 25 0a12.5 12.5 0 1 0 -25 0M241.8 1595.4a12.5 12.5 0 1 0 25 0a12.5 12.5 0 1 0 -25 0M243.9 1556.4a12.5 12.5 0 1 0 25 0a12.5 12.5 0 1 0 -25 0M246.4 1553.7a12.5 12.5 0 1 0 25 0a12.5 12.5 0 1 0 -25 0M249.5 1595.9a12.5 12.5 0 1 0 25 0a12.5 12.5 0 1 0 -25 0M251.5 1588.8a12.5 12.5 0 1 0 25 0a12.5 12.5 0 1 0 -25 0M254.6 1579.1a12.5 12.5 0 1 0 25 0a12.5 12.5 0 1 0 -25 0M256.9 1593.3a12.5 12.5 0 1 0 25 0a12.5 12.5 0 1 0 -25 0M259 1581.6a12.5 12.5 0 1 0 25 0a12.5 12.5 0 1 0 -25 0M262.3 1570.5a12.5 12.5 0 1 0 25 0a12.5 12.5 0 1 0 -25 0M264.2 1592.4a12.5 12.5 0 1 0 25 0a12.5 12.5 0 1 0 -25 0M267.4 1594.9a12.5 12.5 0 1 0 25 0a12.5 12.5 0 1 0 -25 0M269.4 1591.4a12.5 12.5 0 1 0 25 0a12.5 12.5 0 1 0 -25 0M271.7 1577.2a12.5 12.5 0 1 0 25 0a12.5 12.5 0 1 0 -25 0M274.1 1560.4a12.5 12.5 0 1 0 25 0a12.5 12.5 0 1 0 -25 0M276.9 1545.5a12.5 12.5 0 1 0 25 0a12.5 12.5 0 1 0 -25 0M279.5 1573.3a12.5 12.5 0 1 0 25 0a12.5 12.5 0 1 0 -25 0M282.1 1599.8a12.5 12.5 0 1 0 25 0a12.5 12.5 0 1 0 -25 0M284.5 1553.9a12.5 12.5 0 1 0 25 0a12.5 12.5 0 1 0 -25 0M287.1 1562.6a12.5 12.5 0 1 0 25 0a12.5 12.5 0 1 0 -25 0M289.4 1574.3a12.5 12.5 0 1 0 25 0a12.5 12.5 0 1 0 -25 0M292.6 1545.2a12.5 12.5 0 1 0 25 0a12.5 12.5 0 1 0 -25 0M294.8 1577.5a12.5 12.5 0 1 0 25 0a12.5 12.5 0 1 0 -25 0M297 1551.6a12.5 12.5 0 1 0 25 0a12.5 12.5 0 1 0 -25 0M300.5 1582.1a12.5 12.5 0 1 0 25 0a12.5 12.5 0 1 0 -25 0M302.1 1584.3a12.5 12.5 0 1 0 25 0a12.5 12.5 0 1 0 -25 0M305.4 1557.8a12.5 12.5 0 1 0 25 0a12.5 12.5 0 1 0 -25 0M307.7 1564.9a12.5 12.5 0 1 0 25 0a12.5 12.5 0 1 0 -25 0M309.9 1589.1a12.5 12.5 0 1 0 25 0a12.5 12.5 0 1 0 -25 0M312.6 1566.6a12.5 12.5 0 1 0 25 0a12.5 12.5 0 1 0 -25 0M314.7 1597.1a12.5 12.5 0 1 0 25 0a12.5 12.5 0 1 0 -25 0M318.1 1543a12.5 12.5 0 1 0 25 0a12.5 12.5 0 1 0 -25 0M319.9 1561.5a12.5 12.5 0 1 0 25 0a12.5 12.5 0 1 0 -25 0M322.6 1596.5a12.5 12.5 0 1 0 25 0a12.5 12.5 0 1 0 -25 0M325.1 1544.3a12.5 12.5 0 1 0 25 0a12.5 12.5 0 1 0 -25 0M327.5 1578.5a12.5 12.5 0 1 0 25 0a12.5 12.5 0 1 0 -25 0M331 1568.1a12.5 12.5 0 1 0 25 0a12.5 12.5 0 1 0 -25 0M333.3 1548.2a12.5 12.5 0 1 0 25 0a12.5 12.5 0 1 0 -25 0M335.5 1563.4a12.5 12.5 0 1 0 25 0a12.5 12.5 0 1 0 -25 0M337.6 1554.6a12.5 12.5 0 1 0 25 0a12.5 12.5 0 1 0 -25 0M341 1563.7a12.5 12.5 0 1 0 25 0a12.5 12.5 0 1 0 -25 0M342.7 1584.2a12.5 12.5 0 1 0 25 0a12.5 12.5 0 1 0 -25 0M345.4 1555.2a12.5 12.5 0 1 0 25 0a12.5 12.5 0 1 0 -25 0M347.9 1554.1a12.5 12.5 0 1 0 25 0a12.5 12.5 0 1 0 -25 0M350.9 1545.5a12.5 12.5 0 1 0 25 0a12.5 12.5 0 1 0 -25 0M353.7 1589.8a12.5 12.5 0 1 0 25 0a12.5 12.5 0 1 0 -25 0M356.1 1573.6a12.5 12.5 0 1 0 25 0a12.5 12.5 0 1 0 -25 0M358.1 1566.1a12.5 12.5 0 1 0 25 0a12.5 12.5 0 1 0 -25 0M361.4 1582.8a12.5 12.5 0 1 0 25 0a12.5 12.5 0 1 0 -25 0M363.8 1558.7a12.5 12.5 0 1 0 25 0a12.5 12.5 0 1 0 -25 0M366.1 1571.6a12.5 12.5 0 1 0 25 0a12.5 12.5 0 1 0 -25 0M368.3 1571.7a12.5 12.5 0 1 0 25 0a12.5 12.5 0 1 0 -25 0M370.7 1582.2a12.5 12.5 0 1 0 25 0a12.5 12.5 0 1 0 -25 0M373.8 1583.4a12.5 12.5 0 1 0 25 0a12.5 12.5 0 1 0 -25 0M375.8 1546.4a12.5 12.5 0 1 0 25 0a12.5 12.5 0 1 0 -25 0M378.3 1581.7a12.5 12.5 0 1 0 25 0a12.5 12.5 0 1 0 -25 0M381.3 1551.1a12.5 12.5 0 1 0 25 0a12.5 12.5 0 1 0 -25 0M383.5 1572.1a12.5 12.5 0 1 0 25 0a12.5 12.5 0 1 0 -25 0M385.9 1545.2a12.5 12.5 0 1 0 25 0a12.5 12.5 0 1 0 -25 0M389.2 1575.5a12.5 12.5 0 1 0 25 0a12.5 12.5 0 1 0 -25 0M391.5 1571.7a12.5 12.5 0 1 0 25 0a12.5 12.5 0 1 0 -25 0M394.2 1574.2a12.5 12.5 0 1 0 25 0a12.5 12.5 0 1 0 -25 0M396.8 1556.1a12.5 12.5 0 1 0 25 0a12.5 12.5 0 1 0 -25 0M398.6 1560.2a12.5 12.5 0 1 0 25 0a12.5 12.5 0 1 0 -25 0M401.6 1546.8a12.5 12.5 0 1 0 25 0a12.5 12.5 0 1 0 -25 0M403.8 1571.1a12.5 12.5 0 1 0 25 0a12.5 12.5 0 1 0 -25 0M406.7 1556.2a12.5 12.5 0 1 0 25 0a12.5 12.5 0 1 0 -25 0M409.5 1544.5a12.5 12.5 0 1 0 25 0a12.5 12.5 0 1 0 -25 0M411.6 1544.3a12.5 12.5 0 1 0 25 0a12.5 12.5 0 1 0 -25 0M414 1566.8a12.5 12.5 0 1 0 25 0a12.5 12.5 0 1 0 -25 0M416.4 1554.8a12.5 12.5 0 1 0 25 0a12.5 12.5 0 1 0 -25 0M419.8 1538.2a12.5 12.5 0 1 0 25 0a12.5 12.5 0 1 0 -25 0M422.3 1553.3a12.5 12.5 0 1 0 25 0a12.5 12.5 0 1 0 -25 0M424.8 1564.4a12.5 12.5 0 1 0 25 0a12.5 12.5 0 1 0 -25 0M427.3 1535.2a12.5 12.5 0 1 0 25 0a12.5 12.5 0 1 0 -25 0M429.2 1546.3a12.5 12.5 0 1 0 25 0a12.5 12.5 0 1 0 -25 0M431.7 1571.2a12.5 12.5 0 1 0 25 0a12.5 12.5 0 1 0 -25 0M434.7 1550.9a12.5 12.5 0 1 0 25 0a12.5 12.5 0 1 0 -25 0M436.7 1575.7a12.5 12.5 0 1 0 25 0a12.5 12.5 0 1 0 -25 0M439.7 1540.3a12.5 12.5 0 1 0 25 0a12.5 12.5 0 1 0 -25 0M441.8 1566.4a12.5 12.5 0 1 0 25 0a12.5 12.5 0 1 0 -25 0M444.6 1535.8a12.5 12.5 0 1 0 25 0a12.5 12.5 0 1 0 -25 0M447.4 1571.9a12.5 12.5 0 1 0 25 0a12.5 12.5 0 1 0 -25 0M449.7 1566.5a12.5 12.5 0 1 0 25 0a12.5 12.5 0 1 0 -25 0M452.8 1585.1a12.5 12.5 0 1 0 25 0a12.5 12.5 0 1 0 -25 0M455.2 1539.5a12.5 12.5 0 1 0 25 0a12.5 12.5 0 1 0 -25 0M457.1 1564a12.5 12.5 0 1 0 25 0a12.5 12.5 0 1 0 -25 0M460.2 1577.3a12.5 12.5 0 1 0 25 0a12.5 12.5 0 1 0 -25 0M462.2 1526.9a12.5 12.5 0 1 0 25 0a12.5 12.5 0 1 0 -25 0M465.5 1581.6a12.5 12.5 0 1 0 25 0a12.5 12.5 0 1 0 -25 0M467.5 1547.3a12.5 12.5 0 1 0 25 0a12.5 12.5 0 1 0 -25 0M470.1 1567.8a12.5 12.5 0 1 0 25 0a12.5 12.5 0 1 0 -25 0M472.9 1593.7a12.5 12.5 0 1 0 25 0a12.5 12.5 0 1 0 -25 0M474.8 1545.6a12.5 12.5 0 1 0 25 0a12.5 12.5 0 1 0 -25 0M478.1 1521.9a12.5 12.5 0 1 0 25 0a12.5 12.5 0 1 0 -25 0M480.8 1586.9a12.5 12.5 0 1 0 25 0a12.5 12.5 0 1 0 -25 0M482.9 1538.1a12.5 12.5 0 1 0 25 0a12.5 12.5 0 1 0 -25 0M485.7 1573.8a12.5 12.5 0 1 0 25 0a12.5 12.5 0 1 0 -25 0M488.1 1607.6a12.5 12.5 0 1 0 25 0a12.5 12.5 0 1 0 -25 0M490.6 1584.6a12.5 12.5 0 1 0 25 0a12.5 12.5 0 1 0 -25 0M493.5 1597.6a12.5 12.5 0 1 0 25 0a12.5 12.5 0 1 0 -25 0M496 1564.1a12.5 12.5 0 1 0 25 0a12.5 12.5 0 1 0 -25 0M497.9 1588.4a12.5 12.5 0 1 0 25 0a12.5 12.5 0 1 0 -25 0M501.2 1558.8a12.5 12.5 0 1 0 25 0a12.5 12.5 0 1 0 -25 0M503.1 1605.1a12.5 12.5 0 1 0 25 0a12.5 12.5 0 1 0 -25 0M505.7 1599a12.5 12.5 0 1 0 25 0a12.5 12.5 0 1 0 -25 0M508.3 1535.2a12.5 12.5 0 1 0 25 0a12.5 12.5 0 1 0 -25 0M510.7 1590.1a12.5 12.5 0 1 0 25 0a12.5 12.5 0 1 0 -25 0M513 1610.5a12.5 12.5 0 1 0 25 0a12.5 12.5 0 1 0 -25 0M516.4 1540.3a12.5 12.5 0 1 0 25 0a12.5 12.5 0 1 0 -25 0M518.3 1604.7a12.5 12.5 0 1 0 25 0a12.5 12.5 0 1 0 -25 0M520.7 1541.8a12.5 12.5 0 1 0 25 0a12.5 12.5 0 1 0 -25 0M523.8 1602a12.5 12.5 0 1 0 25 0a12.5 12.5 0 1 0 -25 0M525.9 1545.5a12.5 12.5 0 1 0 25 0a12.5 12.5 0 1 0 -25 0M528.9 1599.9a12.5 12.5 0 1 0 25 0a12.5 12.5 0 1 0 -25 0M531.6 1580.4a12.5 12.5 0 1 0 25 0a12.5 12.5 0 1 0 -25 0M533.3 1552a12.5 12.5 0 1 0 25 0a12.5 12.5 0 1 0 -25 0M536 1541.1a12.5 12.5 0 1 0 25 0a12.5 12.5 0 1 0 -25 0M539.3 1542.5a12.5 12.5 0 1 0 25 0a12.5 12.5 0 1 0 -25 0M541.5 1552.4a12.5 12.5 0 1 0 25 0a12.5 12.5 0 1 0 -25 0M544.3 1578.8a12.5 12.5 0 1 0 25 0a12.5 12.5 0 1 0 -25 0M546.4 1587.4a12.5 12.5 0 1 0 25 0a12.5 12.5 0 1 0 -25 0M549 1576.4a12.5 12.5 0 1 0 25 0a12.5 12.5 0 1 0 -25 0M551.8 1565.1a12.5 12.5 0 1 0 25 0a12.5 12.5 0 1 0 -25 0M553.7 1564.1a12.5 12.5 0 1 0 25 0a12.5 12.5 0 1 0 -25 0M556.4 1586.7a12.5 12.5 0 1 0 25 0a12.5 12.5 0 1 0 -25 0M558.9 1575.5a12.5 12.5 0 1 0 25 0a12.5 12.5 0 1 0 -25 0M561.1 1558.5a12.5 12.5 0 1 0 25 0a12.5 12.5 0 1 0 -25 0M564.6 1586.4a12.5 12.5 0 1 0 25 0a12.5 12.5 0 1 0 -25 0M567 1545.4a12.5 12.5 0 1 0 25 0a12.5 12.5 0 1 0 -25 0M569.3 1583.1a12.5 12.5 0 1 0 25 0a12.5 12.5 0 1 0 -25 0M571.5 1563.3a12.5 12.5 0 1 0 25 0a12.5 12.5 0 1 0 -25 0M574.5 1581.6a12.5 12.5 0 1 0 25 0a12.5 12.5 0 1 0 -25 0M576.7 1585.7a12.5 12.5 0 1 0 25 0a12.5 12.5 0 1 0 -25 0M579.5 1581a12.5 12.5 0 1 0 25 0a12.5 12.5 0 1 0 -25 0M582.4 1543.5a12.5 12.5 0 1 0 25 0a12.5 12.5 0 1 0 -25 0M584.9 1553.1a12.5 12.5 0 1 0 25 0a12.5 12.5 0 1 0 -25 0M587.2 1566.8a12.5 12.5 0 1 0 25 0a12.5 12.5 0 1 0 -25 0M589.7 1550.6a12.5 12.5 0 1 0 25 0a12.5 12.5 0 1 0 -25 0M592.2 1552.8a12.5 12.5 0 1 0 25 0a12.5 12.5 0 1 0 -25 0M595 1554a12.5 12.5 0 1 0 25 0a12.5 12.5 0 1 0 -25 0M597.3 1576.6a12.5 12.5 0 1 0 25 0a12.5 12.5 0 1 0 -25 0M599.7 1567.9a12.5 12.5 0 1 0 25 0a12.5 12.5 0 1 0 -25 0M601.8 1579.1a12.5 12.5 0 1 0 25 0a12.5 12.5 0 1 0 -25 0M604.8 1568a12.5 12.5 0 1 0 25 0a12.5 12.5 0 1 0 -25 0M607 1563.2a12.5 12.5 0 1 0 25 0a12.5 12.5 0 1 0 -25 0M610.3 1542.7a12.5 12.5 0 1 0 25 0a12.5 12.5 0 1 0 -25 0M612.9 1566.6a12.5 12.5 0 1 0 25 0a12.5 12.5 0 1 0 -25 0M614.5 1571.2a12.5 12.5 0 1 0 25 0a12.5 12.5 0 1 0 -25 0M617.6 1571.6a12.5 12.5 0 1 0 25 0a12.5 12.5 0 1 0 -25 0M619.6 1540.7a12.5 12.5 0 1 0 25 0a12.5 12.5 0 1 0 -25 0M622.4 1557.5a12.5 12.5 0 1 0 25 0a12.5 12.5 0 1 0 -25 0M625.4 1572.3a12.5 12.5 0 1 0 25 0a12.5 12.5 0 1 0 -25 0M627.8 1550.7a12.5 12.5 0 1 0 25 0a12.5 12.5 0 1 0 -25 0M630.7 1540.8a12.5 12.5 0 1 0 25 0a12.5 12.5 0 1 0 -25 0M632.5 1568.7a12.5 12.5 0 1 0 25 0a12.5 12.5 0 1 0 -25 0M635.5 1566.8a12.5 12.5 0 1 0 25 0a12.5 12.5 0 1 0 -25 0M637.3 1556.7a12.5 12.5 0 1 0 25 0a12.5 12.5 0 1 0 -25 0M640.1 1576.8a12.5 12.5 0 1 0 25 0a12.5 12.5 0 1 0 -25 0M643 1571.7a12.5 12.5 0 1 0 25 0a12.5 12.5 0 1 0 -25 0M645.6 1576.6a12.5 12.5 0 1 0 25 0a12.5 12.5 0 1 0 -25 0M647.5 1548.6a12.5 12.5 0 1 0 25 0a12.5 12.5 0 1 0 -25 0M650.9 1548.9a12.5 12.5 0 1 0 25 0a12.5 12.5 0 1 0 -25 0M652.6 1542a12.5 12.5 0 1 0 25 0a12.5 12.5 0 1 0 -25 0M655.2 1588a12.5 12.5 0 1 0 25 0a12.5 12.5 0 1 0 -25 0M658.3 1545.9a12.5 12.5 0 1 0 25 0a12.5 12.5 0 1 0 -25 0M660.3 1584a12.5 12.5 0 1 0 25 0a12.5 12.5 0 1 0 -25 0M663.7 1553a12.5 12.5 0 1 0 25 0a12.5 12.5 0 1 0 -25 0M666.1 1543a12.5 12.5 0 1 0 25 0a12.5 12.5 0 1 0 -25 0M668.1 1539.9a12.5 12.5 0 1 0 25 0a12.5 12.5 0 1 0 -25 0M671.2 1565.9a12.5 12.5 0 1 0 25 0a12.5 12.5 0 1 0 -25 0M673.1 1537.4a12.5 12.5 0 1 0 25 0a12.5 12.5 0 1 0 -25 0M676.2 1574.7a12.5 12.5 0 1 0 25 0a12.5 12.5 0 1 0 -25 0M678 1543.3a12.5 12.5 0 1 0 25 0a12.5 12.5 0 1 0 -25 0M681.5 1551.6a12.5 12.5 0 1 0 25 0a12.5 12.5 0 1 0 -25 0M684 1568.3a12.5 12.5 0 1 0 25 0a12.5 12.5 0 1 0 -25 0M686.5 1542.4a12.5 12.5 0 1 0 25 0a12.5 12.5 0 1 0 -25 0M689.1 1590a12.5 12.5 0 1 0 25 0a12.5 12.5 0 1 0 -25 0M691.4 1536.4a12.5 12.5 0 1 0 25 0a12.5 12.5 0 1 0 -25 0M693.3 1576a12.5 12.5 0 1 0 25 0a12.5 12.5 0 1 0 -25 0M696.2 1547.1a12.5 12.5 0 1 0 25 0a12.5 12.5 0 1 0 -25 0M698.6 1571a12.5 12.5 0 1 0 25 0a12.5 12.5 0 1 0 -25 0M701.6 1585.9a12.5 12.5 0 1 0 25 0a12.5 12.5 0 1 0 -25 0M703.6 1538.5a12.5 12.5 0 1 0 25 0a12.5 12.5 0 1 0 -25 0M706.1 1553.4a12.5 12.5 0 1 0 25 0a12.5 12.5 0 1 0 -25 0M708.8 1582.4a12.5 12.5 0 1 0 25 0a12.5 12.5 0 1 0 -25 0M711.2 1590.1a12.5 12.5 0 1 0 25 0a12.5 12.5 0 1 0 -25 0M713.7 1564.6a12.5 12.5 0 1 0 25 0a12.5 12.5 0 1 0 -25 0M716.9 1540.9a12.5 12.5 0 1 0 25 0a12.5 12.5 0 1 0 -25 0M719.1 1596.9a12.5 12.5 0 1 0 25 0a12.5 12.5 0 1 0 -25 0M721.9 1543.3a12.5 12.5 0 1 0 25 0a12.5 12.5 0 1 0 -25 0M724.1 1571.4a12.5 12.5 0 1 0 25 0a12.5 12.5 0 1 0 -25 0M726.7 1577.1a12.5 12.5 0 1 0 25 0a12.5 12.5 0 1 0 -25 0M729.5 1550.3a12.5 12.5 0 1 0 25 0a12.5 12.5 0 1 0 -25 0M731.4 1599.1a12.5 12.5 0 1 0 25 0a12.5 12.5 0 1 0 -25 0M734.7 1563a12.5 12.5 0 1 0 25 0a12.5 12.5 0 1 0 -25 0M736.9 1578.5a12.5 12.5 0 1 0 25 0a12.5 12.5 0 1 0 -25 0M739.5 1553.2a12.5 12.5 0 1 0 25 0a12.5 12.5 0 1 0 -25 0M741.5 1588.4a12.5 12.5 0 1 0 25 0a12.5 12.5 0 1 0 -25 0M744.1 1574.6a12.5 12.5 0 1 0 25 0a12.5 12.5 0 1 0 -25 0M746.8 1540.7a12.5 12.5 0 1 0 25 0a12.5 12.5 0 1 0 -25 0M749.7 1574.8a12.5 12.5 0 1 0 25 0a12.5 12.5 0 1 0 -25 0M752.3 1552.7a12.5 12.5 0 1 0 25 0a12.5 12.5 0 1 0 -25 0M755.1 1584.9a12.5 12.5 0 1 0 25 0a12.5 12.5 0 1 0 -25 0M757.2 1561.3a12.5 12.5 0 1 0 25 0a12.5 12.5 0 1 0 -25 0M760.1 1585.7a12.5 12.5 0 1 0 25 0a12.5 12.5 0 1 0 -25 0M761.9 1557.3a12.5 12.5 0 1 0 25 0a12.5 12.5 0 1 0 -25 0M765.3 1614.5a12.5 12.5 0 1 0 25 0a12.5 12.5 0 1 0 -25 0M767.5 1554a12.5 12.5 0 1 0 25 0a12.5 12.5 0 1 0 -25 0M770.3 1547.2a12.5 12.5 0 1 0 25 0a12.5 12.5 0 1 0 -25 0M772.7 1550.2a12.5 12.5 0 1 0 25 0a12.5 12.5 0 1 0 -25 0M774.7 1593a12.5 12.5 0 1 0 25 0a12.5 12.5 0 1 0 -25 0M777.9 1549.6a12.5 12.5 0 1 0 25 0a12.5 12.5 0 1 0 -25 0M779.8 1562.6a12.5 12.5 0 1 0 25 0a12.5 12.5 0 1 0 -25 0M785.1 1618.8a12.5 12.5 0 1 0 25 0a12.5 12.5 0 1 0 -25 0M788 1548.8a12.5 12.5 0 1 0 25 0a12.5 12.5 0 1 0 -25 0M790.2 1617.1a12.5 12.5 0 1 0 25 0a12.5 12.5 0 1 0 -25 0M793.2 1556.9a12.5 12.5 0 1 0 25 0a12.5 12.5 0 1 0 -25 0M805.3 1555.8a12.5 12.5 0 1 0 25 0a12.5 12.5 0 1 0 -25 0M807.6 1597.2a12.5 12.5 0 1 0 25 0a12.5 12.5 0 1 0 -25 0M813.1 1607.8a12.5 12.5 0 1 0 25 0a12.5 12.5 0 1 0 -25 0M815.6 1613.3a12.5 12.5 0 1 0 25 0a12.5 12.5 0 1 0 -25 0M818.4 1569.8a12.5 12.5 0 1 0 25 0a12.5 12.5 0 1 0 -25 0M820.5 1585.7a12.5 12.5 0 1 0 25 0a12.5 12.5 0 1 0 -25 0M823.4 1607.5a12.5 12.5 0 1 0 25 0a12.5 12.5 0 1 0 -25 0M833.7 1588.1a12.5 12.5 0 1 0 25 0a12.5 12.5 0 1 0 -25 0M856.1 1592.3a12.5 12.5 0 1 0 25 0a12.5 12.5 0 1 0 -25 0M858.5 1590a12.5 12.5 0 1 0 25 0a12.5 12.5 0 1 0 -25 0M861.2 1603.8a12.5 12.5 0 1 0 25 0a12.5 12.5 0 1 0 -25 0M864.2 1617.1a12.5 12.5 0 1 0 25 0a12.5 12.5 0 1 0 -25 0M868.6 1629.4a12.5 12.5 0 1 0 25 0a12.5 12.5 0 1 0 -25 0M871 1640.8a12.5 12.5 0 1 0 25 0a12.5 12.5 0 1 0 -25 0M874.2 1631.4a12.5 12.5 0 1 0 25 0a12.5 12.5 0 1 0 -25 0M876.3 1609a12.5 12.5 0 1 0 25 0a12.5 12.5 0 1 0 -25 0M883.8 1621.3a12.5 12.5 0 1 0 25 0a12.5 12.5 0 1 0 -25 0M886.3 1625.5a12.5 12.5 0 1 0 25 0a12.5 12.5 0 1 0 -25 0M1016.2 1582.2a12.5 12.5 0 1 0 25 0a12.5 12.5 0 1 0 -25 0M1019.3 1625.9a12.5 12.5 0 1 0 25 0a12.5 12.5 0 1 0 -25 0M1021.5 1601a12.5 12.5 0 1 0 25 0a12.5 12.5 0 1 0 -25 0M1024.2 1578.5a12.5 12.5 0 1 0 25 0a12.5 12.5 0 1 0 -25 0M1026.9 1613.5a12.5 12.5 0 1 0 25 0a12.5 12.5 0 1 0 -25 0M1028.9 1603.6a12.5 12.5 0 1 0 25 0a12.5 12.5 0 1 0 -25 0M1031.2 1580a12.5 12.5 0 1 0 25 0a12.5 12.5 0 1 0 -25 0M1033.7 1574.7a12.5 12.5 0 1 0 25 0a12.5 12.5 0 1 0 -25 0M1036.9 1602.4a12.5 12.5 0 1 0 25 0a12.5 12.5 0 1 0 -25 0M1039.3 1630.4a12.5 12.5 0 1 0 25 0a12.5 12.5 0 1 0 -25 0M1042.1 1629.7a12.5 12.5 0 1 0 25 0a12.5 12.5 0 1 0 -25 0M1044.6 1574.1a12.5 12.5 0 1 0 25 0a12.5 12.5 0 1 0 -25 0M1047 1633.9a12.5 12.5 0 1 0 25 0a12.5 12.5 0 1 0 -25 0M1049.7 1594.5a12.5 12.5 0 1 0 25 0a12.5 12.5 0 1 0 -25 0M1052.3 1603.2a12.5 12.5 0 1 0 25 0a12.5 12.5 0 1 0 -25 0M1053.9 1581.2a12.5 12.5 0 1 0 25 0a12.5 12.5 0 1 0 -25 0M1057.1 1622.4a12.5 12.5 0 1 0 25 0a12.5 12.5 0 1 0 -25 0M1059.4 1574.8a12.5 12.5 0 1 0 25 0a12.5 12.5 0 1 0 -25 0M1061.9 1619.1a12.5 12.5 0 1 0 25 0a12.5 12.5 0 1 0 -25 0M1064.2 1584.4a12.5 12.5 0 1 0 25 0a12.5 12.5 0 1 0 -25 0M1067.3 1614.9a12.5 12.5 0 1 0 25 0a12.5 12.5 0 1 0 -25 0M1069.9 1605.9a12.5 12.5 0 1 0 25 0a12.5 12.5 0 1 0 -25 0M1072 1569.4a12.5 12.5 0 1 0 25 0a12.5 12.5 0 1 0 -25 0M1074.8 1566.6a12.5 12.5 0 1 0 25 0a12.5 12.5 0 1 0 -25 0M1077.5 1593.4a12.5 12.5 0 1 0 25 0a12.5 12.5 0 1 0 -25 0M1080.2 1601.1a12.5 12.5 0 1 0 25 0a12.5 12.5 0 1 0 -25 0M1082.3 1595.8a12.5 12.5 0 1 0 25 0a12.5 12.5 0 1 0 -25 0M1085.3 1595.2a12.5 12.5 0 1 0 25 0a12.5 12.5 0 1 0 -25 0M1087.2 1592.5a12.5 12.5 0 1 0 25 0a12.5 12.5 0 1 0 -25 0M1090.1 1582.5a12.5 12.5 0 1 0 25 0a12.5 12.5 0 1 0 -25 0M1092.9 1549.2a12.5 12.5 0 1 0 25 0a12.5 12.5 0 1 0 -25 0M1094.6 1597.9a12.5 12.5 0 1 0 25 0a12.5 12.5 0 1 0 -25 0M1097.2 1592.9a12.5 12.5 0 1 0 25 0a12.5 12.5 0 1 0 -25 0M1100.2 1591.5a12.5 12.5 0 1 0 25 0a12.5 12.5 0 1 0 -25 0M1102.2 1551.1a12.5 12.5 0 1 0 25 0a12.5 12.5 0 1 0 -25 0M1105.3 1561.9a12.5 12.5 0 1 0 25 0a12.5 12.5 0 1 0 -25 0M1107.3 1545.1a12.5 12.5 0 1 0 25 0a12.5 12.5 0 1 0 -25 0M1109.8 1571.8a12.5 12.5 0 1 0 25 0a12.5 12.5 0 1 0 -25 0M1112.5 1540.3a12.5 12.5 0 1 0 25 0a12.5 12.5 0 1 0 -25 0M1115.2 1526.1a12.5 12.5 0 1 0 25 0a12.5 12.5 0 1 0 -25 0M1118.1 1565.2a12.5 12.5 0 1 0 25 0a12.5 12.5 0 1 0 -25 0M1120.6 1588.6a12.5 12.5 0 1 0 25 0a12.5 12.5 0 1 0 -25 0M1122.6 1530.6a12.5 12.5 0 1 0 25 0a12.5 12.5 0 1 0 -25 0M1125.7 1582.5a12.5 12.5 0 1 0 25 0a12.5 12.5 0 1 0 -25 0M1127.7 1582.4a12.5 12.5 0 1 0 25 0a12.5 12.5 0 1 0 -25 0M1130.5 1537.1a12.5 12.5 0 1 0 25 0a12.5 12.5 0 1 0 -25 0M1133.3 1523.7a12.5 12.5 0 1 0 25 0a12.5 12.5 0 1 0 -25 0M1135.9 1578.6a12.5 12.5 0 1 0 25 0a12.5 12.5 0 1 0 -25 0M1138.1 1574.2a12.5 12.5 0 1 0 25 0a12.5 12.5 0 1 0 -25 0M1140.3 1572.7a12.5 12.5 0 1 0 25 0a12.5 12.5 0 1 0 -25 0M1143.2 1525.3a12.5 12.5 0 1 0 25 0a12.5 12.5 0 1 0 -25 0M1146.2 1573.5a12.5 12.5 0 1 0 25 0a12.5 12.5 0 1 0 -25 0M1148.1 1538.7a12.5 12.5 0 1 0 25 0a12.5 12.5 0 1 0 -25 0M1150.4 1556.4a12.5 12.5 0 1 0 25 0a12.5 12.5 0 1 0 -25 0M1153.8 1539.3a12.5 12.5 0 1 0 25 0a12.5 12.5 0 1 0 -25 0M1156.3 1531a12.5 12.5 0 1 0 25 0a12.5 12.5 0 1 0 -25 0M1159 1521.8a12.5 12.5 0 1 0 25 0a12.5 12.5 0 1 0 -25 0M1161 1574.1a12.5 12.5 0 1 0 25 0a12.5 12.5 0 1 0 -25 0M1163.7 1545.7a12.5 12.5 0 1 0 25 0a12.5 12.5 0 1 0 -25 0M1166.2 1521.8a12.5 12.5 0 1 0 25 0a12.5 12.5 0 1 0 -25 0M1168.3 1513.5a12.5 12.5 0 1 0 25 0a12.5 12.5 0 1 0 -25 0M1171.2 1537.9a12.5 12.5 0 1 0 25 0a12.5 12.5 0 1 0 -25 0M1174 1525.9a12.5 12.5 0 1 0 25 0a12.5 12.5 0 1 0 -25 0M1176.4 1520.3a12.5 12.5 0 1 0 25 0a12.5 12.5 0 1 0 -25 0M1178.3 1525.7a12.5 12.5 0 1 0 25 0a12.5 12.5 0 1 0 -25 0M1181 1533.8a12.5 12.5 0 1 0 25 0a12.5 12.5 0 1 0 -25 0M1183.8 1539.5a12.5 12.5 0 1 0 25 0a12.5 12.5 0 1 0 -25 0M1186.9 1552.6a12.5 12.5 0 1 0 25 0a12.5 12.5 0 1 0 -25 0M1189.3 1568.3a12.5 12.5 0 1 0 25 0a12.5 12.5 0 1 0 -25 0M1191.3 1531.6a12.5 12.5 0 1 0 25 0a12.5 12.5 0 1 0 -25 0M1194.1 1555.9a12.5 12.5 0 1 0 25 0a12.5 12.5 0 1 0 -25 0M1196.5 1521.5a12.5 12.5 0 1 0 25 0a12.5 12.5 0 1 0 -25 0M1199.1 1545.1a12.5 12.5 0 1 0 25 0a12.5 12.5 0 1 0 -25 0M1255.2 1556.2a12.5 12.5 0 1 0 25 0a12.5 12.5 0 1 0 -25 0M1257.6 1579.3a12.5 12.5 0 1 0 25 0a12.5 12.5 0 1 0 -25 0M1260.3 1555.2a12.5 12.5 0 1 0 25 0a12.5 12.5 0 1 0 -25 0M1263.1 1582.5a12.5 12.5 0 1 0 25 0a12.5 12.5 0 1 0 -25 0M1265.7 1570.9a12.5 12.5 0 1 0 25 0a12.5 12.5 0 1 0 -25 0M1267.8 1549.2a12.5 12.5 0 1 0 25 0a12.5 12.5 0 1 0 -25 0M1269.9 1579.5a12.5 12.5 0 1 0 25 0a12.5 12.5 0 1 0 -25 0M1272.7 1575.7a12.5 12.5 0 1 0 25 0a12.5 12.5 0 1 0 -25 0M1275.5 1557.8a12.5 12.5 0 1 0 25 0a12.5 12.5 0 1 0 -25 0M1277.9 1572.1a12.5 12.5 0 1 0 25 0a12.5 12.5 0 1 0 -25 0M1280.2 1589.4a12.5 12.5 0 1 0 25 0a12.5 12.5 0 1 0 -25 0M1282.5 1576.9a12.5 12.5 0 1 0 25 0a12.5 12.5 0 1 0 -25 0M1285.9 1591.7a12.5 12.5 0 1 0 25 0a12.5 12.5 0 1 0 -25 0M1287.6 1565.8a12.5 12.5 0 1 0 25 0a12.5 12.5 0 1 0 -25 0M1290.9 1583.9a12.5 12.5 0 1 0 25 0a12.5 12.5 0 1 0 -25 0M1292.7 1600.1a12.5 12.5 0 1 0 25 0a12.5 12.5 0 1 0 -25 0M1295.6 1598.9a12.5 12.5 0 1 0 25 0a12.5 12.5 0 1 0 -25 0M1298.3 1580.1a12.5 12.5 0 1 0 25 0a12.5 12.5 0 1 0 -25 0M1300.7 1583.5a12.5 12.5 0 1 0 25 0a12.5 12.5 0 1 0 -25 0M1303.5 1613.9a12.5 12.5 0 1 0 25 0a12.5 12.5 0 1 0 -25 0M1305.7 1609a12.5 12.5 0 1 0 25 0a12.5 12.5 0 1 0 -25 0M1308.6 1600.7a12.5 12.5 0 1 0 25 0a12.5 12.5 0 1 0 -25 0M1310.9 1568.1a12.5 12.5 0 1 0 25 0a12.5 12.5 0 1 0 -25 0M1313.6 1596.3a12.5 12.5 0 1 0 25 0a12.5 12.5 0 1 0 -25 0M1316.2 1597.2a12.5 12.5 0 1 0 25 0a12.5 12.5 0 1 0 -25 0M1319 1570.2a12.5 12.5 0 1 0 25 0a12.5 12.5 0 1 0 -25 0M1321.1 1556.2a12.5 12.5 0 1 0 25 0a12.5 12.5 0 1 0 -25 0M1323.1 1599a12.5 12.5 0 1 0 25 0a12.5 12.5 0 1 0 -25 0M1326.5 1559.7a12.5 12.5 0 1 0 25 0a12.5 12.5 0 1 0 -25 0M1329.1 1587.7a12.5 12.5 0 1 0 25 0a12.5 12.5 0 1 0 -25 0M1331.4 1588.8a12.5 12.5 0 1 0 25 0a12.5 12.5 0 1 0 -25 0M1334 1563.9a12.5 12.5 0 1 0 25 0a12.5 12.5 0 1 0 -25 0M1335.8 1593.2a12.5 12.5 0 1 0 25 0a12.5 12.5 0 1 0 -25 0M1338.7 1567.2a12.5 12.5 0 1 0 25 0a12.5 12.5 0 1 0 -25 0M1341.3 1554.6a12.5 12.5 0 1 0 25 0a12.5 12.5 0 1 0 -25 0M1344 1563.4a12.5 12.5 0 1 0 25 0a12.5 12.5 0 1 0 -25 0M1346.3 1555.9a12.5 12.5 0 1 0 25 0a12.5 12.5 0 1 0 -25 0M1348.9 1590.9a12.5 12.5 0 1 0 25 0a12.5 12.5 0 1 0 -25 0M1351.5 1585.4a12.5 12.5 0 1 0 25 0a12.5 12.5 0 1 0 -25 0M1354.5 1589.8a12.5 12.5 0 1 0 25 0a12.5 12.5 0 1 0 -25 0M1356.5 1573.5a12.5 12.5 0 1 0 25 0a12.5 12.5 0 1 0 -25 0M1359.1 1562.9a12.5 12.5 0 1 0 25 0a12.5 12.5 0 1 0 -25 0M1362.1 1573.2a12.5 12.5 0 1 0 25 0a12.5 12.5 0 1 0 -25 0M1364.4 1581a12.5 12.5 0 1 0 25 0a12.5 12.5 0 1 0 -25 0M1366.7 1580.5a12.5 12.5 0 1 0 25 0a12.5 12.5 0 1 0 -25 0M1369.2 1573.6a12.5 12.5 0 1 0 25 0a12.5 12.5 0 1 0 -25 0M1371.8 1564.6a12.5 12.5 0 1 0 25 0a12.5 12.5 0 1 0 -25 0M1374.1 1588.2a12.5 12.5 0 1 0 25 0a12.5 12.5 0 1 0 -25 0M1377.5 1577.7a12.5 12.5 0 1 0 25 0a12.5 12.5 0 1 0 -25 0M1379.4 1593.2a12.5 12.5 0 1 0 25 0a12.5 12.5 0 1 0 -25 0M1382.1 1580.1a12.5 12.5 0 1 0 25 0a12.5 12.5 0 1 0 -25 0M1385 1568.7a12.5 12.5 0 1 0 25 0a12.5 12.5 0 1 0 -25 0M1387.5 1587.1a12.5 12.5 0 1 0 25 0a12.5 12.5 0 1 0 -25 0M1389.4 1562.1a12.5 12.5 0 1 0 25 0a12.5 12.5 0 1 0 -25 0M1391.9 1554.8a12.5 12.5 0 1 0 25 0a12.5 12.5 0 1 0 -25 0M1394.4 1562.3a12.5 12.5 0 1 0 25 0a12.5 12.5 0 1 0 -25 0M1397.7 1569.3a12.5 12.5 0 1 0 25 0a12.5 12.5 0 1 0 -25 0M1399.8 1553.8a12.5 12.5 0 1 0 25 0a12.5 12.5 0 1 0 -25 0M1402.2 1558a12.5 12.5 0 1 0 25 0a12.5 12.5 0 1 0 -25 0M1405 1567.8a12.5 12.5 0 1 0 25 0a12.5 12.5 0 1 0 -25 0M1407.5 1573.3a12.5 12.5 0 1 0 25 0a12.5 12.5 0 1 0 -25 0M1410.1 1574.2a12.5 12.5 0 1 0 25 0a12.5 12.5 0 1 0 -25 0M1412.2 1570.4a12.5 12.5 0 1 0 25 0a12.5 12.5 0 1 0 -25 0M1415.2 1577.3a12.5 12.5 0 1 0 25 0a12.5 12.5 0 1 0 -25 0M1417.7 1590.9a12.5 12.5 0 1 0 25 0a12.5 12.5 0 1 0 -25 0M1420.6 1596.6a12.5 12.5 0 1 0 25 0a12.5 12.5 0 1 0 -25 0M1422.3 1571.9a12.5 12.5 0 1 0 25 0a12.5 12.5 0 1 0 -25 0M1425.3 1551.5a12.5 12.5 0 1 0 25 0a12.5 12.5 0 1 0 -25 0M1427.4 1562a12.5 12.5 0 1 0 25 0a12.5 12.5 0 1 0 -25 0M1430.5 1583.1a12.5 12.5 0 1 0 25 0a12.5 12.5 0 1 0 -25 0M1433.2 1596.1a12.5 12.5 0 1 0 25 0a12.5 12.5 0 1 0 -25 0M1435.2 1552a12.5 12.5 0 1 0 25 0a12.5 12.5 0 1 0 -25 0M1438.2 1572a12.5 12.5 0 1 0 25 0a12.5 12.5 0 1 0 -25 0M1440 1560.5a12.5 12.5 0 1 0 25 0a12.5 12.5 0 1 0 -25 0M1442.6 1589a12.5 12.5 0 1 0 25 0a12.5 12.5 0 1 0 -25 0M1446 1557.4a12.5 12.5 0 1 0 25 0a12.5 12.5 0 1 0 -25 0M1448.5 1553.9a12.5 12.5 0 1 0 25 0a12.5 12.5 0 1 0 -25 0M1450.5 1559.6a12.5 12.5 0 1 0 25 0a12.5 12.5 0 1 0 -25 0M1452.8 1587.1a12.5 12.5 0 1 0 25 0a12.5 12.5 0 1 0 -25 0M1456.2 1603a12.5 12.5 0 1 0 25 0a12.5 12.5 0 1 0 -25 0M1458.4 1586.1a12.5 12.5 0 1 0 25 0a12.5 12.5 0 1 0 -25 0M1461.3 1554.8a12.5 12.5 0 1 0 25 0a12.5 12.5 0 1 0 -25 0M1463.7 1593.1a12.5 12.5 0 1 0 25 0a12.5 12.5 0 1 0 -25 0M1466 1575.6a12.5 12.5 0 1 0 25 0a12.5 12.5 0 1 0 -25 0M1468.8 1558.1a12.5 12.5 0 1 0 25 0a12.5 12.5 0 1 0 -25 0M1470.5 1590.3a12.5 12.5 0 1 0 25 0a12.5 12.5 0 1 0 -25 0M1473.5 1582.6a12.5 12.5 0 1 0 25 0a12.5 12.5 0 1 0 -25 0M1476.1 1611.3a12.5 12.5 0 1 0 25 0a12.5 12.5 0 1 0 -25 0M1478.6 1590.9a12.5 12.5 0 1 0 25 0a12.5 12.5 0 1 0 -25 0M1481.5 1582.3a12.5 12.5 0 1 0 25 0a12.5 12.5 0 1 0 -25 0M1483.4 1578.9a12.5 12.5 0 1 0 25 0a12.5 12.5 0 1 0 -25 0M1486.1 1620.3a12.5 12.5 0 1 0 25 0a12.5 12.5 0 1 0 -25 0M1489 1578.4a12.5 12.5 0 1 0 25 0a12.5 12.5 0 1 0 -25 0M1491.5 1570.4a12.5 12.5 0 1 0 25 0a12.5 12.5 0 1 0 -25 0M1493.4 1582.2a12.5 12.5 0 1 0 25 0a12.5 12.5 0 1 0 -25 0M1496.6 1600.7a12.5 12.5 0 1 0 25 0a12.5 12.5 0 1 0 -25 0M1498.5 1555.3a12.5 12.5 0 1 0 25 0a12.5 12.5 0 1 0 -25 0M1501.2 1590a12.5 12.5 0 1 0 25 0a12.5 12.5 0 1 0 -25 0M1504.3 1589.3a12.5 12.5 0 1 0 25 0a12.5 12.5 0 1 0 -25 0M1506.8 1561.1a12.5 12.5 0 1 0 25 0a12.5 12.5 0 1 0 -25 0M1509.3 1567.9a12.5 12.5 0 1 0 25 0a12.5 12.5 0 1 0 -25 0M1511.9 1589.6a12.5 12.5 0 1 0 25 0a12.5 12.5 0 1 0 -25 0M1514 1619a12.5 12.5 0 1 0 25 0a12.5 12.5 0 1 0 -25 0M1517 1581.6a12.5 12.5 0 1 0 25 0a12.5 12.5 0 1 0 -25 0M1518.8 1577.2a12.5 12.5 0 1 0 25 0a12.5 12.5 0 1 0 -25 0M1522 1580.9a12.5 12.5 0 1 0 25 0a12.5 12.5 0 1 0 -25 0M1524.1 1583.7a12.5 12.5 0 1 0 25 0a12.5 12.5 0 1 0 -25 0M1526.5 1574.3a12.5 12.5 0 1 0 25 0a12.5 12.5 0 1 0 -25 0M1529.1 1584a12.5 12.5 0 1 0 25 0a12.5 12.5 0 1 0 -25 0M1532.4 1584.1a12.5 12.5 0 1 0 25 0a12.5 12.5 0 1 0 -25 0M1534.2 1584.5a12.5 12.5 0 1 0 25 0a12.5 12.5 0 1 0 -25 0M1536.6 1614.2a12.5 12.5 0 1 0 25 0a12.5 12.5 0 1 0 -25 0M1539.5 1595a12.5 12.5 0 1 0 25 0a12.5 12.5 0 1 0 -25 0M1542.2 1594.1a12.5 12.5 0 1 0 25 0a12.5 12.5 0 1 0 -25 0M1544.8 1577.4a12.5 12.5 0 1 0 25 0a12.5 12.5 0 1 0 -25 0M1547.5 1570.9a12.5 12.5 0 1 0 25 0a12.5 12.5 0 1 0 -25 0M1549.6 1618.7a12.5 12.5 0 1 0 25 0a12.5 12.5 0 1 0 -25 0M1552.2 1557.2a12.5 12.5 0 1 0 25 0a12.5 12.5 0 1 0 -25 0M1555.1 1598.3a12.5 12.5 0 1 0 25 0a12.5 12.5 0 1 0 -25 0M1557.6 1600.3a12.5 12.5 0 1 0 25 0a12.5 12.5 0 1 0 -25 0M1559.9 1555.4a12.5 12.5 0 1 0 25 0a12.5 12.5 0 1 0 -25 0M1562.2 1557.8a12.5 12.5 0 1 0 25 0a12.5 12.5 0 1 0 -25 0M1564.8 1592.1a12.5 12.5 0 1 0 25 0a12.5 12.5 0 1 0 -25 0M1567.1 1545.7a12.5 12.5 0 1 0 25 0a12.5 12.5 0 1 0 -25 0M1569.7 1543.3a12.5 12.5 0 1 0 25 0a12.5 12.5 0 1 0 -25 0M1572.8 1550a12.5 12.5 0 1 0 25 0a12.5 12.5 0 1 0 -25 0M1574.6 1544.5a12.5 12.5 0 1 0 25 0a12.5 12.5 0 1 0 -25 0M1577.8 1546.3a12.5 12.5 0 1 0 25 0a12.5 12.5 0 1 0 -25 0M1579.7 1564.7a12.5 12.5 0 1 0 25 0a12.5 12.5 0 1 0 -25 0M1582.6 1546.4a12.5 12.5 0 1 0 25 0a12.5 12.5 0 1 0 -25 0M1585.7 1583.3a12.5 12.5 0 1 0 25 0a12.5 12.5 0 1 0 -25 0M1588.2 1569.2a12.5 12.5 0 1 0 25 0a12.5 12.5 0 1 0 -25 0M1590.3 1552.4a12.5 12.5 0 1 0 25 0a12.5 12.5 0 1 0 -25 0M1593 1567.4a12.5 12.5 0 1 0 25 0a12.5 12.5 0 1 0 -25 0M1595.7 1569.4a12.5 12.5 0 1 0 25 0a12.5 12.5 0 1 0 -25 0M1598 1534.5a12.5 12.5 0 1 0 25 0a12.5 12.5 0 1 0 -25 0M1600.6 1543.9a12.5 12.5 0 1 0 25 0a12.5 12.5 0 1 0 -25 0M1603.1 1538.2a12.5 12.5 0 1 0 25 0a12.5 12.5 0 1 0 -25 0M1605.1 1538.7a12.5 12.5 0 1 0 25 0a12.5 12.5 0 1 0 -25 0M1607.8 1547a12.5 12.5 0 1 0 25 0a12.5 12.5 0 1 0 -25 0M1610.7 1543.8a12.5 12.5 0 1 0 25 0a12.5 12.5 0 1 0 -25 0M1613.5 1570.6a12.5 12.5 0 1 0 25 0a12.5 12.5 0 1 0 -25 0M1615.3 1531.8a12.5 12.5 0 1 0 25 0a12.5 12.5 0 1 0 -25 0M1618.5 1576.3a12.5 12.5 0 1 0 25 0a12.5 12.5 0 1 0 -25 0M1620.4 1544.8a12.5 12.5 0 1 0 25 0a12.5 12.5 0 1 0 -25 0M1623.8 1581a12.5 12.5 0 1 0 25 0a12.5 12.5 0 1 0 -25 0M1625.8 1575.7a12.5 12.5 0 1 0 25 0a12.5 12.5 0 1 0 -25 0M1628.9 1569a12.5 12.5 0 1 0 25 0a12.5 12.5 0 1 0 -25 0M1631.5 1548.5a12.5 12.5 0 1 0 25 0a12.5 12.5 0 1 0 -25 0M1633.5 1577.9a12.5 12.5 0 1 0 25 0a12.5 12.5 0 1 0 -25 0M1636.3 1535.8a12.5 12.5 0 1 0 25 0a12.5 12.5 0 1 0 -25 0M1638.6 1552.5a12.5 12.5 0 1 0 25 0a12.5 12.5 0 1 0 -25 0M1640.7 1546.3a12.5 12.5 0 1 0 25 0a12.5 12.5 0 1 0 -25 0M1643.7 1582.4a12.5 12.5 0 1 0 25 0a12.5 12.5 0 1 0 -25 0M1645.9 1574a12.5 12.5 0 1 0 25 0a12.5 12.5 0 1 0 -25 0M1648.9 1564.2a12.5 12.5 0 1 0 25 0a12.5 12.5 0 1 0 -25 0M1651.6 1568a12.5 12.5 0 1 0 25 0a12.5 12.5 0 1 0 -25 0M1653.4 1596.8a12.5 12.5 0 1 0 25 0a12.5 12.5 0 1 0 -25 0M1656.5 1544.3a12.5 12.5 0 1 0 25 0a12.5 12.5 0 1 0 -25 0M1658.6 1568a12.5 12.5 0 1 0 25 0a12.5 12.5 0 1 0 -25 0M1661.7 1566a12.5 12.5 0 1 0 25 0a12.5 12.5 0 1 0 -25 0M1663.6 1607.4a12.5 12.5 0 1 0 25 0a12.5 12.5 0 1 0 -25 0M1667 1567.8a12.5 12.5 0 1 0 25 0a12.5 12.5 0 1 0 -25 0M1669 1548.5a12.5 12.5 0 1 0 25 0a12.5 12.5 0 1 0 -25 0M1671.5 1606.1a12.5 12.5 0 1 0 25 0a12.5 12.5 0 1 0 -25 0M1674.5 1612.5a12.5 12.5 0 1 0 25 0a12.5 12.5 0 1 0 -25 0M1676.9 1603.1a12.5 12.5 0 1 0 25 0a12.5 12.5 0 1 0 -25 0M1679.4 1602.5a12.5 12.5 0 1 0 25 0a12.5 12.5 0 1 0 -25 0M1682.2 1613.6a12.5 12.5 0 1 0 25 0a12.5 12.5 0 1 0 -25 0M1684.2 1598.7a12.5 12.5 0 1 0 25 0a12.5 12.5 0 1 0 -25 0M1687 1583a12.5 12.5 0 1 0 25 0a12.5 12.5 0 1 0 -25 0M1689 1609.6a12.5 12.5 0 1 0 25 0a12.5 12.5 0 1 0 -25 0M1692.4 1592.7a12.5 12.5 0 1 0 25 0a12.5 12.5 0 1 0 -25 0M1694.5 1608.3a12.5 12.5 0 1 0 25 0a12.5 12.5 0 1 0 -25 0M245.8 1438.2a12.5 12.5 0 1 0 25 0a12.5 12.5 0 1 0 -25 0M249.9 1472.3a12.5 12.5 0 1 0 25 0a12.5 12.5 0 1 0 -25 0M250.8 1486.5a12.5 12.5 0 1 0 25 0a12.5 12.5 0 1 0 -25 0M242.5 1523a12.5 12.5 0 1 0 25 0a12.5 12.5 0 1 0 -25 0M274.9 1524.7a12.5 12.5 0 1 0 25 0a12.5 12.5 0 1 0 -25 0M284 1529.7a12.5 12.5 0 1 0 25 0a12.5 12.5 0 1 0 -25 0M306.5 1523a12.5 12.5 0 1 0 25 0a12.5 12.5 0 1 0 -25 0M362.2 1526.4a12.5 12.5 0 1 0 25 0a12.5 12.5 0 1 0 -25 0M430.4 1465.7a12.5 12.5 0 1 0 25 0a12.5 12.5 0 1 0 -25 0M473.7 1509.8a12.5 12.5 0 1 0 25 0a12.5 12.5 0 1 0 -25 0M255.8 1647.8a12.5 12.5 0 1 0 25 0a12.5 12.5 0 1 0 -25 0M263.2 1674.5a12.5 12.5 0 1 0 25 0a12.5 12.5 0 1 0 -25 0M235.8 1597.9a12.5 12.5 0 1 0 25 0a12.5 12.5 0 1 0 -25 0M425.5 1599.6a12.5 12.5 0 1 0 25 0a12.5 12.5 0 1 0 -25 0M315.7 1612.9a12.5 12.5 0 1 0 25 0a12.5 12.5 0 1 0 -25 0M269.1 1609.6a12.5 12.5 0 1 0 25 0a12.5 12.5 0 1 0 -25 0M479.5 1418a12.5 12.5 0 1 0 25 0a12.5 12.5 0 1 0 -25 0M507.1 1415a12.5 12.5 0 1 0 25 0a12.5 12.5 0 1 0 -25 0M487.5 1436a12.5 12.5 0 1 0 25 0a12.5 12.5 0 1 0 -25 0M489.5 1447a12.5 12.5 0 1 0 25 0a12.5 12.5 0 1 0 -25 0M495.4 1680.7a12.5 12.5 0 1 0 25 0a12.5 12.5 0 1 0 -25 0M474.8 1509a12.5 12.5 0 1 0 25 0a12.5 12.5 0 1 0 -25 0M495.4 1520.7a12.5 12.5 0 1 0 25 0a12.5 12.5 0 1 0 -25 0M521.8 1538.3a12.5 12.5 0 1 0 25 0a12.5 12.5 0 1 0 -25 0M496.9 1633.7a12.5 12.5 0 1 0 25 0a12.5 12.5 0 1 0 -25 0M511.5 1635.2a12.5 12.5 0 1 0 25 0a12.5 12.5 0 1 0 -25 0M542.4 1523.6a12.5 12.5 0 1 0 25 0a12.5 12.5 0 1 0 -25 0M577.6 1520.7a12.5 12.5 0 1 0 25 0a12.5 12.5 0 1 0 -25 0M605.5 1520.7a12.5 12.5 0 1 0 25 0a12.5 12.5 0 1 0 -25 0M555.5 1608.7a12.5 12.5 0 1 0 25 0a12.5 12.5 0 1 0 -25 0M573.2 1594a12.5 12.5 0 1 0 25 0a12.5 12.5 0 1 0 -25 0M668.6 1602.9a12.5 12.5 0 1 0 25 0a12.5 12.5 0 1 0 -25 0M696.5 1597a12.5 12.5 0 1 0 25 0a12.5 12.5 0 1 0 -25 0M720 1611.7a12.5 12.5 0 1 0 25 0a12.5 12.5 0 1 0 -25 0M725.9 1532.4a12.5 12.5 0 1 0 25 0a12.5 12.5 0 1 0 -25 0M674.5 1500a12.5 12.5 0 1 0 25 0a12.5 12.5 0 1 0 -25 0M699.5 1495.7a12.5 12.5 0 1 0 25 0a12.5 12.5 0 1 0 -25 0M739.5 1467a12.5 12.5 0 1 0 25 0a12.5 12.5 0 1 0 -25 0M755.5 1473a12.5 12.5 0 1 0 25 0a12.5 12.5 0 1 0 -25 0M897.6 1350.4a12.5 12.5 0 1 0 25 0a12.5 12.5 0 1 0 -25 0M820 1557a12.5 12.5 0 1 0 25 0a12.5 12.5 0 1 0 -25 0M821.7 1680.2a12.5 12.5 0 1 0 25 0a12.5 12.5 0 1 0 -25 0M829.6 1698.7a12.5 12.5 0 1 0 25 0a12.5 12.5 0 1 0 -25 0M826.3 1720.5a12.5 12.5 0 1 0 25 0a12.5 12.5 0 1 0 -25 0M885.1 1783.3a12.5 12.5 0 1 0 25 0a12.5 12.5 0 1 0 -25 0M933.3 1799.1a12.5 12.5 0 1 0 25 0a12.5 12.5 0 1 0 -25 0M916.8 1685.5a12.5 12.5 0 1 0 25 0a12.5 12.5 0 1 0 -25 0M913.5 1705.3a12.5 12.5 0 1 0 25 0a12.5 12.5 0 1 0 -25 0M919.4 1634a12.5 12.5 0 1 0 25 0a12.5 12.5 0 1 0 -25 0M890.4 1640.6a12.5 12.5 0 1 0 25 0a12.5 12.5 0 1 0 -25 0M944.5 1655.1a12.5 12.5 0 1 0 25 0a12.5 12.5 0 1 0 -25 0M937.9 1681.5a12.5 12.5 0 1 0 25 0a12.5 12.5 0 1 0 -25 0M960.4 1688.1a12.5 12.5 0 1 0 25 0a12.5 12.5 0 1 0 -25 0M969.6 1644.5a12.5 12.5 0 1 0 25 0a12.5 12.5 0 1 0 -25 0M982.8 1719.8a12.5 12.5 0 1 0 25 0a12.5 12.5 0 1 0 -25 0M834.9 1644.5a12.5 12.5 0 1 0 25 0a12.5 12.5 0 1 0 -25 0M804.5 1655.1a12.5 12.5 0 1 0 25 0a12.5 12.5 0 1 0 -25 0M778.1 1631.3a12.5 12.5 0 1 0 25 0a12.5 12.5 0 1 0 -25 0M767.5 1652.5a12.5 12.5 0 1 0 25 0a12.5 12.5 0 1 0 -25 0M967 1573.2a12.5 12.5 0 1 0 25 0a12.5 12.5 0 1 0 -25 0M965.6 1623.4a12.5 12.5 0 1 0 25 0a12.5 12.5 0 1 0 -25 0M986.8 1623.4a12.5 12.5 0 1 0 25 0a12.5 12.5 0 1 0 -25 0M893 1591.7a12.5 12.5 0 1 0 25 0a12.5 12.5 0 1 0 -25 0M899.6 1577.2a12.5 12.5 0 1 0 25 0a12.5 12.5 0 1 0 -25 0M870.5 1632.7a12.5 12.5 0 1 0 25 0a12.5 12.5 0 1 0 -25 0M849.2 1553a12.5 12.5 0 1 0 25 0a12.5 12.5 0 1 0 -25 0M896.2 1576.4a12.5 12.5 0 1 0 25 0a12.5 12.5 0 1 0 -25 0M902 1602.9a12.5 12.5 0 1 0 25 0a12.5 12.5 0 1 0 -25 0M808.1 1611.7a12.5 12.5 0 1 0 25 0a12.5 12.5 0 1 0 -25 0M837.5 1608.7a12.5 12.5 0 1 0 25 0a12.5 12.5 0 1 0 -25 0M863.9 1632.2a12.5 12.5 0 1 0 25 0a12.5 12.5 0 1 0 -25 0M916.7 1632.2a12.5 12.5 0 1 0 25 0a12.5 12.5 0 1 0 -25 0M758.2 1652.8a12.5 12.5 0 1 0 25 0a12.5 12.5 0 1 0 -25 0M740.5 1635.2a12.5 12.5 0 1 0 25 0a12.5 12.5 0 1 0 -25 0M778.7 1629.3a12.5 12.5 0 1 0 25 0a12.5 12.5 0 1 0 -25 0M994.1 1410a12.5 12.5 0 1 0 25 0a12.5 12.5 0 1 0 -25 0M1020.7 1470.7a12.5 12.5 0 1 0 25 0a12.5 12.5 0 1 0 -25 0M1032.3 1499.8a12.5 12.5 0 1 0 25 0a12.5 12.5 0 1 0 -25 0M1024.9 1524.7a12.5 12.5 0 1 0 25 0a12.5 12.5 0 1 0 -25 0M961.6 1476.5a12.5 12.5 0 1 0 25 0a12.5 12.5 0 1 0 -25 0M976.6 1489.8a12.5 12.5 0 1 0 25 0a12.5 12.5 0 1 0 -25 0M975.8 1499.8a12.5 12.5 0 1 0 25 0a12.5 12.5 0 1 0 -25 0M961.6 1543a12.5 12.5 0 1 0 25 0a12.5 12.5 0 1 0 -25 0M965.8 1571.3a12.5 12.5 0 1 0 25 0a12.5 12.5 0 1 0 -25 0M1088.1 1514.8a12.5 12.5 0 1 0 25 0a12.5 12.5 0 1 0 -25 0M1112.2 1518.1a12.5 12.5 0 1 0 25 0a12.5 12.5 0 1 0 -25 0M1130.5 1534.7a12.5 12.5 0 1 0 25 0a12.5 12.5 0 1 0 -25 0M1062.3 1546.4a12.5 12.5 0 1 0 25 0a12.5 12.5 0 1 0 -25 0M1078.9 1544.7a12.5 12.5 0 1 0 25 0a12.5 12.5 0 1 0 -25 0M1182.9 1386.7a12.5 12.5 0 1 0 25 0a12.5 12.5 0 1 0 -25 0M1175.4 1409.1a12.5 12.5 0 1 0 25 0a12.5 12.5 0 1 0 -25 0M1167.9 1439.9a12.5 12.5 0 1 0 25 0a12.5 12.5 0 1 0 -25 0M1156.3 1472.3a12.5 12.5 0 1 0 25 0a12.5 12.5 0 1 0 -25 0M1197 1478.2a12.5 12.5 0 1 0 25 0a12.5 12.5 0 1 0 -25 0M1202 1489.8a12.5 12.5 0 1 0 25 0a12.5 12.5 0 1 0 -25 0M1190.4 1536.4a12.5 12.5 0 1 0 25 0a12.5 12.5 0 1 0 -25 0M1165.4 1581.3a12.5 12.5 0 1 0 25 0a12.5 12.5 0 1 0 -25 0M1147.1 1614.6a12.5 12.5 0 1 0 25 0a12.5 12.5 0 1 0 -25 0M1122.2 1602.9a12.5 12.5 0 1 0 25 0a12.5 12.5 0 1 0 -25 0M1098.9 1596.3a12.5 12.5 0 1 0 25 0a12.5 12.5 0 1 0 -25 0M1080.6 1611.2a12.5 12.5 0 1 0 25 0a12.5 12.5 0 1 0 -25 0M1062.3 1626.2a12.5 12.5 0 1 0 25 0a12.5 12.5 0 1 0 -25 0M1044 1649.5a12.5 12.5 0 1 0 25 0a12.5 12.5 0 1 0 -25 0M1057.3 1647.8a12.5 12.5 0 1 0 25 0a12.5 12.5 0 1 0 -25 0M1037.3 1626.2a12.5 12.5 0 1 0 25 0a12.5 12.5 0 1 0 -25 0M1195.4 1612.9a12.5 12.5 0 1 0 25 0a12.5 12.5 0 1 0 -25 0M1195.4 1651.2a12.5 12.5 0 1 0 25 0a12.5 12.5 0 1 0 -25 0M1183.7 1666.1a12.5 12.5 0 1 0 25 0a12.5 12.5 0 1 0 -25 0M1202 1677.8a12.5 12.5 0 1 0 25 0a12.5 12.5 0 1 0 -25 0M1007.4 1674.5a12.5 12.5 0 1 0 25 0a12.5 12.5 0 1 0 -25 0M1070.6 1697.7a12.5 12.5 0 1 0 25 0a12.5 12.5 0 1 0 -25 0M985.8 1622.9a12.5 12.5 0 1 0 25 0a12.5 12.5 0 1 0 -25 0M969.1 1624.6a12.5 12.5 0 1 0 25 0a12.5 12.5 0 1 0 -25 0M970 1644.5a12.5 12.5 0 1 0 25 0a12.5 12.5 0 1 0 -25 0M959.1 1687.8a12.5 12.5 0 1 0 25 0a12.5 12.5 0 1 0 -25 0M984.1 1712.7a12.5 12.5 0 1 0 25 0a12.5 12.5 0 1 0 -25 0M1007.7 1681.5a12.5 12.5 0 1 0 25 0a12.5 12.5 0 1 0 -25 0M983.6 1719.1a12.5 12.5 0 1 0 25 0a12.5 12.5 0 1 0 -25 0M1010.7 1728.1a12.5 12.5 0 1 0 25 0a12.5 12.5 0 1 0 -25 0M1012.2 1746.2a12.5 12.5 0 1 0 25 0a12.5 12.5 0 1 0 -25 0M1003.2 1755.2a12.5 12.5 0 1 0 25 0a12.5 12.5 0 1 0 -25 0M998.6 1762.7a12.5 12.5 0 1 0 25 0a12.5 12.5 0 1 0 -25 0M1013.7 1792.8a12.5 12.5 0 1 0 25 0a12.5 12.5 0 1 0 -25 0M1261.9 1756.7a12.5 12.5 0 1 0 25 0a12.5 12.5 0 1 0 -25 0M1255.9 1783.8a12.5 12.5 0 1 0 25 0a12.5 12.5 0 1 0 -25 0M1203.2 1684.5a12.5 12.5 0 1 0 25 0a12.5 12.5 0 1 0 -25 0M1207.5 1489.8a12.5 12.5 0 1 0 25 0a12.5 12.5 0 1 0 -25 0M1230.8 1627.9a12.5 12.5 0 1 0 25 0a12.5 12.5 0 1 0 -25 0M1253.2 1661.2a12.5 12.5 0 1 0 25 0a12.5 12.5 0 1 0 -25 0M1263.2 1479a12.5 12.5 0 1 0 25 0a12.5 12.5 0 1 0 -25 0M1268.2 1498.1a12.5 12.5 0 1 0 25 0a12.5 12.5 0 1 0 -25 0M1266.6 1514.8a12.5 12.5 0 1 0 25 0a12.5 12.5 0 1 0 -25 0M1418.8 1481.5a12.5 12.5 0 1 0 25 0a12.5 12.5 0 1 0 -25 0M1452.1 1469.8a12.5 12.5 0 1 0 25 0a12.5 12.5 0 1 0 -25 0M1454.5 1494.8a12.5 12.5 0 1 0 25 0a12.5 12.5 0 1 0 -25 0M1473.7 1511.4a12.5 12.5 0 1 0 25 0a12.5 12.5 0 1 0 -25 0M1450.4 1523.1a12.5 12.5 0 1 0 25 0a12.5 12.5 0 1 0 -25 0M1422.1 1506.4a12.5 12.5 0 1 0 25 0a12.5 12.5 0 1 0 -25 0M1357.2 1619.6a12.5 12.5 0 1 0 25 0a12.5 12.5 0 1 0 -25 0M1345.6 1668.6a12.5 12.5 0 1 0 25 0a12.5 12.5 0 1 0 -25 0M1322.3 1632.9a12.5 12.5 0 1 0 25 0a12.5 12.5 0 1 0 -25 0M1398.8 1611.2a12.5 12.5 0 1 0 25 0a12.5 12.5 0 1 0 -25 0M1470.3 1639.5a12.5 12.5 0 1 0 25 0a12.5 12.5 0 1 0 -25 0M1470.3 1669.5a12.5 12.5 0 1 0 25 0a12.5 12.5 0 1 0 -25 0M1425.4 1594.6a12.5 12.5 0 1 0 25 0a12.5 12.5 0 1 0 -25 0M1297.3 1619.6a12.5 12.5 0 1 0 25 0a12.5 12.5 0 1 0 -25 0M1274 1596.3a12.5 12.5 0 1 0 25 0a12.5 12.5 0 1 0 -25 0M1352.2 1533a12.5 12.5 0 1 0 25 0a12.5 12.5 0 1 0 -25 0M1377.2 1538a12.5 12.5 0 1 0 25 0a12.5 12.5 0 1 0 -25 0M1337.3 1531.4a12.5 12.5 0 1 0 25 0a12.5 12.5 0 1 0 -25 0M1314 1546.4a12.5 12.5 0 1 0 25 0a12.5 12.5 0 1 0 -25 0M1510.8 1417.8a12.5 12.5 0 1 0 25 0a12.5 12.5 0 1 0 -25 0M1519.9 1471.2a12.5 12.5 0 1 0 25 0a12.5 12.5 0 1 0 -25 0M1507.2 1478.4a12.5 12.5 0 1 0 25 0a12.5 12.5 0 1 0 -25 0M1558.8 1477.5a12.5 12.5 0 1 0 25 0a12.5 12.5 0 1 0 -25 0M1477.4 1512.8a12.5 12.5 0 1 0 25 0a12.5 12.5 0 1 0 -25 0M1516.3 1511a12.5 12.5 0 1 0 25 0a12.5 12.5 0 1 0 -25 0M1482.8 1547.2a12.5 12.5 0 1 0 25 0a12.5 12.5 0 1 0 -25 0M1570.6 1514.6a12.5 12.5 0 1 0 25 0a12.5 12.5 0 1 0 -25 0M1545.2 1545.3a12.5 12.5 0 1 0 25 0a12.5 12.5 0 1 0 -25 0M1671.9 1509.2a12.5 12.5 0 1 0 25 0a12.5 12.5 0 1 0 -25 0M1652 1518.2a12.5 12.5 0 1 0 25 0a12.5 12.5 0 1 0 -25 0M1680.9 1530.9a12.5 12.5 0 1 0 25 0a12.5 12.5 0 1 0 -25 0M1501.8 1572.5a12.5 12.5 0 1 0 25 0a12.5 12.5 0 1 0 -25 0M1471 1637.6a12.5 12.5 0 1 0 25 0a12.5 12.5 0 1 0 -25 0M1498.2 1653.9a12.5 12.5 0 1 0 25 0a12.5 12.5 0 1 0 -25 0M1472.8 1668.4a12.5 12.5 0 1 0 25 0a12.5 12.5 0 1 0 -25 0M1490 1681.1a12.5 12.5 0 1 0 25 0a12.5 12.5 0 1 0 -25 0M1532.6 1682.9a12.5 12.5 0 1 0 25 0a12.5 12.5 0 1 0 -25 0M1556.1 1679.3a12.5 12.5 0 1 0 25 0a12.5 12.5 0 1 0 -25 0M1695.4 1684.7a12.5 12.5 0 1 0 25 0a12.5 12.5 0 1 0 -25 0M1697.2 1634a12.5 12.5 0 1 0 25 0a12.5 12.5 0 1 0 -25 0M1637.5 1596a12.5 12.5 0 1 0 25 0a12.5 12.5 0 1 0 -25 0M1653.8 1606.9a12.5 12.5 0 1 0 25 0a12.5 12.5 0 1 0 -25 0M1500.1 1748a12.5 12.5 0 1 0 25 0a12.5 12.5 0 1 0 -25 0M1487.4 1781.8a12.5 12.5 0 1 0 25 0a12.5 12.5 0 1 0 -25 0M1489.6 1682.6a12.5 12.5 0 1 0 25 0a12.5 12.5 0 1 0 -25 0" fill="none" stroke="#000" stroke-width="5" shape-rendering="crispEdges"/>
<path d="M236.4 1564.9h25M248.9 1552.4v25M238.6 1583.2h25M251.1 1570.7v25M241.3 1553.7h25M253.8 1541.2v25M244.1 1564.7h25M256.6 1552.2v25M246.8 1594.8h25M259.3 1582.3v25M249.6 1560.5h25M262.1 1548v25M251.9 1579.2h25M264.4 1566.7v25M254.4 1556.2h25M266.9 1543.7v25M257.2 1568.1h25M269.7 1555.6v25M259.7 1576.6h25M272.2 1564.1v25M261.8 1588.7h25M274.3 1576.2v25M264.9 1592.4h25M277.4 1579.9v25M266.6 1595.3h25M279.1 1582.8v25M269.5 1562.8h25M282 1550.3v25M272.1 1581.7h25M284.6 1569.2v25M274.7 1569.8h25M287.2 1557.3v25M277.3 1578.3h25M289.8 1565.8v25M280.2 1593h25M292.7 1580.5v25M282.6 1580.8h25M295.1 1568.3v25M284.8 1592.6h25M297.3 1580.1v25M287.6 1581h25M300.1 1568.5v25M289.4 1575.1h25M301.9 1562.6v25M292 1586.9h25M304.5 1574.4v25M294.6 1584.6h25M307.1 1572.1v25M297.8 1563.3h25M310.3 1550.8v25M299.5 1552.9h25M312 1540.4v25M302.9 1581.2h25M315.4 1568.7v25M305.6 1592.2h25M318.1 1579.7v25M307.7 1564h25M320.2 1551.5v25M310.1 1552.3h25M322.6 1539.8v25M312.2 1576.6h25M324.7 1564.1v25M315.7 1587.1h25M328.2 1574.6v25M317.7 1587.9h25M330.2 1575.4v25M320.4 1572.6h25M332.9 1560.1v25M323.3 1574.1h25M335.8 1561.6v25M325.6 1572h25M338.1 1559.5v25M328.4 1562h25M340.9 1549.5v25M330 1572.4h25M342.5 1559.9v25M332.5 1568.6h25M345 1556.1v25M335.1 1575.5h25M347.6 1563v25M338.3 1575.8h25M350.8 1563.3v25M340.9 1566.6h25M353.4 1554.1v25M343.4 1556h25M355.9 1543.5v25M345.7 1585.9h25M358.2 1573.4v25M348.1 1574.1h25M360.6 1561.6v25M350.9 1565.7h25M363.4 1553.2v25M353.6 1565.4h25M366.1 1552.9v25M356.1 1557.8h25M368.6 1545.3v25M358.7 1565.9h25M371.2 1553.4v25M360.9 1564.1h25M373.4 1551.6v25M363.3 1576h25M375.8 1563.5v25M366 1566.2h25M378.5 1553.7v25M368.4 1579.2h25M380.9 1566.7v25M371.1 1573.5h25M383.6 1561v25M373.7 1562.3h25M386.2 1549.8v25M376.5 1561h25M389 1548.5v25M379 1560.5h25M391.5 1548v25M381.1 1571.7h25M393.6 1559.2v25M384.1 1558.4h25M396.6 1545.9v25M386.3 1561.6h25M398.8 1549.1v25M389.3 1564.9h25M401.8 1552.4v25M391.9 1558h25M404.4 1545.5v25M393.9 1575.5h25M406.4 1563v25M396.2 1576.7h25M408.7 1564.2v25M399.2 1571.3h25M411.7 1558.8v25M401.4 1565.4h25M413.9 1552.9v25M404.2 1557.9h25M416.7 1545.4v25M406.2 1559h25M418.7 1546.5v25M409.6 1573.5h25M422.1 1561v25M411.8 1573h25M424.3 1560.5v25M414 1546.6h25M426.5 1534.1v25M416.9 1553.5h25M429.4 1541v25M419.5 1555.8h25M432 1543.3v25M422.3 1551.9h25M434.8 1539.4v25M424.3 1555.5h25M436.8 1543v25M427.3 1543.2h25M439.8 1530.7v25M430 1539.2h25M442.5 1526.7v25M431.6 1565.1h25M444.1 1552.6v25M434.2 1555.2h25M446.7 1542.7v25M437.2 1534.5h25M449.7 1522v25M440 1540.1h25M452.5 1527.6v25M441.9 1512.5h25M454.4 1500v25M445.3 1522.2h25M457.8 1509.7v25M447.3 1569.1h25M459.8 1556.6v25M449.7 1539.8h25M462.2 1527.3v25M452.3 1562.7h25M464.8 1550.2v25M454.6 1538.4h25M467.1 1525.9v25M457.4 1563.3h25M469.9 1550.8v25M459.9 1536.3h25M472.4 1523.8v25M462.4 1569h25M474.9 1556.5v25M465 1582h25M477.5 1569.5v25M467.8 1558.1h25M480.3 1545.6v25M470.1 1562.3h25M482.6 1549.8v25M472.9 1553.5h25M485.4 1541v25M475.2 1544.8h25M487.7 1532.3v25M477.7 1593.3h25M490.2 1580.8v25M480.1 1596.3h25M492.6 1583.8v25M483.2 1572.6h25M495.7 1560.1v25M485.7 1586.2h25M498.2 1573.7v25M488 1588.1h25M500.5 1575.6v25M490 1553.7h25M502.5 1541.2v25M492.6 1555.8h25M505.1 1543.3v25M496 1552.2h25M508.5 1539.7v25M498.5 1557.4h25M511 1544.9v25M500.8 1553.3h25M513.3 1540.8v25M503.3 1600.3h25M515.8 1587.8v25M506 1598.1h25M518.5 1585.6v25M507.9 1578.8h25M520.4 1566.3v25M510.4 1595.3h25M522.9 1582.8v25M513.7 1565.6h25M526.2 1553.1v25M515.6 1559.8h25M528.1 1547.3v25M518.3 1583.8h25M530.8 1571.3v25M520.8 1567.3h25M533.3 1554.8v25M523.5 1570h25M536 1557.5v25M526.3 1601.3h25M538.8 1588.8v25M528.9 1554.7h25M541.4 1542.2v25M531.1 1581.8h25M543.6 1569.3v25M533.3 1579.1h25M545.8 1566.6v25M536.6 1551.8h25M549.1 1539.3v25M539 1571.3h25M551.5 1558.8v25M541 1556.2h25M553.5 1543.7v25M543.6 1573.7h25M556.1 1561.2v25M546.2 1578.3h25M558.7 1565.8v25M549.3 1578.8h25M561.8 1566.3v25M551.2 1573.6h25M563.7 1561.1v25M553.9 1549.9h25M566.4 1537.4v25M556.4 1556.3h25M568.9 1543.8v25M559.6 1581.4h25M572.1 1568.9v25M561.6 1569.2h25M574.1 1556.7v25M564.2 1583.6h25M576.7 1571.1v25M567.1 1569.2h25M579.6 1556.7v25M569.7 1566h25M582.2 1553.5v25M571.5 1567.7h25M584 1555.2v25M574.8 1576.2h25M587.3 1563.7v25M576.5 1579.9h25M589 1567.4v25M579.6 1557h25M592.1 1544.5v25M581.7 1577.2h25M594.2 1564.7v25M584.4 1575.9h25M596.9 1563.4v25M586.6 1570h25M599.1 1557.5v25M589.4 1572h25M601.9 1559.5v25M591.6 1562.7h25M604.1 1550.2v25M594.6 1554.2h25M607.1 1541.7v25M597.6 1549.6h25M610.1 1537.1v25M599.3 1553.9h25M611.8 1541.4v25M601.9 1550.8h25M614.4 1538.3v25M604.4 1567.5h25M616.9 1555v25M607.6 1568.9h25M620.1 1556.4v25M610.1 1563.8h25M622.6 1551.3v25M612.2 1561h25M624.7 1548.5v25M615.1 1563.6h25M627.6 1551.1v25M617.5 1557.9h25M630 1545.4v25M620.2 1553.3h25M632.7 1540.8v25M622.7 1558.6h25M635.2 1546.1v25M625.5 1560.2h25M638 1547.7v25M628.1 1560.8h25M640.6 1548.3v25M630.4 1548h25M642.9 1535.5v25M632.9 1560.2h25M645.4 1547.7v25M635 1556.5h25M647.5 1544v25M638.1 1544.8h25M650.6 1532.3v25M640.2 1559.6h25M652.7 1547.1v25M643.3 1550.5h25M655.8 1538v25M645.2 1542.4h25M657.7 1529.9v25M647.8 1569h25M660.3 1556.5v25M650.8 1555.5h25M663.3 1543v25M652.7 1553.5h25M665.2 1541v25M655.2 1550.1h25M667.7 1537.6v25M657.8 1572.2h25M670.3 1559.7v25M660.9 1546.2h25M673.4 1533.7v25M663.3 1574.1h25M675.8 1561.6v25M665.5 1544.1h25M678 1531.6v25M668 1561.3h25M680.5 1548.8v25M670.4 1548.6h25M682.9 1536.1v25M673.8 1574h25M686.3 1561.5v25M676 1554.6h25M688.5 1542.1v25M678.6 1566.2h25M691.1 1553.7v25M681 1550.6h25M693.5 1538.1v25M683 1564.8h25M695.5 1552.3v25M686.1 1572.9h25M698.6 1560.4v25M688.3 1561.8h25M700.8 1549.3v25M691.2 1563.5h25M703.7 1551v25M693.8 1570.5h25M706.3 1558v25M695.9 1586.9h25M708.4 1574.4v25M698.3 1580.4h25M710.8 1567.9v25M700.9 1561h25M713.4 1548.5v25M703.7 1571.1h25M716.2 1558.6v25M706 1588.4h25M718.5 1575.9v25M709.4 1589.3h25M721.9 1576.8v25M711.3 1583.9h25M723.8 1571.4v25M714.4 1589.6h25M726.9 1577.1v25M716.5 1573.3h25M729 1560.8v25M718.7 1559h25M731.2 1546.5v25M721.6 1563.8h25M734.1 1551.3v25M724.1 1588.2h25M736.6 1575.7v25M726.7 1586.1h25M739.2 1573.6v25M728.9 1591.7h25M741.4 1579.2v25M731.7 1599.2h25M744.2 1586.7v25M734.4 1573.1h25M746.9 1560.6v25M736.6 1565.9h25M749.1 1553.4v25M739.4 1594.5h25M751.9 1582v25M741.6 1564.8h25M754.1 1552.3v25M744 1575.7h25M756.5 1563.2v25M747 1560.7h25M759.5 1548.2v25M749.5 1558.2h25M762 1545.7v25M751.7 1576.4h25M764.2 1563.9v25M754.2 1576.2h25M766.7 1563.7v25M756.8 1605.5h25M769.3 1593v25M759.9 1580.1h25M772.4 1567.6v25M761.8 1573.5h25M774.3 1561v25M765.1 1593.4h25M777.6 1580.9v25M767.2 1579.9h25M779.7 1567.4v25M770.2 1568.7h25M782.7 1556.2v25M772 1588.5h25M784.5 1576v25M775.1 1591.4h25M787.6 1578.9v25M777.1 1556.2h25M789.6 1543.7v25M779.6 1565.9h25M792.1 1553.4v25M782.3 1592.5h25M794.8 1580v25M785.4 1610.7h25M797.9 1598.2v25M790.3 1562.8h25M802.8 1550.3v25M792.6 1613.3h25M805.1 1600.8v25M795.2 1609.3h25M807.7 1596.8v25M798.3 1582.3h25M810.8 1569.8v25M807.7 1588.4h25M820.2 1575.9v25M810.3 1613.2h25M822.8 1600.7v25M828.7 1580.7h25M841.2 1568.2v25M843.6 1628.7h25M856.1 1616.2v25M846.2 1579.5h25M858.7 1567v25M848.3 1586.6h25M860.8 1574.1v25M854.2 1573h25M866.7 1560.5v25M863.6 1601.9h25M876.1 1589.4v25M869.4 1579.7h25M881.9 1567.2v25M887.1 1597.7h25M899.6 1585.2v25M1016 1614.1h25M1028.5 1601.6v25M1019 1611.2h25M1031.5 1598.7v25M1021.3 1589.4h25M1033.8 1576.9v25M1024.1 1587.8h25M1036.6 1575.3v25M1026.5 1602.8h25M1039 1590.3v25M1029.5 1591.8h25M1042 1579.3v25M1031.1 1596.4h25M1043.6 1583.9v25M1034.5 1589.6h25M1047 1577.1v25M1037.1 1613.6h25M1049.6 1601.1v25M1039.2 1606.8h25M1051.7 1594.3v25M1042.1 1595.8h25M1054.6 1583.3v25M1044.5 1621.7h25M1057 1609.2v25M1047.2 1592.5h25M1059.7 1580v25M1049 1585.2h25M1061.5 1572.7v25M1051.6 1573.5h25M1064.1 1561v25M1053.9 1594.6h25M1066.4 1582.1v25M1056.9 1605.5h25M1069.4 1593v25M1059.7 1582.1h25M1072.2 1569.6v25M1061.8 1577h25M1074.3 1564.5v25M1064.2 1581.9h25M1076.7 1569.4v25M1067.6 1599.7h25M1080.1 1587.2v25M1069.5 1610.2h25M1082 1597.7v25M1072.1 1562h25M1084.6 1549.5v25M1074.6 1580.9h25M1087.1 1568.4v25M1077.2 1598h25M1089.7 1585.5v25M1079.6 1598.3h25M1092.1 1585.8v25M1081.8 1558.6h25M1094.3 1546.1v25M1084.9 1550h25M1097.4 1537.5v25M1087.1 1550h25M1099.6 1537.5v25M1090.4 1585h25M1102.9 1572.5v25M1092 1584.6h25M1104.5 1572.1v25M1095 1547.3h25M1107.5 1534.8v25M1097.6 1555.3h25M1110.1 1542.8v25M1099.8 1539.3h25M1112.3 1526.8v25M1102.4 1580.6h25M1114.9 1568.1v25M1105.3 1533.8h25M1117.8 1521.3v25M1108 1570.4h25M1120.5 1557.9v25M1110.5 1543.5h25M1123 1531v25M1113.1 1574.7h25M1125.6 1562.2v25M1115 1559.2h25M1127.5 1546.7v25M1118.3 1525.9h25M1130.8 1513.4v25M1120.6 1577.9h25M1133.1 1565.4v25M1123.1 1578h25M1135.6 1565.5v25M1125.2 1546.5h25M1137.7 1534v25M1128.5 1531.9h25M1141 1519.4v25M1130.4 1552.1h25M1142.9 1539.6v25M1133.1 1545.6h25M1145.6 1533.1v25M1135.5 1573.6h25M1148 1561.1v25M1138.6 1547.3h25M1151.1 1534.8v25M1140.9 1563.6h25M1153.4 1551.1v25M1143.3 1517.3h25M1155.8 1504.8v25M1146 1542h25M1158.5 1529.5v25M1148.5 1564.7h25M1161 1552.2v25M1151.3 1533.5h25M1163.8 1521v25M1153.1 1565h25M1165.6 1552.5v25M1155.9 1561.6h25M1168.4 1549.1v25M1158.3 1555.4h25M1170.8 1542.9v25M1160.9 1560.8h25M1173.4 1548.3v25M1163.2 1529.8h25M1175.7 1517.3v25M1165.7 1521.3h25M1178.2 1508.8v25M1168.3 1519.3h25M1180.8 1506.8v25M1171.6 1533.9h25M1184.1 1521.4v25M1173.3 1539h25M1185.8 1526.5v25M1175.9 1521.5h25M1188.4 1509v25M1178.6 1521.4h25M1191.1 1508.9v25M1181.1 1536.1h25M1193.6 1523.6v25M1184.3 1557.4h25M1196.8 1544.9v25M1186.6 1518.6h25M1199.1 1506.1v25M1188.6 1542.9h25M1201.1 1530.4v25M1191.2 1549.2h25M1203.7 1536.7v25M1193.6 1553.1h25M1206.1 1540.6v25M1196.5 1560.5h25M1209 1548v25M1199.6 1520.6h25M1212.1 1508.1v25M1254.7 1551.9h25M1267.2 1539.4v25M1258 1547.8h25M1270.5 1535.3v25M1260.6 1547.6h25M1273.1 1535.1v25M1262.4 1583.4h25M1274.9 1570.9v25M1265.2 1561.1h25M1277.7 1548.6v25M1267.3 1576.1h25M1279.8 1563.6v25M1270.6 1564.1h25M1283.1 1551.6v25M1272.9 1574.5h25M1285.4 1562v25M1275.7 1571.3h25M1288.2 1558.8v25M1278.3 1563.3h25M1290.8 1550.8v25M1280.9 1590.2h25M1293.4 1577.7v25M1282.7 1591h25M1295.2 1578.5v25M1286 1569.1h25M1298.5 1556.6v25M1287.7 1578.2h25M1300.2 1565.7v25M1290.9 1566.5h25M1303.4 1554v25M1293.2 1600.4h25M1305.7 1587.9v25M1295.7 1594.2h25M1308.2 1581.7v25M1298.3 1585.7h25M1310.8 1573.2v25M1300.6 1583.9h25M1313.1 1571.4v25M1303.4 1584.3h25M1315.9 1571.8v25M1306.2 1600.5h25M1318.7 1588v25M1308.9 1594.4h25M1321.4 1581.9v25M1310.9 1577.1h25M1323.4 1564.6v25M1313.6 1587.3h25M1326.1 1574.8v25M1316 1573.6h25M1328.5 1561.1v25M1318.9 1576.6h25M1331.4 1564.1v25M1321 1587.3h25M1333.5 1574.8v25M1323.5 1576h25M1336 1563.5v25M1325.7 1579.5h25M1338.2 1567v25M1329.2 1578.4h25M1341.7 1565.9v25M1331.3 1566.5h25M1343.8 1554v25M1334.1 1578.7h25M1346.6 1566.2v25M1336.1 1574.4h25M1348.6 1561.9v25M1338.7 1569.3h25M1351.2 1556.8v25M1341.5 1572.6h25M1354 1560.1v25M1343.8 1560.3h25M1356.3 1547.8v25M1346.1 1571.3h25M1358.6 1558.8v25M1348.5 1564.1h25M1361 1551.6v25M1351.6 1569.1h25M1364.1 1556.6v25M1354.4 1573.7h25M1366.9 1561.2v25M1356.8 1577.7h25M1369.3 1565.2v25M1359.1 1558.5h25M1371.6 1546v25M1361.5 1566.8h25M1374 1554.3v25M1364.4 1559.8h25M1376.9 1547.3v25M1366.7 1557.1h25M1379.2 1544.6v25M1369 1555.2h25M1381.5 1542.7v25M1371.9 1561.7h25M1384.4 1549.2v25M1374.6 1565.7h25M1387.1 1553.2v25M1377.4 1565.9h25M1389.9 1553.4v25M1379.4 1572.4h25M1391.9 1559.9v25M1381.6 1574.2h25M1394.1 1561.7v25M1384.5 1555.2h25M1397 1542.7v25M1387 1578.2h25M1399.5 1565.7v25M1390 1566h25M1402.5 1553.5v25M1391.8 1560.3h25M1404.3 1547.8v25M1395.2 1572.1h25M1407.7 1559.6v25M1396.9 1569.1h25M1409.4 1556.6v25M1400.2 1561.3h25M1412.7 1548.8v25M1402.8 1569.8h25M1415.3 1557.3v25M1404.6 1573.3h25M1417.1 1560.8v25M1407.1 1563.4h25M1419.6 1550.9v25M1409.8 1570h25M1422.3 1557.5v25M1412.9 1576.9h25M1425.4 1564.4v25M1414.6 1576.2h25M1427.1 1563.7v25M1417.3 1567.8h25M1429.8 1555.3v25M1420.5 1580.2h25M1433 1567.7v25M1423.1 1582.3h25M1435.6 1569.8v25M1424.9 1567.3h25M1437.4 1554.8v25M1427.6 1557.4h25M1440.1 1544.9v25M1429.9 1580.4h25M1442.4 1567.9v25M1432.5 1567.9h25M1445 1555.4v25M1435.6 1563.9h25M1448.1 1551.4v25M1437.6 1566.6h25M1450.1 1554.1v25M1440.2 1569.9h25M1452.7 1557.4v25M1443.2 1578.3h25M1455.7 1565.8v25M1445.8 1576.2h25M1458.3 1563.7v25M1448.2 1569.5h25M1460.7 1557v25M1450.2 1578.2h25M1462.7 1565.7v25M1453.2 1584.9h25M1465.7 1572.4v25M1456.1 1577.7h25M1468.6 1565.2v25M1458.6 1583.1h25M1471.1 1570.6v25M1461.3 1597.7h25M1473.8 1585.2v25M1463.5 1578.6h25M1476 1566.1v25M1465.9 1574.2h25M1478.4 1561.7v25M1468.8 1565.3h25M1481.3 1552.8v25M1471.3 1584h25M1483.8 1571.5v25M1473.6 1584.4h25M1486.1 1571.9v25M1475.6 1604.8h25M1488.1 1592.3v25M1478.4 1602.5h25M1490.9 1590v25M1481.1 1607.8h25M1493.6 1595.3v25M1483.9 1611.4h25M1496.4 1598.9v25M1486.4 1575.2h25M1498.9 1562.7v25M1488.7 1596.1h25M1501.2 1583.6v25M1491.5 1586.5h25M1504 1574v25M1493.4 1585h25M1505.9 1572.5v25M1496.6 1583.3h25M1509.1 1570.8v25M1498.6 1563.4h25M1511.1 1550.9v25M1501 1575.1h25M1513.5 1562.6v25M1503.7 1556.6h25M1516.2 1544.1v25M1506.1 1579.8h25M1518.6 1567.3v25M1509.4 1581.4h25M1521.9 1568.9v25M1511.1 1580.1h25M1523.6 1567.6v25M1514.6 1566.9h25M1527.1 1554.4v25M1516.6 1557.7h25M1529.1 1545.2v25M1519.7 1575.3h25M1532.2 1562.8v25M1521.8 1561.4h25M1534.3 1548.9v25M1524.8 1562.2h25M1537.3 1549.7v25M1527.2 1595.3h25M1539.7 1582.8v25M1529.6 1556.5h25M1542.1 1544v25M1532.4 1563.6h25M1544.9 1551.1v25M1534.1 1569.3h25M1546.6 1556.8v25M1537 1588.4h25M1549.5 1575.9v25M1539.8 1571.9h25M1552.3 1559.4v25M1542 1579.2h25M1554.5 1566.7v25M1544.6 1596h25M1557.1 1583.5v25M1546.7 1583.8h25M1559.2 1571.3v25M1549.4 1559.5h25M1561.9 1547v25M1552.7 1589.8h25M1565.2 1577.3v25M1554.6 1592.5h25M1567.1 1580v25M1557.5 1549.6h25M1570 1537.1v25M1559.5 1592h25M1572 1579.5v25M1562.4 1592.7h25M1574.9 1580.2v25M1565 1579.1h25M1577.5 1566.6v25M1567.1 1574h25M1579.6 1561.5v25M1570.4 1548.8h25M1582.9 1536.3v25M1572.1 1547.7h25M1584.6 1535.2v25M1575 1573.3h25M1587.5 1560.8v25M1577.4 1579.7h25M1589.9 1567.2v25M1579.9 1567h25M1592.4 1554.5v25M1582.2 1566h25M1594.7 1553.5v25M1585.7 1557.9h25M1598.2 1545.4v25M1587.7 1540.7h25M1600.2 1528.2v25M1590.5 1567.3h25M1603 1554.8v25M1592.8 1547.7h25M1605.3 1535.2v25M1595.1 1565.1h25M1607.6 1552.6v25M1597.8 1549.4h25M1610.3 1536.9v25M1600.6 1554.5h25M1613.1 1542v25M1602.5 1543.2h25M1615 1530.7v25M1605.6 1545.9h25M1618.1 1533.4v25M1608.2 1543.8h25M1620.7 1531.3v25M1610.7 1560.4h25M1623.2 1547.9v25M1612.7 1551.9h25M1625.2 1539.4v25M1615.3 1567.9h25M1627.8 1555.4v25M1618.4 1574.5h25M1630.9 1562v25M1621.3 1555h25M1633.8 1542.5v25M1623.8 1544.2h25M1636.3 1531.7v25M1625.9 1542.9h25M1638.4 1530.4v25M1628.3 1549.3h25M1640.8 1536.8v25M1630.5 1539.9h25M1643 1527.4v25M1633.9 1572.1h25M1646.4 1559.6v25M1635.8 1543.6h25M1648.3 1531.1v25M1638.4 1563.9h25M1650.9 1551.4v25M1640.7 1549.5h25M1653.2 1537v25M1644.1 1589h25M1656.6 1576.5v25M1646.4 1554.4h25M1658.9 1541.9v25M1648.7 1571.4h25M1661.2 1558.9v25M1651.5 1577.3h25M1664 1564.8v25M1653.3 1572.9h25M1665.8 1560.4v25M1656.8 1552.8h25M1669.3 1540.3v25M1659 1571h25M1671.5 1558.5v25M1661.5 1570.9h25M1674 1558.4v25M1664.2 1555.2h25M1676.7 1542.7v25M1666.3 1567.5h25M1678.8 1555v25M1669.3 1573.6h25M1681.8 1561.1v25M1671.3 1602.6h25M1683.8 1590.1v25M1673.9 1575.4h25M1686.4 1562.9v25M1676.4 1588.1h25M1688.9 1575.6v25M1678.9 1571.2h25M1691.4 1558.7v25M1682.1 1587h25M1694.6 1574.5v25M1684.2 1591.2h25M1696.7 1578.7v25M1687.1 1569.4h25M1699.6 1556.9v25M1689.2 1586.8h25M1701.7 1574.3v25M1691.6 1585.4h25M1704.1 1572.9v25M1694.7 1602.1h25M1707.2 1589.6v25M245.8 1438.2h25M258.3 1425.7v25M440.4 1499.8h25M452.9 1487.3v25M430.4 1506.4h25M442.9 1493.9v25M455.4 1511.4h25M467.9 1498.9v25M480.4 1611.2h25M492.9 1598.7v25M248.3 1543h25M260.8 1530.5v25M307.3 1544.7h25M319.8 1532.2v25M270.7 1606.3h25M283.2 1593.8v25M260.8 1609.6h25M273.3 1597.1v25M317.3 1607.9h25M329.8 1595.4v25M368.9 1588h25M381.4 1575.5v25M425.5 1584.6h25M438 1572.1v25M489.5 1400.3h25M502 1387.8v25M480.7 1611.7h25M493.2 1599.2v25M508.6 1614.6h25M521.1 1602.1v25M524.8 1617.5h25M537.3 1605v25M523.3 1630.8h25M535.8 1618.3v25M513 1564.7h25M525.5 1552.2v25M579.1 1529.5h25M591.6 1517v25M608.5 1529.5h25M621 1517v25M617.2 1582.3h25M629.7 1569.8v25M670.1 1597h25M682.6 1584.5v25M690.6 1482.5h25M703.1 1470v25M674.5 1503h25M687 1490.5v25M699.5 1517.7h25M712 1505.2v25M555.5 1597h25M568 1584.5v25M689.1 1481h25M701.6 1468.5v25M899.1 1323.4h25M911.6 1310.9v25M820 1523h25M832.5 1510.5v25M830.2 1702h25M842.7 1689.5v25M826.9 1725.8h25M839.4 1713.3v25M887.5 1722h25M900 1709.5v25M897.5 1730h25M910 1717.5v25M933.9 1767.4h25M946.4 1754.9v25M915.5 1692.1h25M928 1679.6v25M914.1 1711.9h25M926.6 1699.4v25M918.8 1638h25M931.3 1625.5v25M887.7 1663h25M900.2 1650.5v25M900.9 1622.1h25M913.4 1609.6v25M943.9 1618.1h25M956.4 1605.6v25M947.2 1657.8h25M959.7 1645.3v25M936.6 1668.3h25M949.1 1655.8v25M960.4 1671h25M972.9 1658.5v25M969.6 1657.8h25M982.1 1645.3v25M984.1 1663h25M996.6 1650.5v25M961.7 1586.4h25M974.2 1573.9v25M981.5 1597h25M994 1584.5v25M960.4 1602.3h25M972.9 1589.8v25M894.3 1566.6h25M906.8 1554.1v25M812.4 1614.2h25M824.9 1601.7v25M837.5 1610.2h25M850 1597.7v25M837.5 1620.8h25M850 1608.3v25M870.5 1599.6h25M883 1587.1v25M870.5 1623.4h25M883 1610.9v25M875.8 1628.7h25M888.3 1616.2v25M816.4 1663h25M828.9 1650.5v25M811.1 1639.3h25M823.6 1626.8v25M833.5 1643.2h25M846 1630.7v25M819.8 1523.6h25M832.3 1511.1v25M893.2 1564.7h25M905.7 1552.2v25M858 1567.6h25M870.5 1555.1v25M843.3 1611.7h25M855.8 1599.2v25M872.7 1620.5h25M885.2 1608v25M899.1 1620.5h25M911.6 1608v25M919.6 1638.1h25M932.1 1625.6v25M943.1 1617.5h25M955.6 1605v25M802.2 1611.7h25M814.7 1599.2v25M811 1635.2h25M823.5 1622.7v25M758.2 1649.8h25M770.7 1637.3v25M978.4 1526.5h25M990.9 1514v25M976.9 1479.6h25M989.4 1467.1v25M977.5 1473.2h25M990 1460.7v25M975.8 1488.1h25M988.3 1475.6v25M979.9 1526.4h25M992.4 1513.9v25M994.9 1524.7h25M1007.4 1512.2v25M1014 1548h25M1026.5 1535.5v25M1033.2 1538.9h25M1045.7 1526.4v25M961.6 1586.3h25M974.1 1573.8v25M982.4 1596.3h25M994.9 1583.8v25M987.4 1597.9h25M999.9 1585.4v25M962.5 1601.3h25M975 1588.8v25M1009.1 1616.2h25M1021.6 1603.7v25M1004.1 1649.5h25M1016.6 1637v25M1017.4 1644.5h25M1029.9 1632v25M969.1 1656.2h25M981.6 1643.7v25M982.4 1661.2h25M994.9 1648.7v25M959.1 1677.8h25M971.6 1665.3v25M1045.7 1646.2h25M1058.2 1633.7v25M1060.6 1622.9h25M1073.1 1610.4v25M999.9 1704.4h25M1012.4 1691.9v25M1167.9 1454.9h25M1180.4 1442.4v25M1176.2 1473.2h25M1188.7 1460.7v25M1190.4 1468.2h25M1202.9 1455.7v25M1177.1 1498.1h25M1189.6 1485.6v25M1157.1 1516.4h25M1169.6 1503.9v25M1187.1 1516.4h25M1199.6 1503.9v25M1192 1546.4h25M1204.5 1533.9v25M1182.1 1551.4h25M1194.6 1538.9v25M1112.2 1519.7h25M1124.7 1507.2v25M1122.2 1599.6h25M1134.7 1587.1v25M1147.1 1597.9h25M1159.6 1585.4v25M1163.8 1583h25M1176.3 1570.5v25M1195.4 1611.2h25M1207.9 1598.7v25M1185.4 1647.8h25M1197.9 1635.3v25M1200.4 1651.2h25M1212.9 1638.7v25M1202 1684.4h25M1214.5 1671.9v25M1045.7 1661.2h25M1058.2 1648.7v25M1203.2 1686h25M1215.7 1673.5v25M1274.9 1517.2h25M1287.4 1504.7v25M1252.4 1533.9h25M1264.9 1521.4v25M1264.1 1532.2h25M1276.6 1519.7v25M1294 1545.5h25M1306.5 1533v25M1314.8 1530.6h25M1327.3 1518.1v25M1378.8 1534.7h25M1391.3 1522.2v25M1338.9 1539.7h25M1351.4 1527.2v25M1352.2 1542.2h25M1364.7 1529.7v25M1418.8 1502.3h25M1431.3 1489.8v25M1412.1 1508.1h25M1424.6 1495.6v25M1420.4 1518.1h25M1432.9 1505.6v25M1408.8 1539.7h25M1421.3 1527.2v25M1430.4 1541.4h25M1442.9 1528.9v25M1451.2 1519.7h25M1463.7 1507.2v25M1462 1551.4h25M1474.5 1538.9v25M1257.4 1591.3h25M1269.9 1578.8v25M1284 1599.6h25M1296.5 1587.1v25M1312.3 1617.9h25M1324.8 1605.4v25M1330.6 1604.6h25M1343.1 1592.1v25M1348.1 1596.3h25M1360.6 1583.8v25M1358.1 1619.6h25M1370.6 1607.1v25M1398.8 1602.9h25M1411.3 1590.4v25M1447.1 1601.3h25M1459.6 1588.8v25M1457 1611.2h25M1469.5 1598.7v25M1467 1596.3h25M1479.5 1583.8v25M1472 1642.8h25M1484.5 1630.3v25M1345.6 1672.8h25M1358.1 1660.3v25M1230.8 1642.8h25M1243.3 1630.3v25M1473.7 1669.5h25M1486.2 1657v25M1520.8 1509.2h25M1533.3 1496.7v25M1507.2 1536.3h25M1519.7 1523.8v25M1501.8 1570.7h25M1514.3 1558.2v25M1462 1547.2h25M1474.5 1534.7v25M1463.8 1590.6h25M1476.3 1578.1v25M1456.5 1605.1h25M1469 1592.6v25M1474.6 1619.5h25M1487.1 1607v25M1480.1 1632.2h25M1492.6 1619.7v25M1496.4 1635.8h25M1508.9 1623.3v25M1487.3 1655.7h25M1499.8 1643.2v25M1476.5 1668.4h25M1489 1655.9v25M1533.5 1677.4h25M1546 1664.9v25M1545.2 1547.2h25M1557.7 1534.7v25M1568.7 1511h25M1581.2 1498.5v25M1599.5 1525.4h25M1612 1512.9v25M1657.4 1491.1h25M1669.9 1478.6v25M1671.9 1514.6h25M1684.4 1502.1v25M1652 1521.8h25M1664.5 1509.3v25M1690 1596h25M1702.5 1583.5v25M1688.2 1612.3h25M1700.7 1599.8v25M1650.2 1608.7h25M1662.7 1596.2v25M1666.5 1606.9h25M1679 1594.4v25M1695.4 1666.6h25M1707.9 1654.1v25M1477.5 1670.5h25M1490 1658v25M1488.1 1666h25M1500.6 1653.5v25" fill="none" stroke="#ff0000" stroke-width="5" shape-rendering="crispEdges"/>
<rect x="247.5" y="1225.6" width="1462.8" height="682.7" fill="none" stroke="#000" stroke-width="7"/>
<path d="M227 1225.6H247.5M1710.3 1225.6H1730.8M227 1339.4H247.5M1710.3 1339.4H1730.8M227 1453.2H247.5M1710.3 1453.2H1730.8M227 1566.9H247.5M1710.3 1566.9H1730.8M227 1680.7H247.5M1710.3 1680.7H1730.8M227 1794.5H247.5M1710.3 1794.5H1730.8M227 1908.3H247.5M1710.3 1908.3H1730.8M247.5 1205.1V1225.6M490.5 1205.1V1225.6M734.5 1205.1V1225.6M978.5 1205.1V1225.6M1222.5 1205.1V1225.6M1466.3 1205.1V1225.6M1710.3 1205.1V1225.6" stroke="#000" stroke-width="7" fill="none"/>
<rect x="917.8" y="1853" width="34" height="35" fill="#5b9bd5" rx="0"/>
<circle cx="1197" cy="1868.4" r="12.5" fill="none" stroke="#000" stroke-width="5"/>
<path d="M1453.2 1869.6h25M1465.7 1857.1v25" stroke="#ff0000" stroke-width="5"/>
<g><text transform="translate(369 1167) scale(0.955 1)" text-anchor="middle">15-Mar</text>
<text transform="translate(612.5 1167) scale(0.955 1)" text-anchor="middle">16-Mar</text>
<text transform="translate(856.5 1167) scale(0.955 1)" text-anchor="middle">17-Mar</text>
<text transform="translate(1100.5 1167) scale(0.955 1)" text-anchor="middle">18-Mar</text>
<text transform="translate(1344.4 1167) scale(0.955 1)" text-anchor="middle">19-Mar</text>
<text transform="translate(1588.3 1167) scale(0.955 1)" text-anchor="middle">20-Mar</text>
<text transform="translate(190.7 1244.6) scale(0.955 1)" text-anchor="end">300</text>
<text transform="translate(1768 1244.6) scale(0.955 1)">0</text>
<text transform="translate(190.7 1358.4) scale(0.955 1)" text-anchor="end">200</text>
<text transform="translate(1768 1358.4) scale(0.955 1)">-6</text>
<text transform="translate(190.7 1472.2) scale(0.955 1)" text-anchor="end">100</text>
<text transform="translate(1768 1472.2) scale(0.955 1)">-12</text>
<text transform="translate(190.7 1585.9) scale(0.955 1)" text-anchor="end">0</text>
<text transform="translate(1768 1585.9) scale(0.955 1)">-18</text>
<text transform="translate(190.7 1699.7) scale(0.955 1)" text-anchor="end">-100</text>
<text transform="translate(1768 1699.7) scale(0.955 1)">-24</text>
<text transform="translate(190.7 1813.5) scale(0.955 1)" text-anchor="end">-200</text>
<text transform="translate(1768 1813.5) scale(0.955 1)">-30</text>
<text transform="translate(190.7 1927.3) scale(0.955 1)" text-anchor="end">-300</text>
<text transform="translate(1768 1927.3) scale(0.955 1)">-36</text>
<text transform="translate(247.5 2006) scale(0.955 1)" text-anchor="middle">0:00</text>
<text transform="translate(490.5 2006) scale(0.955 1)" text-anchor="middle">0:00</text>
<text transform="translate(734.5 2006) scale(0.955 1)" text-anchor="middle">0:00</text>
<text transform="translate(978.5 2006) scale(0.955 1)" text-anchor="middle">0:00</text>
<text transform="translate(1222.5 2006) scale(0.955 1)" text-anchor="middle">0:00</text>
<text transform="translate(1466.3 2006) scale(0.955 1)" text-anchor="middle">0:00</text>
<text transform="translate(1710.3 2006) scale(0.955 1)" text-anchor="middle">0:00</text>
<text transform="translate(984.5 2071.5) scale(0.955 1)" text-anchor="middle">Time (UT)</text>
<text transform="translate(65.7 1567.4) rotate(-90) scale(0.955 1)" text-anchor="middle">Error</text>
<text transform="translate(1924.1 1574.1) rotate(-90) scale(0.955 1)" text-anchor="middle">&#916;RMS</text>
<text transform="translate(966.9 1893) scale(0.955 1)">&#916;RMS</text>
<text transform="translate(1228.7 1893) scale(0.955 1)">Err(M)</text>
<text transform="translate(1497.9 1893) scale(0.955 1)">Err(R)</text>
<text x="978.3" y="2196" text-anchor="middle" font-size="85">(<tspan font-weight="bold">b</tspan>)</text></g>
</svg></body></html>
